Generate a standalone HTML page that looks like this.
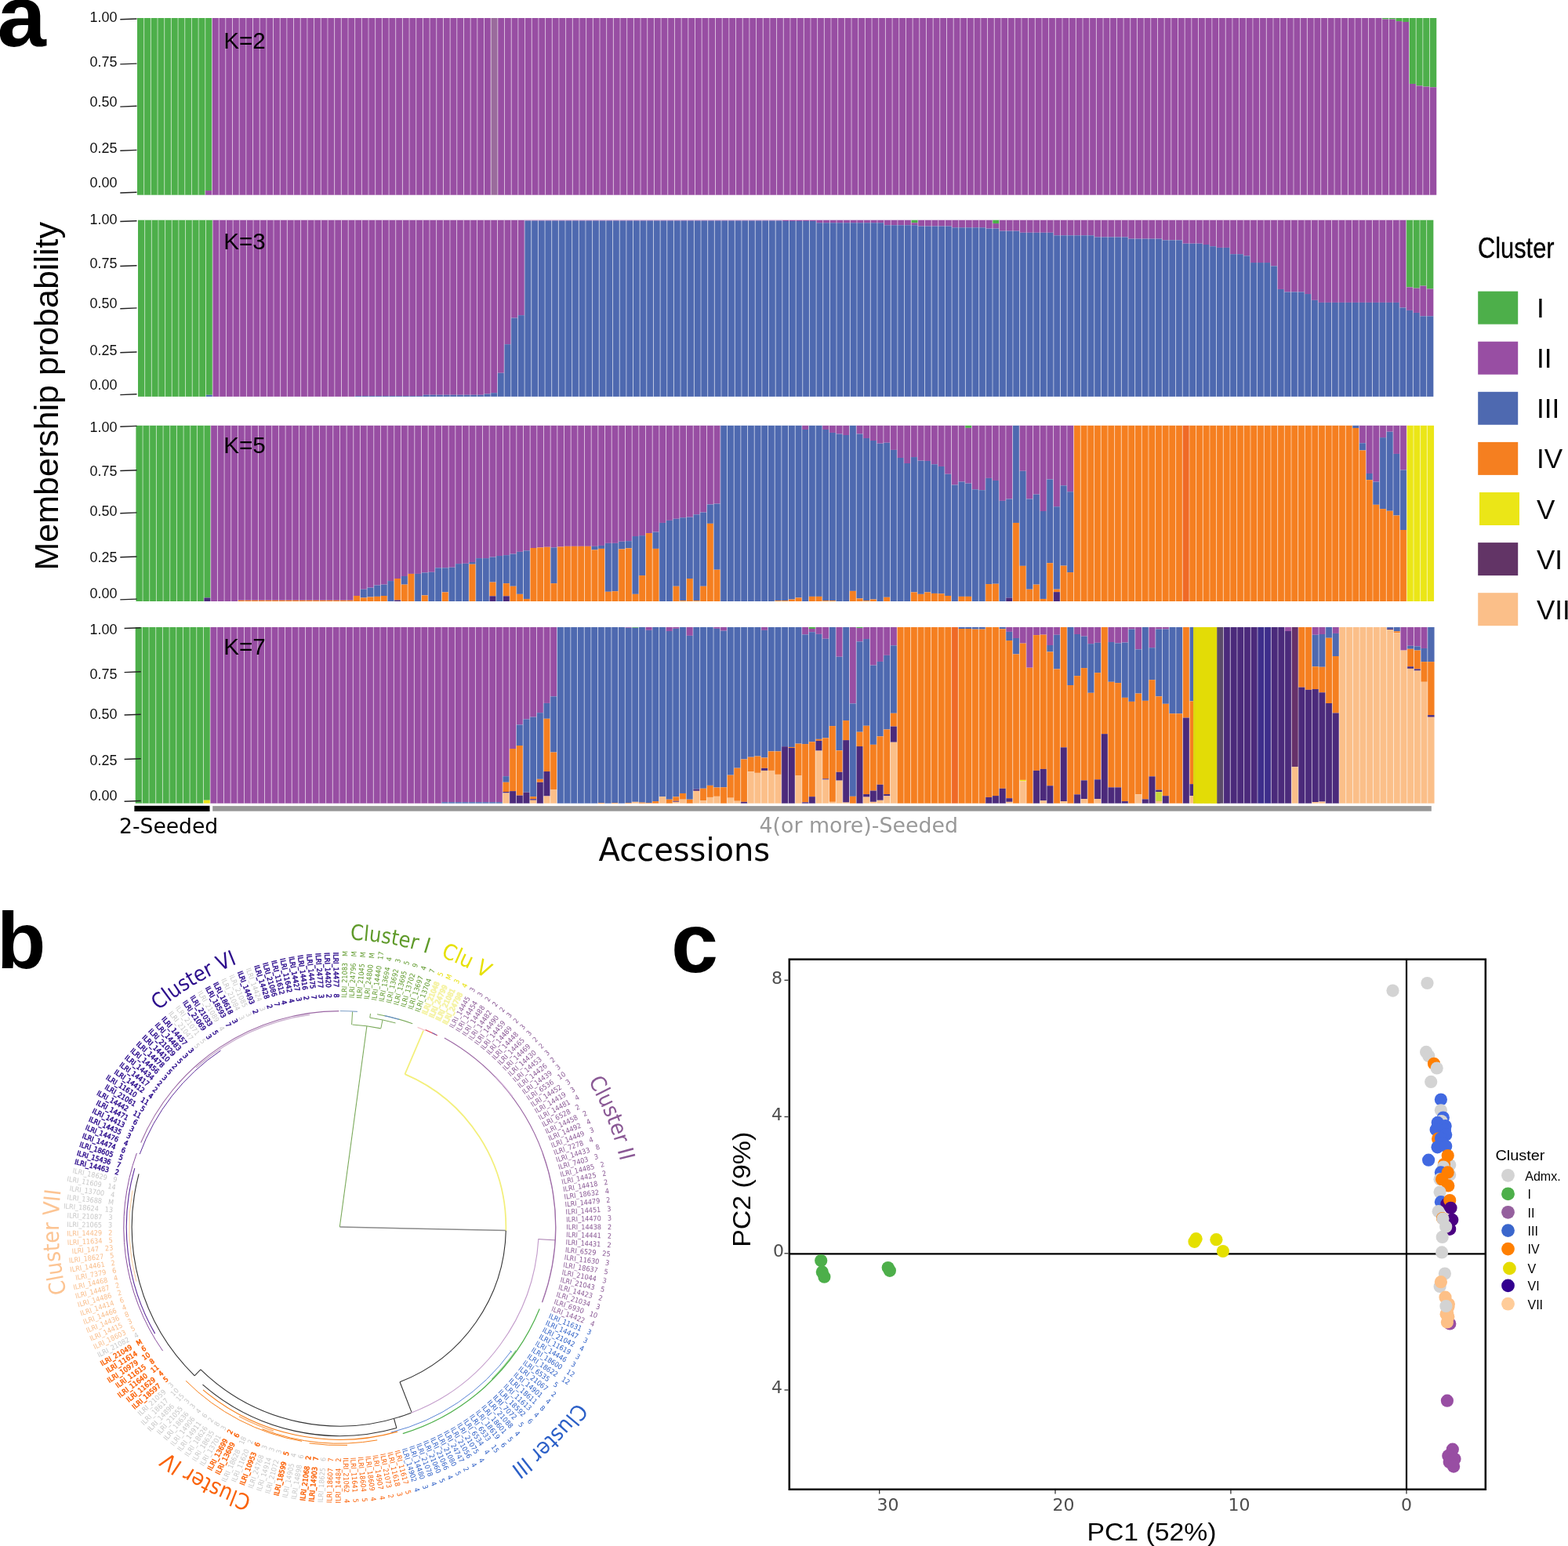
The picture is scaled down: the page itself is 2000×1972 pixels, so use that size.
<!DOCTYPE html>
<html><head><meta charset="utf-8"><title>Figure</title>
<style>html,body{margin:0;padding:0;background:#fff;}svg{display:block;}</style>
</head><body>
<svg xmlns="http://www.w3.org/2000/svg" width="2000" height="1972" viewBox="0 0 2000 1972">
<rect width="2000" height="1972" fill="#fff"/>
<rect x="175.00" y="23.00" width="8.73" height="225.70" fill="#4daf4a"/>
<rect x="183.68" y="23.00" width="8.73" height="225.70" fill="#4daf4a"/>
<rect x="192.35" y="23.00" width="8.73" height="225.70" fill="#4daf4a"/>
<rect x="201.03" y="23.00" width="8.73" height="225.70" fill="#4daf4a"/>
<rect x="209.71" y="23.00" width="8.73" height="225.70" fill="#4daf4a"/>
<rect x="218.38" y="23.00" width="8.73" height="225.70" fill="#4daf4a"/>
<rect x="227.06" y="23.00" width="8.73" height="225.70" fill="#4daf4a"/>
<rect x="235.74" y="23.00" width="8.73" height="225.70" fill="#4daf4a"/>
<rect x="244.41" y="23.00" width="8.73" height="225.70" fill="#4daf4a"/>
<rect x="253.09" y="23.00" width="8.73" height="225.70" fill="#4daf4a"/>
<rect x="261.76" y="23.00" width="8.73" height="220.06" fill="#4daf4a"/>
<rect x="261.76" y="243.06" width="8.73" height="5.64" fill="#984ea3"/>
<rect x="270.44" y="23.00" width="8.73" height="225.70" fill="#984ea3"/>
<rect x="279.12" y="23.00" width="8.73" height="225.70" fill="#984ea3"/>
<rect x="287.79" y="23.00" width="8.73" height="225.70" fill="#984ea3"/>
<rect x="296.47" y="23.00" width="8.73" height="225.70" fill="#984ea3"/>
<rect x="305.15" y="23.00" width="8.73" height="225.70" fill="#984ea3"/>
<rect x="313.82" y="23.00" width="8.73" height="225.70" fill="#984ea3"/>
<rect x="322.50" y="23.00" width="8.73" height="225.70" fill="#984ea3"/>
<rect x="331.18" y="23.00" width="8.73" height="225.70" fill="#984ea3"/>
<rect x="339.85" y="23.00" width="8.73" height="225.70" fill="#984ea3"/>
<rect x="348.53" y="23.00" width="8.73" height="225.70" fill="#984ea3"/>
<rect x="357.21" y="23.00" width="8.73" height="225.70" fill="#984ea3"/>
<rect x="365.88" y="23.00" width="8.73" height="225.70" fill="#984ea3"/>
<rect x="374.56" y="23.00" width="8.73" height="225.70" fill="#984ea3"/>
<rect x="383.23" y="23.00" width="8.73" height="225.70" fill="#984ea3"/>
<rect x="391.91" y="23.00" width="8.73" height="225.70" fill="#984ea3"/>
<rect x="400.59" y="23.00" width="8.73" height="225.70" fill="#984ea3"/>
<rect x="409.26" y="23.00" width="8.73" height="225.70" fill="#984ea3"/>
<rect x="417.94" y="23.00" width="8.73" height="225.70" fill="#984ea3"/>
<rect x="426.62" y="23.00" width="8.73" height="225.70" fill="#984ea3"/>
<rect x="435.29" y="23.00" width="8.73" height="225.70" fill="#984ea3"/>
<rect x="443.97" y="23.00" width="8.73" height="225.70" fill="#984ea3"/>
<rect x="452.65" y="23.00" width="8.73" height="225.70" fill="#984ea3"/>
<rect x="461.32" y="23.00" width="8.73" height="225.70" fill="#984ea3"/>
<rect x="470.00" y="23.00" width="8.73" height="225.70" fill="#984ea3"/>
<rect x="478.68" y="23.00" width="8.73" height="225.70" fill="#984ea3"/>
<rect x="487.35" y="23.00" width="8.73" height="225.70" fill="#984ea3"/>
<rect x="496.03" y="23.00" width="8.73" height="225.70" fill="#984ea3"/>
<rect x="504.70" y="23.00" width="8.73" height="225.70" fill="#984ea3"/>
<rect x="513.38" y="23.00" width="8.73" height="225.70" fill="#984ea3"/>
<rect x="522.06" y="23.00" width="8.73" height="225.70" fill="#984ea3"/>
<rect x="530.73" y="23.00" width="8.73" height="225.70" fill="#984ea3"/>
<rect x="539.41" y="23.00" width="8.73" height="225.70" fill="#984ea3"/>
<rect x="548.09" y="23.00" width="8.73" height="225.70" fill="#984ea3"/>
<rect x="556.76" y="23.00" width="8.73" height="225.70" fill="#984ea3"/>
<rect x="565.44" y="23.00" width="8.73" height="225.70" fill="#984ea3"/>
<rect x="574.12" y="23.00" width="8.73" height="225.70" fill="#984ea3"/>
<rect x="582.79" y="23.00" width="8.73" height="225.70" fill="#984ea3"/>
<rect x="591.47" y="23.00" width="8.73" height="225.70" fill="#984ea3"/>
<rect x="600.15" y="23.00" width="8.73" height="225.70" fill="#984ea3"/>
<rect x="608.82" y="23.00" width="8.73" height="225.70" fill="#984ea3"/>
<rect x="617.50" y="23.00" width="8.73" height="225.70" fill="#984ea3"/>
<rect x="626.17" y="23.00" width="8.73" height="225.70" fill="#9a6b9c"/>
<rect x="634.85" y="23.00" width="8.73" height="225.70" fill="#984ea3"/>
<rect x="643.53" y="23.00" width="8.73" height="225.70" fill="#984ea3"/>
<rect x="652.20" y="23.00" width="8.73" height="225.70" fill="#984ea3"/>
<rect x="660.88" y="23.00" width="8.73" height="225.70" fill="#984ea3"/>
<rect x="669.56" y="23.00" width="8.73" height="225.70" fill="#984ea3"/>
<rect x="678.23" y="23.00" width="8.73" height="225.70" fill="#984ea3"/>
<rect x="686.91" y="23.00" width="8.73" height="225.70" fill="#984ea3"/>
<rect x="695.59" y="23.00" width="8.73" height="225.70" fill="#984ea3"/>
<rect x="704.26" y="23.00" width="8.73" height="225.70" fill="#984ea3"/>
<rect x="712.94" y="23.00" width="8.73" height="225.70" fill="#984ea3"/>
<rect x="721.62" y="23.00" width="8.73" height="225.70" fill="#984ea3"/>
<rect x="730.29" y="23.00" width="8.73" height="225.70" fill="#984ea3"/>
<rect x="738.97" y="23.00" width="8.73" height="225.70" fill="#984ea3"/>
<rect x="747.65" y="23.00" width="8.73" height="225.70" fill="#984ea3"/>
<rect x="756.32" y="23.00" width="8.73" height="225.70" fill="#984ea3"/>
<rect x="765.00" y="23.00" width="8.73" height="225.70" fill="#984ea3"/>
<rect x="773.67" y="23.00" width="8.73" height="225.70" fill="#984ea3"/>
<rect x="782.35" y="23.00" width="8.73" height="225.70" fill="#984ea3"/>
<rect x="791.03" y="23.00" width="8.73" height="225.70" fill="#984ea3"/>
<rect x="799.70" y="23.00" width="8.73" height="225.70" fill="#984ea3"/>
<rect x="808.38" y="23.00" width="8.73" height="225.70" fill="#984ea3"/>
<rect x="817.06" y="23.00" width="8.73" height="225.70" fill="#984ea3"/>
<rect x="825.73" y="23.00" width="8.73" height="225.70" fill="#984ea3"/>
<rect x="834.41" y="23.00" width="8.73" height="225.70" fill="#984ea3"/>
<rect x="843.09" y="23.00" width="8.73" height="225.70" fill="#984ea3"/>
<rect x="851.76" y="23.00" width="8.73" height="225.70" fill="#984ea3"/>
<rect x="860.44" y="23.00" width="8.73" height="225.70" fill="#984ea3"/>
<rect x="869.12" y="23.00" width="8.73" height="225.70" fill="#984ea3"/>
<rect x="877.79" y="23.00" width="8.73" height="225.70" fill="#984ea3"/>
<rect x="886.47" y="23.00" width="8.73" height="225.70" fill="#984ea3"/>
<rect x="895.14" y="23.00" width="8.73" height="225.70" fill="#984ea3"/>
<rect x="903.82" y="23.00" width="8.73" height="225.70" fill="#984ea3"/>
<rect x="912.50" y="23.00" width="8.73" height="225.70" fill="#984ea3"/>
<rect x="921.17" y="23.00" width="8.73" height="225.70" fill="#984ea3"/>
<rect x="929.85" y="23.00" width="8.73" height="225.70" fill="#984ea3"/>
<rect x="938.53" y="23.00" width="8.73" height="225.70" fill="#984ea3"/>
<rect x="947.20" y="23.00" width="8.73" height="225.70" fill="#984ea3"/>
<rect x="955.88" y="23.00" width="8.73" height="225.70" fill="#984ea3"/>
<rect x="964.56" y="23.00" width="8.73" height="225.70" fill="#984ea3"/>
<rect x="973.23" y="23.00" width="8.73" height="225.70" fill="#984ea3"/>
<rect x="981.91" y="23.00" width="8.73" height="225.70" fill="#984ea3"/>
<rect x="990.59" y="23.00" width="8.73" height="225.70" fill="#984ea3"/>
<rect x="999.26" y="23.00" width="8.73" height="225.70" fill="#984ea3"/>
<rect x="1007.94" y="23.00" width="8.73" height="225.70" fill="#984ea3"/>
<rect x="1016.61" y="23.00" width="8.73" height="225.70" fill="#984ea3"/>
<rect x="1025.29" y="23.00" width="8.73" height="225.70" fill="#984ea3"/>
<rect x="1033.97" y="23.00" width="8.73" height="225.70" fill="#984ea3"/>
<rect x="1042.64" y="23.00" width="8.73" height="225.70" fill="#984ea3"/>
<rect x="1051.32" y="23.00" width="8.73" height="225.70" fill="#984ea3"/>
<rect x="1060.00" y="23.00" width="8.73" height="225.70" fill="#984ea3"/>
<rect x="1068.67" y="23.00" width="8.73" height="225.70" fill="#984ea3"/>
<rect x="1077.35" y="23.00" width="8.73" height="225.70" fill="#984ea3"/>
<rect x="1086.03" y="23.00" width="8.73" height="225.70" fill="#984ea3"/>
<rect x="1094.70" y="23.00" width="8.73" height="225.70" fill="#984ea3"/>
<rect x="1103.38" y="23.00" width="8.73" height="225.70" fill="#984ea3"/>
<rect x="1112.06" y="23.00" width="8.73" height="225.70" fill="#984ea3"/>
<rect x="1120.73" y="23.00" width="8.73" height="225.70" fill="#984ea3"/>
<rect x="1129.41" y="23.00" width="8.73" height="225.70" fill="#984ea3"/>
<rect x="1138.08" y="23.00" width="8.73" height="225.70" fill="#984ea3"/>
<rect x="1146.76" y="23.00" width="8.73" height="225.70" fill="#984ea3"/>
<rect x="1155.44" y="23.00" width="8.73" height="225.70" fill="#984ea3"/>
<rect x="1164.11" y="23.00" width="8.73" height="225.70" fill="#984ea3"/>
<rect x="1172.79" y="23.00" width="8.73" height="225.70" fill="#984ea3"/>
<rect x="1181.47" y="23.00" width="8.73" height="225.70" fill="#984ea3"/>
<rect x="1190.14" y="23.00" width="8.73" height="225.70" fill="#984ea3"/>
<rect x="1198.82" y="23.00" width="8.73" height="225.70" fill="#984ea3"/>
<rect x="1207.50" y="23.00" width="8.73" height="225.70" fill="#984ea3"/>
<rect x="1216.17" y="23.00" width="8.73" height="225.70" fill="#984ea3"/>
<rect x="1224.85" y="23.00" width="8.73" height="225.70" fill="#984ea3"/>
<rect x="1233.53" y="23.00" width="8.73" height="225.70" fill="#984ea3"/>
<rect x="1242.20" y="23.00" width="8.73" height="225.70" fill="#984ea3"/>
<rect x="1250.88" y="23.00" width="8.73" height="225.70" fill="#984ea3"/>
<rect x="1259.55" y="23.00" width="8.73" height="225.70" fill="#984ea3"/>
<rect x="1268.23" y="23.00" width="8.73" height="225.70" fill="#984ea3"/>
<rect x="1276.91" y="23.00" width="8.73" height="225.70" fill="#984ea3"/>
<rect x="1285.58" y="23.00" width="8.73" height="225.70" fill="#984ea3"/>
<rect x="1294.26" y="23.00" width="8.73" height="225.70" fill="#984ea3"/>
<rect x="1302.94" y="23.00" width="8.73" height="225.70" fill="#984ea3"/>
<rect x="1311.61" y="23.00" width="8.73" height="225.70" fill="#984ea3"/>
<rect x="1320.29" y="23.00" width="8.73" height="225.70" fill="#984ea3"/>
<rect x="1328.97" y="23.00" width="8.73" height="225.70" fill="#984ea3"/>
<rect x="1337.64" y="23.00" width="8.73" height="225.70" fill="#984ea3"/>
<rect x="1346.32" y="23.00" width="8.73" height="225.70" fill="#984ea3"/>
<rect x="1355.00" y="23.00" width="8.73" height="225.70" fill="#984ea3"/>
<rect x="1363.67" y="23.00" width="8.73" height="225.70" fill="#984ea3"/>
<rect x="1372.35" y="23.00" width="8.73" height="225.70" fill="#984ea3"/>
<rect x="1381.03" y="23.00" width="8.73" height="225.70" fill="#984ea3"/>
<rect x="1389.70" y="23.00" width="8.73" height="225.70" fill="#984ea3"/>
<rect x="1398.38" y="23.00" width="8.73" height="225.70" fill="#984ea3"/>
<rect x="1407.05" y="23.00" width="8.73" height="225.70" fill="#984ea3"/>
<rect x="1415.73" y="23.00" width="8.73" height="225.70" fill="#984ea3"/>
<rect x="1424.41" y="23.00" width="8.73" height="225.70" fill="#984ea3"/>
<rect x="1433.08" y="23.00" width="8.73" height="225.70" fill="#984ea3"/>
<rect x="1441.76" y="23.00" width="8.73" height="225.70" fill="#984ea3"/>
<rect x="1450.44" y="23.00" width="8.73" height="225.70" fill="#984ea3"/>
<rect x="1459.11" y="23.00" width="8.73" height="225.70" fill="#984ea3"/>
<rect x="1467.79" y="23.00" width="8.73" height="225.70" fill="#984ea3"/>
<rect x="1476.47" y="23.00" width="8.73" height="225.70" fill="#984ea3"/>
<rect x="1485.14" y="23.00" width="8.73" height="225.70" fill="#984ea3"/>
<rect x="1493.82" y="23.00" width="8.73" height="225.70" fill="#984ea3"/>
<rect x="1502.50" y="23.00" width="8.73" height="225.70" fill="#984ea3"/>
<rect x="1511.17" y="23.00" width="8.73" height="225.70" fill="#984ea3"/>
<rect x="1519.85" y="23.00" width="8.73" height="225.70" fill="#984ea3"/>
<rect x="1528.52" y="23.00" width="8.73" height="225.70" fill="#984ea3"/>
<rect x="1537.20" y="23.00" width="8.73" height="225.70" fill="#984ea3"/>
<rect x="1545.88" y="23.00" width="8.73" height="225.70" fill="#984ea3"/>
<rect x="1554.55" y="23.00" width="8.73" height="225.70" fill="#984ea3"/>
<rect x="1563.23" y="23.00" width="8.73" height="225.70" fill="#984ea3"/>
<rect x="1571.91" y="23.00" width="8.73" height="225.70" fill="#984ea3"/>
<rect x="1580.58" y="23.00" width="8.73" height="225.70" fill="#984ea3"/>
<rect x="1589.26" y="23.00" width="8.73" height="225.70" fill="#984ea3"/>
<rect x="1597.94" y="23.00" width="8.73" height="225.70" fill="#984ea3"/>
<rect x="1606.61" y="23.00" width="8.73" height="225.70" fill="#984ea3"/>
<rect x="1615.29" y="23.00" width="8.73" height="225.70" fill="#984ea3"/>
<rect x="1623.97" y="23.00" width="8.73" height="225.70" fill="#984ea3"/>
<rect x="1632.64" y="23.00" width="8.73" height="225.70" fill="#984ea3"/>
<rect x="1641.32" y="23.00" width="8.73" height="225.70" fill="#984ea3"/>
<rect x="1649.99" y="23.00" width="8.73" height="225.70" fill="#984ea3"/>
<rect x="1658.67" y="23.00" width="8.73" height="225.70" fill="#984ea3"/>
<rect x="1667.35" y="23.00" width="8.73" height="225.70" fill="#984ea3"/>
<rect x="1676.02" y="23.00" width="8.73" height="225.70" fill="#984ea3"/>
<rect x="1684.70" y="23.00" width="8.73" height="225.70" fill="#984ea3"/>
<rect x="1693.38" y="23.00" width="8.73" height="225.70" fill="#984ea3"/>
<rect x="1702.05" y="23.00" width="8.73" height="225.70" fill="#984ea3"/>
<rect x="1710.73" y="23.00" width="8.73" height="225.70" fill="#984ea3"/>
<rect x="1719.41" y="23.00" width="8.73" height="225.70" fill="#984ea3"/>
<rect x="1728.08" y="23.00" width="8.73" height="225.70" fill="#984ea3"/>
<rect x="1736.76" y="23.00" width="8.73" height="225.70" fill="#984ea3"/>
<rect x="1745.44" y="23.00" width="8.73" height="225.70" fill="#984ea3"/>
<rect x="1754.11" y="23.00" width="8.73" height="225.70" fill="#984ea3"/>
<rect x="1762.79" y="23.00" width="8.73" height="1.58" fill="#4daf4a"/>
<rect x="1762.79" y="24.58" width="8.73" height="224.12" fill="#984ea3"/>
<rect x="1771.46" y="23.00" width="8.73" height="1.58" fill="#4daf4a"/>
<rect x="1771.46" y="24.58" width="8.73" height="224.12" fill="#984ea3"/>
<rect x="1780.14" y="23.00" width="8.73" height="4.06" fill="#4daf4a"/>
<rect x="1780.14" y="27.06" width="8.73" height="221.64" fill="#984ea3"/>
<rect x="1788.82" y="23.00" width="8.73" height="4.97" fill="#4daf4a"/>
<rect x="1788.82" y="27.97" width="8.73" height="220.73" fill="#984ea3"/>
<rect x="1797.49" y="23.00" width="8.73" height="83.96" fill="#4daf4a"/>
<rect x="1797.49" y="106.96" width="8.73" height="141.74" fill="#984ea3"/>
<rect x="1806.17" y="23.00" width="8.73" height="86.44" fill="#4daf4a"/>
<rect x="1806.17" y="109.44" width="8.73" height="139.26" fill="#984ea3"/>
<rect x="1814.85" y="23.00" width="8.73" height="87.57" fill="#4daf4a"/>
<rect x="1814.85" y="110.57" width="8.73" height="138.13" fill="#984ea3"/>
<rect x="1823.52" y="23.00" width="8.73" height="88.25" fill="#4daf4a"/>
<rect x="1823.52" y="111.25" width="8.73" height="137.45" fill="#984ea3"/>
<path d="M183.68 23.0V248.7 M192.35 23.0V248.7 M201.03 23.0V248.7 M209.71 23.0V248.7 M218.38 23.0V248.7 M227.06 23.0V248.7 M235.74 23.0V248.7 M244.41 23.0V248.7 M253.09 23.0V248.7 M261.76 23.0V248.7 M270.44 23.0V248.7 M279.12 23.0V248.7 M287.79 23.0V248.7 M296.47 23.0V248.7 M305.15 23.0V248.7 M313.82 23.0V248.7 M322.50 23.0V248.7 M331.18 23.0V248.7 M339.85 23.0V248.7 M348.53 23.0V248.7 M357.21 23.0V248.7 M365.88 23.0V248.7 M374.56 23.0V248.7 M383.23 23.0V248.7 M391.91 23.0V248.7 M400.59 23.0V248.7 M409.26 23.0V248.7 M417.94 23.0V248.7 M426.62 23.0V248.7 M435.29 23.0V248.7 M443.97 23.0V248.7 M452.65 23.0V248.7 M461.32 23.0V248.7 M470.00 23.0V248.7 M478.68 23.0V248.7 M487.35 23.0V248.7 M496.03 23.0V248.7 M504.70 23.0V248.7 M513.38 23.0V248.7 M522.06 23.0V248.7 M530.73 23.0V248.7 M539.41 23.0V248.7 M548.09 23.0V248.7 M556.76 23.0V248.7 M565.44 23.0V248.7 M574.12 23.0V248.7 M582.79 23.0V248.7 M591.47 23.0V248.7 M600.15 23.0V248.7 M608.82 23.0V248.7 M617.50 23.0V248.7 M626.17 23.0V248.7 M634.85 23.0V248.7 M643.53 23.0V248.7 M652.20 23.0V248.7 M660.88 23.0V248.7 M669.56 23.0V248.7 M678.23 23.0V248.7 M686.91 23.0V248.7 M695.59 23.0V248.7 M704.26 23.0V248.7 M712.94 23.0V248.7 M721.62 23.0V248.7 M730.29 23.0V248.7 M738.97 23.0V248.7 M747.65 23.0V248.7 M756.32 23.0V248.7 M765.00 23.0V248.7 M773.67 23.0V248.7 M782.35 23.0V248.7 M791.03 23.0V248.7 M799.70 23.0V248.7 M808.38 23.0V248.7 M817.06 23.0V248.7 M825.73 23.0V248.7 M834.41 23.0V248.7 M843.09 23.0V248.7 M851.76 23.0V248.7 M860.44 23.0V248.7 M869.12 23.0V248.7 M877.79 23.0V248.7 M886.47 23.0V248.7 M895.14 23.0V248.7 M903.82 23.0V248.7 M912.50 23.0V248.7 M921.17 23.0V248.7 M929.85 23.0V248.7 M938.53 23.0V248.7 M947.20 23.0V248.7 M955.88 23.0V248.7 M964.56 23.0V248.7 M973.23 23.0V248.7 M981.91 23.0V248.7 M990.59 23.0V248.7 M999.26 23.0V248.7 M1007.94 23.0V248.7 M1016.61 23.0V248.7 M1025.29 23.0V248.7 M1033.97 23.0V248.7 M1042.64 23.0V248.7 M1051.32 23.0V248.7 M1060.00 23.0V248.7 M1068.67 23.0V248.7 M1077.35 23.0V248.7 M1086.03 23.0V248.7 M1094.70 23.0V248.7 M1103.38 23.0V248.7 M1112.06 23.0V248.7 M1120.73 23.0V248.7 M1129.41 23.0V248.7 M1138.08 23.0V248.7 M1146.76 23.0V248.7 M1155.44 23.0V248.7 M1164.11 23.0V248.7 M1172.79 23.0V248.7 M1181.47 23.0V248.7 M1190.14 23.0V248.7 M1198.82 23.0V248.7 M1207.50 23.0V248.7 M1216.17 23.0V248.7 M1224.85 23.0V248.7 M1233.53 23.0V248.7 M1242.20 23.0V248.7 M1250.88 23.0V248.7 M1259.55 23.0V248.7 M1268.23 23.0V248.7 M1276.91 23.0V248.7 M1285.58 23.0V248.7 M1294.26 23.0V248.7 M1302.94 23.0V248.7 M1311.61 23.0V248.7 M1320.29 23.0V248.7 M1328.97 23.0V248.7 M1337.64 23.0V248.7 M1346.32 23.0V248.7 M1355.00 23.0V248.7 M1363.67 23.0V248.7 M1372.35 23.0V248.7 M1381.03 23.0V248.7 M1389.70 23.0V248.7 M1398.38 23.0V248.7 M1407.05 23.0V248.7 M1415.73 23.0V248.7 M1424.41 23.0V248.7 M1433.08 23.0V248.7 M1441.76 23.0V248.7 M1450.44 23.0V248.7 M1459.11 23.0V248.7 M1467.79 23.0V248.7 M1476.47 23.0V248.7 M1485.14 23.0V248.7 M1493.82 23.0V248.7 M1502.50 23.0V248.7 M1511.17 23.0V248.7 M1519.85 23.0V248.7 M1528.52 23.0V248.7 M1537.20 23.0V248.7 M1545.88 23.0V248.7 M1554.55 23.0V248.7 M1563.23 23.0V248.7 M1571.91 23.0V248.7 M1580.58 23.0V248.7 M1589.26 23.0V248.7 M1597.94 23.0V248.7 M1606.61 23.0V248.7 M1615.29 23.0V248.7 M1623.97 23.0V248.7 M1632.64 23.0V248.7 M1641.32 23.0V248.7 M1649.99 23.0V248.7 M1658.67 23.0V248.7 M1667.35 23.0V248.7 M1676.02 23.0V248.7 M1684.70 23.0V248.7 M1693.38 23.0V248.7 M1702.05 23.0V248.7 M1710.73 23.0V248.7 M1719.41 23.0V248.7 M1728.08 23.0V248.7 M1736.76 23.0V248.7 M1745.44 23.0V248.7 M1754.11 23.0V248.7 M1762.79 23.0V248.7 M1771.46 23.0V248.7 M1780.14 23.0V248.7 M1788.82 23.0V248.7 M1797.49 23.0V248.7 M1806.17 23.0V248.7 M1814.85 23.0V248.7 M1823.52 23.0V248.7" stroke="#fff" stroke-width="0.9" stroke-opacity="0.6" fill="none"/>
<rect x="176.00" y="280.70" width="8.70" height="225.20" fill="#4daf4a"/>
<rect x="184.65" y="280.70" width="8.70" height="225.20" fill="#4daf4a"/>
<rect x="193.30" y="280.70" width="8.70" height="225.20" fill="#4daf4a"/>
<rect x="201.95" y="280.70" width="8.70" height="225.20" fill="#4daf4a"/>
<rect x="210.60" y="280.70" width="8.70" height="225.20" fill="#4daf4a"/>
<rect x="219.25" y="280.70" width="8.70" height="225.20" fill="#4daf4a"/>
<rect x="227.90" y="280.70" width="8.70" height="225.20" fill="#4daf4a"/>
<rect x="236.56" y="280.70" width="8.70" height="225.20" fill="#4daf4a"/>
<rect x="245.21" y="280.70" width="8.70" height="225.20" fill="#4daf4a"/>
<rect x="253.86" y="280.70" width="8.70" height="225.20" fill="#4daf4a"/>
<rect x="262.51" y="280.70" width="8.70" height="223.05" fill="#4daf4a"/>
<rect x="262.51" y="503.75" width="8.70" height="2.15" fill="#4e69b0"/>
<rect x="271.16" y="280.70" width="8.70" height="225.20" fill="#984ea3"/>
<rect x="279.81" y="280.70" width="8.70" height="225.20" fill="#984ea3"/>
<rect x="288.46" y="280.70" width="8.70" height="225.20" fill="#984ea3"/>
<rect x="297.11" y="280.70" width="8.70" height="225.20" fill="#984ea3"/>
<rect x="305.76" y="280.70" width="8.70" height="225.20" fill="#984ea3"/>
<rect x="314.41" y="280.70" width="8.70" height="225.20" fill="#984ea3"/>
<rect x="323.06" y="280.70" width="8.70" height="225.20" fill="#984ea3"/>
<rect x="331.71" y="280.70" width="8.70" height="225.20" fill="#984ea3"/>
<rect x="340.36" y="280.70" width="8.70" height="225.20" fill="#984ea3"/>
<rect x="349.02" y="280.70" width="8.70" height="225.20" fill="#984ea3"/>
<rect x="357.67" y="280.70" width="8.70" height="225.20" fill="#984ea3"/>
<rect x="366.32" y="280.70" width="8.70" height="225.20" fill="#984ea3"/>
<rect x="374.97" y="280.70" width="8.70" height="225.20" fill="#984ea3"/>
<rect x="383.62" y="280.70" width="8.70" height="225.20" fill="#984ea3"/>
<rect x="392.27" y="280.70" width="8.70" height="225.20" fill="#984ea3"/>
<rect x="400.92" y="280.70" width="8.70" height="225.20" fill="#984ea3"/>
<rect x="409.57" y="280.70" width="8.70" height="225.20" fill="#984ea3"/>
<rect x="418.22" y="280.70" width="8.70" height="225.20" fill="#984ea3"/>
<rect x="426.87" y="280.70" width="8.70" height="225.20" fill="#984ea3"/>
<rect x="435.52" y="280.70" width="8.70" height="225.20" fill="#984ea3"/>
<rect x="444.17" y="280.70" width="8.70" height="225.20" fill="#984ea3"/>
<rect x="452.83" y="280.70" width="8.70" height="224.34" fill="#984ea3"/>
<rect x="452.83" y="505.04" width="8.70" height="0.86" fill="#4e69b0"/>
<rect x="461.48" y="280.70" width="8.70" height="224.34" fill="#984ea3"/>
<rect x="461.48" y="505.04" width="8.70" height="0.86" fill="#4e69b0"/>
<rect x="470.13" y="280.70" width="8.70" height="224.34" fill="#984ea3"/>
<rect x="470.13" y="505.04" width="8.70" height="0.86" fill="#4e69b0"/>
<rect x="478.78" y="280.70" width="8.70" height="224.34" fill="#984ea3"/>
<rect x="478.78" y="505.04" width="8.70" height="0.86" fill="#4e69b0"/>
<rect x="487.43" y="280.70" width="8.70" height="224.34" fill="#984ea3"/>
<rect x="487.43" y="505.04" width="8.70" height="0.86" fill="#4e69b0"/>
<rect x="496.08" y="280.70" width="8.70" height="224.34" fill="#984ea3"/>
<rect x="496.08" y="505.04" width="8.70" height="0.86" fill="#4e69b0"/>
<rect x="504.73" y="280.70" width="8.70" height="224.34" fill="#984ea3"/>
<rect x="504.73" y="505.04" width="8.70" height="0.86" fill="#4e69b0"/>
<rect x="513.38" y="280.70" width="8.70" height="224.34" fill="#984ea3"/>
<rect x="513.38" y="505.04" width="8.70" height="0.86" fill="#4e69b0"/>
<rect x="522.03" y="280.70" width="8.70" height="224.34" fill="#984ea3"/>
<rect x="522.03" y="505.04" width="8.70" height="0.86" fill="#4e69b0"/>
<rect x="530.68" y="280.70" width="8.70" height="224.34" fill="#984ea3"/>
<rect x="530.68" y="505.04" width="8.70" height="0.86" fill="#4e69b0"/>
<rect x="539.33" y="280.70" width="8.70" height="223.05" fill="#984ea3"/>
<rect x="539.33" y="503.75" width="8.70" height="2.15" fill="#4e69b0"/>
<rect x="547.98" y="280.70" width="8.70" height="223.05" fill="#984ea3"/>
<rect x="547.98" y="503.75" width="8.70" height="2.15" fill="#4e69b0"/>
<rect x="556.63" y="280.70" width="8.70" height="223.05" fill="#984ea3"/>
<rect x="556.63" y="503.75" width="8.70" height="2.15" fill="#4e69b0"/>
<rect x="565.29" y="280.70" width="8.70" height="223.05" fill="#984ea3"/>
<rect x="565.29" y="503.75" width="8.70" height="2.15" fill="#4e69b0"/>
<rect x="573.94" y="280.70" width="8.70" height="223.05" fill="#984ea3"/>
<rect x="573.94" y="503.75" width="8.70" height="2.15" fill="#4e69b0"/>
<rect x="582.59" y="280.70" width="8.70" height="223.05" fill="#984ea3"/>
<rect x="582.59" y="503.75" width="8.70" height="2.15" fill="#4e69b0"/>
<rect x="591.24" y="280.70" width="8.70" height="223.05" fill="#984ea3"/>
<rect x="591.24" y="503.75" width="8.70" height="2.15" fill="#4e69b0"/>
<rect x="599.89" y="280.70" width="8.70" height="223.05" fill="#984ea3"/>
<rect x="599.89" y="503.75" width="8.70" height="2.15" fill="#4e69b0"/>
<rect x="608.54" y="280.70" width="8.70" height="223.05" fill="#984ea3"/>
<rect x="608.54" y="503.75" width="8.70" height="2.15" fill="#4e69b0"/>
<rect x="617.19" y="280.70" width="8.70" height="221.76" fill="#984ea3"/>
<rect x="617.19" y="502.46" width="8.70" height="3.44" fill="#4e69b0"/>
<rect x="625.84" y="280.70" width="8.70" height="220.46" fill="#984ea3"/>
<rect x="625.84" y="501.16" width="8.70" height="4.74" fill="#4e69b0"/>
<rect x="634.49" y="280.70" width="8.70" height="195.06" fill="#984ea3"/>
<rect x="634.49" y="475.76" width="8.70" height="30.14" fill="#4e69b0"/>
<rect x="643.14" y="280.70" width="8.70" height="158.46" fill="#984ea3"/>
<rect x="643.14" y="439.16" width="8.70" height="66.74" fill="#4e69b0"/>
<rect x="651.79" y="280.70" width="8.70" height="124.87" fill="#984ea3"/>
<rect x="651.79" y="405.57" width="8.70" height="100.33" fill="#4e69b0"/>
<rect x="660.44" y="280.70" width="8.70" height="121.43" fill="#984ea3"/>
<rect x="660.44" y="402.13" width="8.70" height="103.77" fill="#4e69b0"/>
<rect x="669.09" y="280.70" width="8.70" height="0.86" fill="#984ea3"/>
<rect x="669.09" y="281.56" width="8.70" height="224.34" fill="#4e69b0"/>
<rect x="677.75" y="280.70" width="8.70" height="0.86" fill="#984ea3"/>
<rect x="677.75" y="281.56" width="8.70" height="224.34" fill="#4e69b0"/>
<rect x="686.40" y="280.70" width="8.70" height="0.86" fill="#984ea3"/>
<rect x="686.40" y="281.56" width="8.70" height="224.34" fill="#4e69b0"/>
<rect x="695.05" y="280.70" width="8.70" height="0.86" fill="#984ea3"/>
<rect x="695.05" y="281.56" width="8.70" height="224.34" fill="#4e69b0"/>
<rect x="703.70" y="280.70" width="8.70" height="0.86" fill="#984ea3"/>
<rect x="703.70" y="281.56" width="8.70" height="224.34" fill="#4e69b0"/>
<rect x="712.35" y="280.70" width="8.70" height="0.86" fill="#984ea3"/>
<rect x="712.35" y="281.56" width="8.70" height="224.34" fill="#4e69b0"/>
<rect x="721.00" y="280.70" width="8.70" height="0.86" fill="#984ea3"/>
<rect x="721.00" y="281.56" width="8.70" height="224.34" fill="#4e69b0"/>
<rect x="729.65" y="280.70" width="8.70" height="0.86" fill="#984ea3"/>
<rect x="729.65" y="281.56" width="8.70" height="224.34" fill="#4e69b0"/>
<rect x="738.30" y="280.70" width="8.70" height="0.86" fill="#984ea3"/>
<rect x="738.30" y="281.56" width="8.70" height="224.34" fill="#4e69b0"/>
<rect x="746.95" y="280.70" width="8.70" height="0.86" fill="#984ea3"/>
<rect x="746.95" y="281.56" width="8.70" height="224.34" fill="#4e69b0"/>
<rect x="755.60" y="280.70" width="8.70" height="0.86" fill="#984ea3"/>
<rect x="755.60" y="281.56" width="8.70" height="224.34" fill="#4e69b0"/>
<rect x="764.25" y="280.70" width="8.70" height="0.86" fill="#984ea3"/>
<rect x="764.25" y="281.56" width="8.70" height="224.34" fill="#4e69b0"/>
<rect x="772.90" y="280.70" width="8.70" height="0.86" fill="#984ea3"/>
<rect x="772.90" y="281.56" width="8.70" height="224.34" fill="#4e69b0"/>
<rect x="781.55" y="280.70" width="8.70" height="0.86" fill="#984ea3"/>
<rect x="781.55" y="281.56" width="8.70" height="224.34" fill="#4e69b0"/>
<rect x="790.21" y="280.70" width="8.70" height="0.86" fill="#984ea3"/>
<rect x="790.21" y="281.56" width="8.70" height="224.34" fill="#4e69b0"/>
<rect x="798.86" y="280.70" width="8.70" height="0.86" fill="#984ea3"/>
<rect x="798.86" y="281.56" width="8.70" height="224.34" fill="#4e69b0"/>
<rect x="807.51" y="280.70" width="8.70" height="0.86" fill="#984ea3"/>
<rect x="807.51" y="281.56" width="8.70" height="224.34" fill="#4e69b0"/>
<rect x="816.16" y="280.70" width="8.70" height="0.86" fill="#984ea3"/>
<rect x="816.16" y="281.56" width="8.70" height="224.34" fill="#4e69b0"/>
<rect x="824.81" y="280.70" width="8.70" height="0.86" fill="#984ea3"/>
<rect x="824.81" y="281.56" width="8.70" height="224.34" fill="#4e69b0"/>
<rect x="833.46" y="280.70" width="8.70" height="0.86" fill="#984ea3"/>
<rect x="833.46" y="281.56" width="8.70" height="224.34" fill="#4e69b0"/>
<rect x="842.11" y="280.70" width="8.70" height="0.86" fill="#984ea3"/>
<rect x="842.11" y="281.56" width="8.70" height="224.34" fill="#4e69b0"/>
<rect x="850.76" y="280.70" width="8.70" height="0.86" fill="#984ea3"/>
<rect x="850.76" y="281.56" width="8.70" height="224.34" fill="#4e69b0"/>
<rect x="859.41" y="280.70" width="8.70" height="0.86" fill="#984ea3"/>
<rect x="859.41" y="281.56" width="8.70" height="224.34" fill="#4e69b0"/>
<rect x="868.06" y="280.70" width="8.70" height="0.86" fill="#984ea3"/>
<rect x="868.06" y="281.56" width="8.70" height="224.34" fill="#4e69b0"/>
<rect x="876.71" y="280.70" width="8.70" height="0.86" fill="#984ea3"/>
<rect x="876.71" y="281.56" width="8.70" height="224.34" fill="#4e69b0"/>
<rect x="885.36" y="280.70" width="8.70" height="0.86" fill="#984ea3"/>
<rect x="885.36" y="281.56" width="8.70" height="224.34" fill="#4e69b0"/>
<rect x="894.02" y="280.70" width="8.70" height="0.86" fill="#984ea3"/>
<rect x="894.02" y="281.56" width="8.70" height="224.34" fill="#4e69b0"/>
<rect x="902.67" y="280.70" width="8.70" height="0.86" fill="#984ea3"/>
<rect x="902.67" y="281.56" width="8.70" height="224.34" fill="#4e69b0"/>
<rect x="911.32" y="280.70" width="8.70" height="0.86" fill="#984ea3"/>
<rect x="911.32" y="281.56" width="8.70" height="224.34" fill="#4e69b0"/>
<rect x="919.97" y="280.70" width="8.70" height="0.86" fill="#984ea3"/>
<rect x="919.97" y="281.56" width="8.70" height="224.34" fill="#4e69b0"/>
<rect x="928.62" y="280.70" width="8.70" height="0.86" fill="#984ea3"/>
<rect x="928.62" y="281.56" width="8.70" height="224.34" fill="#4e69b0"/>
<rect x="937.27" y="280.70" width="8.70" height="0.86" fill="#984ea3"/>
<rect x="937.27" y="281.56" width="8.70" height="224.34" fill="#4e69b0"/>
<rect x="945.92" y="280.70" width="8.70" height="0.86" fill="#984ea3"/>
<rect x="945.92" y="281.56" width="8.70" height="224.34" fill="#4e69b0"/>
<rect x="954.57" y="280.70" width="8.70" height="0.86" fill="#984ea3"/>
<rect x="954.57" y="281.56" width="8.70" height="224.34" fill="#4e69b0"/>
<rect x="963.22" y="280.70" width="8.70" height="0.86" fill="#984ea3"/>
<rect x="963.22" y="281.56" width="8.70" height="224.34" fill="#4e69b0"/>
<rect x="971.87" y="280.70" width="8.70" height="0.86" fill="#984ea3"/>
<rect x="971.87" y="281.56" width="8.70" height="224.34" fill="#4e69b0"/>
<rect x="980.52" y="280.70" width="8.70" height="0.86" fill="#984ea3"/>
<rect x="980.52" y="281.56" width="8.70" height="224.34" fill="#4e69b0"/>
<rect x="989.17" y="280.70" width="8.70" height="0.86" fill="#984ea3"/>
<rect x="989.17" y="281.56" width="8.70" height="224.34" fill="#4e69b0"/>
<rect x="997.82" y="280.70" width="8.70" height="1.30" fill="#984ea3"/>
<rect x="997.82" y="282.00" width="8.70" height="223.90" fill="#4e69b0"/>
<rect x="1006.48" y="280.70" width="8.70" height="1.30" fill="#984ea3"/>
<rect x="1006.48" y="282.00" width="8.70" height="223.90" fill="#4e69b0"/>
<rect x="1015.13" y="280.70" width="8.70" height="1.30" fill="#984ea3"/>
<rect x="1015.13" y="282.00" width="8.70" height="223.90" fill="#4e69b0"/>
<rect x="1023.78" y="280.70" width="8.70" height="1.30" fill="#984ea3"/>
<rect x="1023.78" y="282.00" width="8.70" height="223.90" fill="#4e69b0"/>
<rect x="1032.43" y="280.70" width="8.70" height="1.30" fill="#984ea3"/>
<rect x="1032.43" y="282.00" width="8.70" height="223.90" fill="#4e69b0"/>
<rect x="1041.08" y="280.70" width="8.70" height="3.48" fill="#984ea3"/>
<rect x="1041.08" y="284.18" width="8.70" height="221.72" fill="#4e69b0"/>
<rect x="1049.73" y="280.70" width="8.70" height="3.48" fill="#984ea3"/>
<rect x="1049.73" y="284.18" width="8.70" height="221.72" fill="#4e69b0"/>
<rect x="1058.38" y="280.70" width="8.70" height="3.48" fill="#984ea3"/>
<rect x="1058.38" y="284.18" width="8.70" height="221.72" fill="#4e69b0"/>
<rect x="1067.03" y="280.70" width="8.70" height="3.48" fill="#984ea3"/>
<rect x="1067.03" y="284.18" width="8.70" height="221.72" fill="#4e69b0"/>
<rect x="1075.68" y="280.70" width="8.70" height="3.48" fill="#984ea3"/>
<rect x="1075.68" y="284.18" width="8.70" height="221.72" fill="#4e69b0"/>
<rect x="1084.33" y="280.70" width="8.70" height="3.48" fill="#984ea3"/>
<rect x="1084.33" y="284.18" width="8.70" height="221.72" fill="#4e69b0"/>
<rect x="1092.98" y="280.70" width="8.70" height="3.48" fill="#984ea3"/>
<rect x="1092.98" y="284.18" width="8.70" height="221.72" fill="#4e69b0"/>
<rect x="1101.63" y="280.70" width="8.70" height="3.48" fill="#984ea3"/>
<rect x="1101.63" y="284.18" width="8.70" height="221.72" fill="#4e69b0"/>
<rect x="1110.28" y="280.70" width="8.70" height="3.48" fill="#984ea3"/>
<rect x="1110.28" y="284.18" width="8.70" height="221.72" fill="#4e69b0"/>
<rect x="1118.94" y="280.70" width="8.70" height="3.48" fill="#984ea3"/>
<rect x="1118.94" y="284.18" width="8.70" height="221.72" fill="#4e69b0"/>
<rect x="1127.59" y="280.70" width="8.70" height="6.52" fill="#984ea3"/>
<rect x="1127.59" y="287.22" width="8.70" height="218.68" fill="#4e69b0"/>
<rect x="1136.24" y="280.70" width="8.70" height="6.52" fill="#984ea3"/>
<rect x="1136.24" y="287.22" width="8.70" height="218.68" fill="#4e69b0"/>
<rect x="1144.89" y="280.70" width="8.70" height="6.52" fill="#984ea3"/>
<rect x="1144.89" y="287.22" width="8.70" height="218.68" fill="#4e69b0"/>
<rect x="1153.54" y="280.70" width="8.70" height="6.52" fill="#984ea3"/>
<rect x="1153.54" y="287.22" width="8.70" height="218.68" fill="#4e69b0"/>
<rect x="1162.19" y="280.70" width="8.70" height="3.48" fill="#4daf4a"/>
<rect x="1162.19" y="284.18" width="8.70" height="3.04" fill="#984ea3"/>
<rect x="1162.19" y="287.22" width="8.70" height="218.68" fill="#4e69b0"/>
<rect x="1170.84" y="280.70" width="8.70" height="7.83" fill="#984ea3"/>
<rect x="1170.84" y="288.53" width="8.70" height="217.37" fill="#4e69b0"/>
<rect x="1179.49" y="280.70" width="8.70" height="7.83" fill="#984ea3"/>
<rect x="1179.49" y="288.53" width="8.70" height="217.37" fill="#4e69b0"/>
<rect x="1188.14" y="280.70" width="8.70" height="7.83" fill="#984ea3"/>
<rect x="1188.14" y="288.53" width="8.70" height="217.37" fill="#4e69b0"/>
<rect x="1196.79" y="280.70" width="8.70" height="7.83" fill="#984ea3"/>
<rect x="1196.79" y="288.53" width="8.70" height="217.37" fill="#4e69b0"/>
<rect x="1205.44" y="280.70" width="8.70" height="7.83" fill="#984ea3"/>
<rect x="1205.44" y="288.53" width="8.70" height="217.37" fill="#4e69b0"/>
<rect x="1214.09" y="280.70" width="8.70" height="9.56" fill="#984ea3"/>
<rect x="1214.09" y="290.26" width="8.70" height="215.64" fill="#4e69b0"/>
<rect x="1222.75" y="280.70" width="8.70" height="9.56" fill="#984ea3"/>
<rect x="1222.75" y="290.26" width="8.70" height="215.64" fill="#4e69b0"/>
<rect x="1231.40" y="280.70" width="8.70" height="9.56" fill="#984ea3"/>
<rect x="1231.40" y="290.26" width="8.70" height="215.64" fill="#4e69b0"/>
<rect x="1240.05" y="280.70" width="8.70" height="9.56" fill="#984ea3"/>
<rect x="1240.05" y="290.26" width="8.70" height="215.64" fill="#4e69b0"/>
<rect x="1248.70" y="280.70" width="8.70" height="9.56" fill="#984ea3"/>
<rect x="1248.70" y="290.26" width="8.70" height="215.64" fill="#4e69b0"/>
<rect x="1257.35" y="280.70" width="8.70" height="10.87" fill="#984ea3"/>
<rect x="1257.35" y="291.57" width="8.70" height="214.33" fill="#4e69b0"/>
<rect x="1266.00" y="280.70" width="8.70" height="4.35" fill="#4daf4a"/>
<rect x="1266.00" y="285.05" width="8.70" height="6.52" fill="#984ea3"/>
<rect x="1266.00" y="291.57" width="8.70" height="214.33" fill="#4e69b0"/>
<rect x="1274.65" y="280.70" width="8.70" height="13.91" fill="#984ea3"/>
<rect x="1274.65" y="294.61" width="8.70" height="211.29" fill="#4e69b0"/>
<rect x="1283.30" y="280.70" width="8.70" height="13.91" fill="#984ea3"/>
<rect x="1283.30" y="294.61" width="8.70" height="211.29" fill="#4e69b0"/>
<rect x="1291.95" y="280.70" width="8.70" height="13.91" fill="#984ea3"/>
<rect x="1291.95" y="294.61" width="8.70" height="211.29" fill="#4e69b0"/>
<rect x="1300.60" y="280.70" width="8.70" height="16.09" fill="#984ea3"/>
<rect x="1300.60" y="296.79" width="8.70" height="209.11" fill="#4e69b0"/>
<rect x="1309.25" y="280.70" width="8.70" height="16.09" fill="#984ea3"/>
<rect x="1309.25" y="296.79" width="8.70" height="209.11" fill="#4e69b0"/>
<rect x="1317.90" y="280.70" width="8.70" height="16.09" fill="#984ea3"/>
<rect x="1317.90" y="296.79" width="8.70" height="209.11" fill="#4e69b0"/>
<rect x="1326.55" y="280.70" width="8.70" height="16.09" fill="#984ea3"/>
<rect x="1326.55" y="296.79" width="8.70" height="209.11" fill="#4e69b0"/>
<rect x="1335.21" y="280.70" width="8.70" height="16.09" fill="#984ea3"/>
<rect x="1335.21" y="296.79" width="8.70" height="209.11" fill="#4e69b0"/>
<rect x="1343.86" y="280.70" width="8.70" height="19.56" fill="#984ea3"/>
<rect x="1343.86" y="300.26" width="8.70" height="205.64" fill="#4e69b0"/>
<rect x="1352.51" y="280.70" width="8.70" height="19.56" fill="#984ea3"/>
<rect x="1352.51" y="300.26" width="8.70" height="205.64" fill="#4e69b0"/>
<rect x="1361.16" y="280.70" width="8.70" height="19.56" fill="#984ea3"/>
<rect x="1361.16" y="300.26" width="8.70" height="205.64" fill="#4e69b0"/>
<rect x="1369.81" y="280.70" width="8.70" height="19.56" fill="#984ea3"/>
<rect x="1369.81" y="300.26" width="8.70" height="205.64" fill="#4e69b0"/>
<rect x="1378.46" y="280.70" width="8.70" height="19.56" fill="#984ea3"/>
<rect x="1378.46" y="300.26" width="8.70" height="205.64" fill="#4e69b0"/>
<rect x="1387.11" y="280.70" width="8.70" height="19.56" fill="#984ea3"/>
<rect x="1387.11" y="300.26" width="8.70" height="205.64" fill="#4e69b0"/>
<rect x="1395.76" y="280.70" width="8.70" height="21.74" fill="#984ea3"/>
<rect x="1395.76" y="302.44" width="8.70" height="203.46" fill="#4e69b0"/>
<rect x="1404.41" y="280.70" width="8.70" height="21.74" fill="#984ea3"/>
<rect x="1404.41" y="302.44" width="8.70" height="203.46" fill="#4e69b0"/>
<rect x="1413.06" y="280.70" width="8.70" height="21.74" fill="#984ea3"/>
<rect x="1413.06" y="302.44" width="8.70" height="203.46" fill="#4e69b0"/>
<rect x="1421.71" y="280.70" width="8.70" height="21.74" fill="#984ea3"/>
<rect x="1421.71" y="302.44" width="8.70" height="203.46" fill="#4e69b0"/>
<rect x="1430.36" y="280.70" width="8.70" height="21.74" fill="#984ea3"/>
<rect x="1430.36" y="302.44" width="8.70" height="203.46" fill="#4e69b0"/>
<rect x="1439.01" y="280.70" width="8.70" height="23.91" fill="#984ea3"/>
<rect x="1439.01" y="304.61" width="8.70" height="201.29" fill="#4e69b0"/>
<rect x="1447.67" y="280.70" width="8.70" height="23.91" fill="#984ea3"/>
<rect x="1447.67" y="304.61" width="8.70" height="201.29" fill="#4e69b0"/>
<rect x="1456.32" y="280.70" width="8.70" height="23.91" fill="#984ea3"/>
<rect x="1456.32" y="304.61" width="8.70" height="201.29" fill="#4e69b0"/>
<rect x="1464.97" y="280.70" width="8.70" height="23.91" fill="#984ea3"/>
<rect x="1464.97" y="304.61" width="8.70" height="201.29" fill="#4e69b0"/>
<rect x="1473.62" y="280.70" width="8.70" height="23.91" fill="#984ea3"/>
<rect x="1473.62" y="304.61" width="8.70" height="201.29" fill="#4e69b0"/>
<rect x="1482.27" y="280.70" width="8.70" height="25.65" fill="#984ea3"/>
<rect x="1482.27" y="306.35" width="8.70" height="199.55" fill="#4e69b0"/>
<rect x="1490.92" y="280.70" width="8.70" height="25.65" fill="#984ea3"/>
<rect x="1490.92" y="306.35" width="8.70" height="199.55" fill="#4e69b0"/>
<rect x="1499.57" y="280.70" width="8.70" height="25.65" fill="#984ea3"/>
<rect x="1499.57" y="306.35" width="8.70" height="199.55" fill="#4e69b0"/>
<rect x="1508.22" y="280.70" width="8.70" height="30.00" fill="#984ea3"/>
<rect x="1508.22" y="310.70" width="8.70" height="195.20" fill="#4e69b0"/>
<rect x="1516.87" y="280.70" width="8.70" height="30.00" fill="#984ea3"/>
<rect x="1516.87" y="310.70" width="8.70" height="195.20" fill="#4e69b0"/>
<rect x="1525.52" y="280.70" width="8.70" height="30.00" fill="#984ea3"/>
<rect x="1525.52" y="310.70" width="8.70" height="195.20" fill="#4e69b0"/>
<rect x="1534.17" y="280.70" width="8.70" height="31.30" fill="#984ea3"/>
<rect x="1534.17" y="312.00" width="8.70" height="193.90" fill="#4e69b0"/>
<rect x="1542.82" y="280.70" width="8.70" height="33.48" fill="#984ea3"/>
<rect x="1542.82" y="314.18" width="8.70" height="191.72" fill="#4e69b0"/>
<rect x="1551.47" y="280.70" width="8.70" height="35.21" fill="#984ea3"/>
<rect x="1551.47" y="315.91" width="8.70" height="189.99" fill="#4e69b0"/>
<rect x="1560.13" y="280.70" width="8.70" height="35.21" fill="#984ea3"/>
<rect x="1560.13" y="315.91" width="8.70" height="189.99" fill="#4e69b0"/>
<rect x="1568.78" y="280.70" width="8.70" height="43.47" fill="#984ea3"/>
<rect x="1568.78" y="324.17" width="8.70" height="181.73" fill="#4e69b0"/>
<rect x="1577.43" y="280.70" width="8.70" height="43.47" fill="#984ea3"/>
<rect x="1577.43" y="324.17" width="8.70" height="181.73" fill="#4e69b0"/>
<rect x="1586.08" y="280.70" width="8.70" height="45.65" fill="#984ea3"/>
<rect x="1586.08" y="326.35" width="8.70" height="179.55" fill="#4e69b0"/>
<rect x="1594.73" y="280.70" width="8.70" height="54.34" fill="#984ea3"/>
<rect x="1594.73" y="335.04" width="8.70" height="170.86" fill="#4e69b0"/>
<rect x="1603.38" y="280.70" width="8.70" height="54.34" fill="#984ea3"/>
<rect x="1603.38" y="335.04" width="8.70" height="170.86" fill="#4e69b0"/>
<rect x="1612.03" y="280.70" width="8.70" height="54.34" fill="#984ea3"/>
<rect x="1612.03" y="335.04" width="8.70" height="170.86" fill="#4e69b0"/>
<rect x="1620.68" y="280.70" width="8.70" height="58.69" fill="#984ea3"/>
<rect x="1620.68" y="339.39" width="8.70" height="166.51" fill="#4e69b0"/>
<rect x="1629.33" y="280.70" width="8.70" height="88.25" fill="#984ea3"/>
<rect x="1629.33" y="368.95" width="8.70" height="136.95" fill="#4e69b0"/>
<rect x="1637.98" y="280.70" width="8.70" height="91.73" fill="#984ea3"/>
<rect x="1637.98" y="372.43" width="8.70" height="133.47" fill="#4e69b0"/>
<rect x="1646.63" y="280.70" width="8.70" height="91.73" fill="#984ea3"/>
<rect x="1646.63" y="372.43" width="8.70" height="133.47" fill="#4e69b0"/>
<rect x="1655.28" y="280.70" width="8.70" height="91.73" fill="#984ea3"/>
<rect x="1655.28" y="372.43" width="8.70" height="133.47" fill="#4e69b0"/>
<rect x="1663.94" y="280.70" width="8.70" height="94.34" fill="#984ea3"/>
<rect x="1663.94" y="375.04" width="8.70" height="130.86" fill="#4e69b0"/>
<rect x="1672.59" y="280.70" width="8.70" height="102.17" fill="#984ea3"/>
<rect x="1672.59" y="382.87" width="8.70" height="123.03" fill="#4e69b0"/>
<rect x="1681.24" y="280.70" width="8.70" height="105.21" fill="#984ea3"/>
<rect x="1681.24" y="385.91" width="8.70" height="119.99" fill="#4e69b0"/>
<rect x="1689.89" y="280.70" width="8.70" height="105.21" fill="#984ea3"/>
<rect x="1689.89" y="385.91" width="8.70" height="119.99" fill="#4e69b0"/>
<rect x="1698.54" y="280.70" width="8.70" height="105.21" fill="#984ea3"/>
<rect x="1698.54" y="385.91" width="8.70" height="119.99" fill="#4e69b0"/>
<rect x="1707.19" y="280.70" width="8.70" height="105.21" fill="#984ea3"/>
<rect x="1707.19" y="385.91" width="8.70" height="119.99" fill="#4e69b0"/>
<rect x="1715.84" y="280.70" width="8.70" height="105.21" fill="#984ea3"/>
<rect x="1715.84" y="385.91" width="8.70" height="119.99" fill="#4e69b0"/>
<rect x="1724.49" y="280.70" width="8.70" height="105.21" fill="#984ea3"/>
<rect x="1724.49" y="385.91" width="8.70" height="119.99" fill="#4e69b0"/>
<rect x="1733.14" y="280.70" width="8.70" height="105.21" fill="#984ea3"/>
<rect x="1733.14" y="385.91" width="8.70" height="119.99" fill="#4e69b0"/>
<rect x="1741.79" y="280.70" width="8.70" height="105.21" fill="#984ea3"/>
<rect x="1741.79" y="385.91" width="8.70" height="119.99" fill="#4e69b0"/>
<rect x="1750.44" y="280.70" width="8.70" height="105.21" fill="#984ea3"/>
<rect x="1750.44" y="385.91" width="8.70" height="119.99" fill="#4e69b0"/>
<rect x="1759.09" y="280.70" width="8.70" height="105.21" fill="#984ea3"/>
<rect x="1759.09" y="385.91" width="8.70" height="119.99" fill="#4e69b0"/>
<rect x="1767.74" y="280.70" width="8.70" height="105.21" fill="#984ea3"/>
<rect x="1767.74" y="385.91" width="8.70" height="119.99" fill="#4e69b0"/>
<rect x="1776.40" y="280.70" width="8.70" height="105.21" fill="#984ea3"/>
<rect x="1776.40" y="385.91" width="8.70" height="119.99" fill="#4e69b0"/>
<rect x="1785.05" y="280.70" width="8.70" height="111.73" fill="#984ea3"/>
<rect x="1785.05" y="392.43" width="8.70" height="113.47" fill="#4e69b0"/>
<rect x="1793.70" y="280.70" width="8.70" height="85.65" fill="#4daf4a"/>
<rect x="1793.70" y="366.35" width="8.70" height="29.56" fill="#984ea3"/>
<rect x="1793.70" y="395.91" width="8.70" height="109.99" fill="#4e69b0"/>
<rect x="1802.35" y="280.70" width="8.70" height="86.95" fill="#4daf4a"/>
<rect x="1802.35" y="367.65" width="8.70" height="31.30" fill="#984ea3"/>
<rect x="1802.35" y="398.95" width="8.70" height="106.95" fill="#4e69b0"/>
<rect x="1811.00" y="280.70" width="8.70" height="83.91" fill="#4daf4a"/>
<rect x="1811.00" y="364.61" width="8.70" height="38.69" fill="#984ea3"/>
<rect x="1811.00" y="403.30" width="8.70" height="102.60" fill="#4e69b0"/>
<rect x="1819.65" y="280.70" width="8.70" height="87.82" fill="#4daf4a"/>
<rect x="1819.65" y="368.52" width="8.70" height="34.78" fill="#984ea3"/>
<rect x="1819.65" y="403.30" width="8.70" height="102.60" fill="#4e69b0"/>
<path d="M184.65 280.7V505.9 M193.30 280.7V505.9 M201.95 280.7V505.9 M210.60 280.7V505.9 M219.25 280.7V505.9 M227.90 280.7V505.9 M236.56 280.7V505.9 M245.21 280.7V505.9 M253.86 280.7V505.9 M262.51 280.7V505.9 M271.16 280.7V505.9 M279.81 280.7V505.9 M288.46 280.7V505.9 M297.11 280.7V505.9 M305.76 280.7V505.9 M314.41 280.7V505.9 M323.06 280.7V505.9 M331.71 280.7V505.9 M340.36 280.7V505.9 M349.02 280.7V505.9 M357.67 280.7V505.9 M366.32 280.7V505.9 M374.97 280.7V505.9 M383.62 280.7V505.9 M392.27 280.7V505.9 M400.92 280.7V505.9 M409.57 280.7V505.9 M418.22 280.7V505.9 M426.87 280.7V505.9 M435.52 280.7V505.9 M444.17 280.7V505.9 M452.83 280.7V505.9 M461.48 280.7V505.9 M470.13 280.7V505.9 M478.78 280.7V505.9 M487.43 280.7V505.9 M496.08 280.7V505.9 M504.73 280.7V505.9 M513.38 280.7V505.9 M522.03 280.7V505.9 M530.68 280.7V505.9 M539.33 280.7V505.9 M547.98 280.7V505.9 M556.63 280.7V505.9 M565.29 280.7V505.9 M573.94 280.7V505.9 M582.59 280.7V505.9 M591.24 280.7V505.9 M599.89 280.7V505.9 M608.54 280.7V505.9 M617.19 280.7V505.9 M625.84 280.7V505.9 M634.49 280.7V505.9 M643.14 280.7V505.9 M651.79 280.7V505.9 M660.44 280.7V505.9 M669.09 280.7V505.9 M677.75 280.7V505.9 M686.40 280.7V505.9 M695.05 280.7V505.9 M703.70 280.7V505.9 M712.35 280.7V505.9 M721.00 280.7V505.9 M729.65 280.7V505.9 M738.30 280.7V505.9 M746.95 280.7V505.9 M755.60 280.7V505.9 M764.25 280.7V505.9 M772.90 280.7V505.9 M781.55 280.7V505.9 M790.21 280.7V505.9 M798.86 280.7V505.9 M807.51 280.7V505.9 M816.16 280.7V505.9 M824.81 280.7V505.9 M833.46 280.7V505.9 M842.11 280.7V505.9 M850.76 280.7V505.9 M859.41 280.7V505.9 M868.06 280.7V505.9 M876.71 280.7V505.9 M885.36 280.7V505.9 M894.02 280.7V505.9 M902.67 280.7V505.9 M911.32 280.7V505.9 M919.97 280.7V505.9 M928.62 280.7V505.9 M937.27 280.7V505.9 M945.92 280.7V505.9 M954.57 280.7V505.9 M963.22 280.7V505.9 M971.87 280.7V505.9 M980.52 280.7V505.9 M989.17 280.7V505.9 M997.82 280.7V505.9 M1006.48 280.7V505.9 M1015.13 280.7V505.9 M1023.78 280.7V505.9 M1032.43 280.7V505.9 M1041.08 280.7V505.9 M1049.73 280.7V505.9 M1058.38 280.7V505.9 M1067.03 280.7V505.9 M1075.68 280.7V505.9 M1084.33 280.7V505.9 M1092.98 280.7V505.9 M1101.63 280.7V505.9 M1110.28 280.7V505.9 M1118.94 280.7V505.9 M1127.59 280.7V505.9 M1136.24 280.7V505.9 M1144.89 280.7V505.9 M1153.54 280.7V505.9 M1162.19 280.7V505.9 M1170.84 280.7V505.9 M1179.49 280.7V505.9 M1188.14 280.7V505.9 M1196.79 280.7V505.9 M1205.44 280.7V505.9 M1214.09 280.7V505.9 M1222.75 280.7V505.9 M1231.40 280.7V505.9 M1240.05 280.7V505.9 M1248.70 280.7V505.9 M1257.35 280.7V505.9 M1266.00 280.7V505.9 M1274.65 280.7V505.9 M1283.30 280.7V505.9 M1291.95 280.7V505.9 M1300.60 280.7V505.9 M1309.25 280.7V505.9 M1317.90 280.7V505.9 M1326.55 280.7V505.9 M1335.21 280.7V505.9 M1343.86 280.7V505.9 M1352.51 280.7V505.9 M1361.16 280.7V505.9 M1369.81 280.7V505.9 M1378.46 280.7V505.9 M1387.11 280.7V505.9 M1395.76 280.7V505.9 M1404.41 280.7V505.9 M1413.06 280.7V505.9 M1421.71 280.7V505.9 M1430.36 280.7V505.9 M1439.01 280.7V505.9 M1447.67 280.7V505.9 M1456.32 280.7V505.9 M1464.97 280.7V505.9 M1473.62 280.7V505.9 M1482.27 280.7V505.9 M1490.92 280.7V505.9 M1499.57 280.7V505.9 M1508.22 280.7V505.9 M1516.87 280.7V505.9 M1525.52 280.7V505.9 M1534.17 280.7V505.9 M1542.82 280.7V505.9 M1551.47 280.7V505.9 M1560.13 280.7V505.9 M1568.78 280.7V505.9 M1577.43 280.7V505.9 M1586.08 280.7V505.9 M1594.73 280.7V505.9 M1603.38 280.7V505.9 M1612.03 280.7V505.9 M1620.68 280.7V505.9 M1629.33 280.7V505.9 M1637.98 280.7V505.9 M1646.63 280.7V505.9 M1655.28 280.7V505.9 M1663.94 280.7V505.9 M1672.59 280.7V505.9 M1681.24 280.7V505.9 M1689.89 280.7V505.9 M1698.54 280.7V505.9 M1707.19 280.7V505.9 M1715.84 280.7V505.9 M1724.49 280.7V505.9 M1733.14 280.7V505.9 M1741.79 280.7V505.9 M1750.44 280.7V505.9 M1759.09 280.7V505.9 M1767.74 280.7V505.9 M1776.40 280.7V505.9 M1785.05 280.7V505.9 M1793.70 280.7V505.9 M1802.35 280.7V505.9 M1811.00 280.7V505.9 M1819.65 280.7V505.9" stroke="#fff" stroke-width="0.9" stroke-opacity="0.6" fill="none"/>
<rect x="173.40" y="542.80" width="8.72" height="224.20" fill="#4daf4a"/>
<rect x="182.07" y="542.80" width="8.72" height="224.20" fill="#4daf4a"/>
<rect x="190.74" y="542.80" width="8.72" height="224.20" fill="#4daf4a"/>
<rect x="199.40" y="542.80" width="8.72" height="224.20" fill="#4daf4a"/>
<rect x="208.07" y="542.80" width="8.72" height="224.20" fill="#4daf4a"/>
<rect x="216.74" y="542.80" width="8.72" height="224.20" fill="#4daf4a"/>
<rect x="225.41" y="542.80" width="8.72" height="224.20" fill="#4daf4a"/>
<rect x="234.08" y="542.80" width="8.72" height="224.20" fill="#4daf4a"/>
<rect x="242.74" y="542.80" width="8.72" height="224.20" fill="#4daf4a"/>
<rect x="251.41" y="542.80" width="8.72" height="224.20" fill="#4daf4a"/>
<rect x="260.08" y="542.80" width="8.72" height="219.62" fill="#4daf4a"/>
<rect x="260.08" y="762.42" width="8.72" height="4.58" fill="#4b2a7b"/>
<rect x="268.75" y="542.80" width="8.72" height="224.20" fill="#984ea3"/>
<rect x="277.42" y="542.80" width="8.72" height="224.20" fill="#984ea3"/>
<rect x="286.08" y="542.80" width="8.72" height="224.20" fill="#984ea3"/>
<rect x="294.75" y="542.80" width="8.72" height="224.20" fill="#984ea3"/>
<rect x="303.42" y="542.80" width="8.72" height="222.98" fill="#984ea3"/>
<rect x="303.42" y="765.78" width="8.72" height="1.22" fill="#f57f20"/>
<rect x="312.09" y="542.80" width="8.72" height="222.98" fill="#984ea3"/>
<rect x="312.09" y="765.78" width="8.72" height="1.22" fill="#f57f20"/>
<rect x="320.76" y="542.80" width="8.72" height="222.98" fill="#984ea3"/>
<rect x="320.76" y="765.78" width="8.72" height="1.22" fill="#f57f20"/>
<rect x="329.43" y="542.80" width="8.72" height="222.98" fill="#984ea3"/>
<rect x="329.43" y="765.78" width="8.72" height="1.22" fill="#f57f20"/>
<rect x="338.09" y="542.80" width="8.72" height="222.98" fill="#984ea3"/>
<rect x="338.09" y="765.78" width="8.72" height="1.22" fill="#f57f20"/>
<rect x="346.76" y="542.80" width="8.72" height="222.98" fill="#984ea3"/>
<rect x="346.76" y="765.78" width="8.72" height="1.22" fill="#f57f20"/>
<rect x="355.43" y="542.80" width="8.72" height="222.98" fill="#984ea3"/>
<rect x="355.43" y="765.78" width="8.72" height="1.22" fill="#f57f20"/>
<rect x="364.10" y="542.80" width="8.72" height="222.98" fill="#984ea3"/>
<rect x="364.10" y="765.78" width="8.72" height="1.22" fill="#f57f20"/>
<rect x="372.77" y="542.80" width="8.72" height="222.98" fill="#984ea3"/>
<rect x="372.77" y="765.78" width="8.72" height="1.22" fill="#f57f20"/>
<rect x="381.43" y="542.80" width="8.72" height="222.98" fill="#984ea3"/>
<rect x="381.43" y="765.78" width="8.72" height="1.22" fill="#f57f20"/>
<rect x="390.10" y="542.80" width="8.72" height="222.98" fill="#984ea3"/>
<rect x="390.10" y="765.78" width="8.72" height="1.22" fill="#f57f20"/>
<rect x="398.77" y="542.80" width="8.72" height="222.98" fill="#984ea3"/>
<rect x="398.77" y="765.78" width="8.72" height="1.22" fill="#f57f20"/>
<rect x="407.44" y="542.80" width="8.72" height="222.98" fill="#984ea3"/>
<rect x="407.44" y="765.78" width="8.72" height="1.22" fill="#f57f20"/>
<rect x="416.11" y="542.80" width="8.72" height="222.98" fill="#984ea3"/>
<rect x="416.11" y="765.78" width="8.72" height="1.22" fill="#f57f20"/>
<rect x="424.77" y="542.80" width="8.72" height="222.98" fill="#984ea3"/>
<rect x="424.77" y="765.78" width="8.72" height="1.22" fill="#f57f20"/>
<rect x="433.44" y="542.80" width="8.72" height="222.98" fill="#984ea3"/>
<rect x="433.44" y="765.78" width="8.72" height="1.22" fill="#f57f20"/>
<rect x="442.11" y="542.80" width="8.72" height="222.98" fill="#984ea3"/>
<rect x="442.11" y="765.78" width="8.72" height="1.22" fill="#f57f20"/>
<rect x="450.78" y="542.80" width="8.72" height="217.18" fill="#984ea3"/>
<rect x="450.78" y="759.98" width="8.72" height="7.02" fill="#f57f20"/>
<rect x="459.45" y="542.80" width="8.72" height="208.95" fill="#984ea3"/>
<rect x="459.45" y="751.75" width="8.72" height="10.68" fill="#4e69b0"/>
<rect x="459.45" y="762.42" width="8.72" height="4.58" fill="#f57f20"/>
<rect x="468.11" y="542.80" width="8.72" height="206.81" fill="#984ea3"/>
<rect x="468.11" y="749.61" width="8.72" height="11.90" fill="#4e69b0"/>
<rect x="468.11" y="761.51" width="8.72" height="5.49" fill="#f57f20"/>
<rect x="476.78" y="542.80" width="8.72" height="203.76" fill="#984ea3"/>
<rect x="476.78" y="746.56" width="8.72" height="14.34" fill="#4e69b0"/>
<rect x="476.78" y="760.90" width="8.72" height="6.10" fill="#f57f20"/>
<rect x="485.45" y="542.80" width="8.72" height="202.85" fill="#984ea3"/>
<rect x="485.45" y="745.65" width="8.72" height="14.34" fill="#4e69b0"/>
<rect x="485.45" y="759.98" width="8.72" height="7.02" fill="#f57f20"/>
<rect x="494.12" y="542.80" width="8.72" height="198.27" fill="#984ea3"/>
<rect x="494.12" y="741.07" width="8.72" height="25.93" fill="#4e69b0"/>
<rect x="502.79" y="542.80" width="8.72" height="195.22" fill="#984ea3"/>
<rect x="502.79" y="738.02" width="8.72" height="27.45" fill="#f57f20"/>
<rect x="502.79" y="765.47" width="8.72" height="1.53" fill="#4b2a7b"/>
<rect x="511.45" y="542.80" width="8.72" height="192.17" fill="#984ea3"/>
<rect x="511.45" y="734.97" width="8.72" height="10.68" fill="#4e69b0"/>
<rect x="511.45" y="745.65" width="8.72" height="21.35" fill="#f57f20"/>
<rect x="520.12" y="542.80" width="8.72" height="189.12" fill="#984ea3"/>
<rect x="520.12" y="731.92" width="8.72" height="35.08" fill="#f57f20"/>
<rect x="528.79" y="542.80" width="8.72" height="189.12" fill="#984ea3"/>
<rect x="528.79" y="731.92" width="8.72" height="35.08" fill="#4e69b0"/>
<rect x="537.46" y="542.80" width="8.72" height="187.60" fill="#984ea3"/>
<rect x="537.46" y="730.40" width="8.72" height="28.98" fill="#4e69b0"/>
<rect x="537.46" y="759.37" width="8.72" height="7.63" fill="#f57f20"/>
<rect x="546.13" y="542.80" width="8.72" height="186.99" fill="#984ea3"/>
<rect x="546.13" y="729.79" width="8.72" height="37.21" fill="#4e69b0"/>
<rect x="554.79" y="542.80" width="8.72" height="181.50" fill="#984ea3"/>
<rect x="554.79" y="724.30" width="8.72" height="42.70" fill="#4e69b0"/>
<rect x="563.46" y="542.80" width="8.72" height="181.50" fill="#984ea3"/>
<rect x="563.46" y="724.30" width="8.72" height="31.11" fill="#4e69b0"/>
<rect x="563.46" y="755.41" width="8.72" height="11.59" fill="#f57f20"/>
<rect x="572.13" y="542.80" width="8.72" height="180.89" fill="#984ea3"/>
<rect x="572.13" y="723.69" width="8.72" height="43.31" fill="#4e69b0"/>
<rect x="580.80" y="542.80" width="8.72" height="176.31" fill="#984ea3"/>
<rect x="580.80" y="719.11" width="8.72" height="47.89" fill="#4e69b0"/>
<rect x="589.47" y="542.80" width="8.72" height="176.00" fill="#984ea3"/>
<rect x="589.47" y="718.80" width="8.72" height="48.20" fill="#4e69b0"/>
<rect x="598.14" y="542.80" width="8.72" height="174.17" fill="#984ea3"/>
<rect x="598.14" y="716.97" width="8.72" height="2.75" fill="#4e69b0"/>
<rect x="598.14" y="719.72" width="8.72" height="47.28" fill="#f57f20"/>
<rect x="606.80" y="542.80" width="8.72" height="169.29" fill="#984ea3"/>
<rect x="606.80" y="712.09" width="8.72" height="54.91" fill="#4e69b0"/>
<rect x="615.47" y="542.80" width="8.72" height="169.29" fill="#984ea3"/>
<rect x="615.47" y="712.09" width="8.72" height="54.91" fill="#4e69b0"/>
<rect x="624.14" y="542.80" width="8.72" height="167.77" fill="#984ea3"/>
<rect x="624.14" y="710.57" width="8.72" height="32.03" fill="#4e69b0"/>
<rect x="624.14" y="742.60" width="8.72" height="17.69" fill="#f57f20"/>
<rect x="624.14" y="760.29" width="8.72" height="6.71" fill="#4b2a7b"/>
<rect x="632.81" y="542.80" width="8.72" height="166.24" fill="#984ea3"/>
<rect x="632.81" y="709.04" width="8.72" height="57.96" fill="#4e69b0"/>
<rect x="641.48" y="542.80" width="8.72" height="165.33" fill="#984ea3"/>
<rect x="641.48" y="708.13" width="8.72" height="35.99" fill="#4e69b0"/>
<rect x="641.48" y="744.12" width="8.72" height="16.17" fill="#f57f20"/>
<rect x="641.48" y="760.29" width="8.72" height="6.71" fill="#4b2a7b"/>
<rect x="650.14" y="542.80" width="8.72" height="163.80" fill="#984ea3"/>
<rect x="650.14" y="706.60" width="8.72" height="41.18" fill="#4e69b0"/>
<rect x="650.14" y="747.78" width="8.72" height="19.22" fill="#f57f20"/>
<rect x="658.81" y="542.80" width="8.72" height="161.06" fill="#984ea3"/>
<rect x="658.81" y="703.86" width="8.72" height="53.99" fill="#4e69b0"/>
<rect x="658.81" y="757.85" width="8.72" height="9.15" fill="#f57f20"/>
<rect x="667.48" y="542.80" width="8.72" height="159.53" fill="#984ea3"/>
<rect x="667.48" y="702.33" width="8.72" height="61.62" fill="#4e69b0"/>
<rect x="667.48" y="763.95" width="8.72" height="3.05" fill="#f57f20"/>
<rect x="676.15" y="542.80" width="8.72" height="156.18" fill="#984ea3"/>
<rect x="676.15" y="698.98" width="8.72" height="68.02" fill="#f57f20"/>
<rect x="684.82" y="542.80" width="8.72" height="155.57" fill="#984ea3"/>
<rect x="684.82" y="698.37" width="8.72" height="68.63" fill="#f57f20"/>
<rect x="693.48" y="542.80" width="8.72" height="154.96" fill="#984ea3"/>
<rect x="693.48" y="697.76" width="8.72" height="69.24" fill="#f57f20"/>
<rect x="702.15" y="542.80" width="8.72" height="155.57" fill="#984ea3"/>
<rect x="702.15" y="698.37" width="8.72" height="45.76" fill="#4e69b0"/>
<rect x="702.15" y="744.12" width="8.72" height="22.88" fill="#f57f20"/>
<rect x="710.82" y="542.80" width="8.72" height="154.65" fill="#984ea3"/>
<rect x="710.82" y="697.45" width="8.72" height="69.55" fill="#f57f20"/>
<rect x="719.49" y="542.80" width="8.72" height="154.04" fill="#984ea3"/>
<rect x="719.49" y="696.84" width="8.72" height="70.16" fill="#f57f20"/>
<rect x="728.16" y="542.80" width="8.72" height="154.04" fill="#984ea3"/>
<rect x="728.16" y="696.84" width="8.72" height="70.16" fill="#f57f20"/>
<rect x="736.82" y="542.80" width="8.72" height="154.04" fill="#984ea3"/>
<rect x="736.82" y="696.84" width="8.72" height="70.16" fill="#f57f20"/>
<rect x="745.49" y="542.80" width="8.72" height="154.04" fill="#984ea3"/>
<rect x="745.49" y="696.84" width="8.72" height="70.16" fill="#f57f20"/>
<rect x="754.16" y="542.80" width="8.72" height="154.04" fill="#984ea3"/>
<rect x="754.16" y="696.84" width="8.72" height="4.58" fill="#4e69b0"/>
<rect x="754.16" y="701.42" width="8.72" height="65.58" fill="#f57f20"/>
<rect x="762.83" y="542.80" width="8.72" height="153.13" fill="#984ea3"/>
<rect x="762.83" y="695.93" width="8.72" height="3.97" fill="#4e69b0"/>
<rect x="762.83" y="699.89" width="8.72" height="67.11" fill="#f57f20"/>
<rect x="771.50" y="542.80" width="8.72" height="150.08" fill="#984ea3"/>
<rect x="771.50" y="692.88" width="8.72" height="61.92" fill="#4e69b0"/>
<rect x="771.50" y="754.80" width="8.72" height="12.20" fill="#f57f20"/>
<rect x="780.16" y="542.80" width="8.72" height="150.08" fill="#984ea3"/>
<rect x="780.16" y="692.88" width="8.72" height="61.31" fill="#4e69b0"/>
<rect x="780.16" y="754.19" width="8.72" height="12.81" fill="#f57f20"/>
<rect x="788.83" y="542.80" width="8.72" height="147.94" fill="#984ea3"/>
<rect x="788.83" y="690.74" width="8.72" height="9.76" fill="#4e69b0"/>
<rect x="788.83" y="700.50" width="8.72" height="66.50" fill="#f57f20"/>
<rect x="797.50" y="542.80" width="8.72" height="147.33" fill="#984ea3"/>
<rect x="797.50" y="690.13" width="8.72" height="9.15" fill="#4e69b0"/>
<rect x="797.50" y="699.28" width="8.72" height="67.72" fill="#f57f20"/>
<rect x="806.17" y="542.80" width="8.72" height="141.23" fill="#984ea3"/>
<rect x="806.17" y="684.03" width="8.72" height="73.82" fill="#4e69b0"/>
<rect x="806.17" y="757.85" width="8.72" height="9.15" fill="#f57f20"/>
<rect x="814.84" y="542.80" width="8.72" height="140.32" fill="#984ea3"/>
<rect x="814.84" y="683.12" width="8.72" height="50.94" fill="#4e69b0"/>
<rect x="814.84" y="734.06" width="8.72" height="32.94" fill="#f57f20"/>
<rect x="823.50" y="542.80" width="8.72" height="137.27" fill="#984ea3"/>
<rect x="823.50" y="680.07" width="8.72" height="86.93" fill="#f57f20"/>
<rect x="832.17" y="542.80" width="8.72" height="135.74" fill="#984ea3"/>
<rect x="832.17" y="678.54" width="8.72" height="21.35" fill="#4e69b0"/>
<rect x="832.17" y="699.89" width="8.72" height="67.11" fill="#f57f20"/>
<rect x="840.84" y="542.80" width="8.72" height="124.15" fill="#984ea3"/>
<rect x="840.84" y="666.95" width="8.72" height="100.05" fill="#4e69b0"/>
<rect x="849.51" y="542.80" width="8.72" height="121.10" fill="#984ea3"/>
<rect x="849.51" y="663.90" width="8.72" height="103.10" fill="#4e69b0"/>
<rect x="858.18" y="542.80" width="8.72" height="118.96" fill="#984ea3"/>
<rect x="858.18" y="661.76" width="8.72" height="86.02" fill="#4e69b0"/>
<rect x="858.18" y="747.78" width="8.72" height="19.22" fill="#f57f20"/>
<rect x="866.85" y="542.80" width="8.72" height="117.44" fill="#984ea3"/>
<rect x="866.85" y="660.24" width="8.72" height="105.85" fill="#4e69b0"/>
<rect x="866.85" y="766.08" width="8.72" height="0.92" fill="#f57f20"/>
<rect x="875.51" y="542.80" width="8.72" height="116.83" fill="#984ea3"/>
<rect x="875.51" y="659.63" width="8.72" height="78.39" fill="#4e69b0"/>
<rect x="875.51" y="738.02" width="8.72" height="28.98" fill="#f57f20"/>
<rect x="884.18" y="542.80" width="8.72" height="113.47" fill="#984ea3"/>
<rect x="884.18" y="656.27" width="8.72" height="109.81" fill="#4e69b0"/>
<rect x="884.18" y="766.08" width="8.72" height="0.92" fill="#f57f20"/>
<rect x="892.85" y="542.80" width="8.72" height="110.73" fill="#984ea3"/>
<rect x="892.85" y="653.53" width="8.72" height="94.26" fill="#4e69b0"/>
<rect x="892.85" y="747.78" width="8.72" height="19.22" fill="#f57f20"/>
<rect x="901.52" y="542.80" width="8.72" height="100.66" fill="#984ea3"/>
<rect x="901.52" y="643.46" width="8.72" height="24.40" fill="#4e69b0"/>
<rect x="901.52" y="667.86" width="8.72" height="99.14" fill="#f57f20"/>
<rect x="910.19" y="542.80" width="8.72" height="99.75" fill="#984ea3"/>
<rect x="910.19" y="642.55" width="8.72" height="84.19" fill="#4e69b0"/>
<rect x="910.19" y="726.74" width="8.72" height="40.26" fill="#f57f20"/>
<rect x="918.85" y="542.80" width="8.72" height="224.20" fill="#4e69b0"/>
<rect x="927.52" y="542.80" width="8.72" height="224.20" fill="#4e69b0"/>
<rect x="936.19" y="542.80" width="8.72" height="224.20" fill="#4e69b0"/>
<rect x="944.86" y="542.80" width="8.72" height="224.20" fill="#4e69b0"/>
<rect x="953.53" y="542.80" width="8.72" height="224.20" fill="#4e69b0"/>
<rect x="962.19" y="542.80" width="8.72" height="224.20" fill="#4e69b0"/>
<rect x="970.86" y="542.80" width="8.72" height="224.20" fill="#4e69b0"/>
<rect x="979.53" y="542.80" width="8.72" height="224.20" fill="#4e69b0"/>
<rect x="988.20" y="542.80" width="8.72" height="223.28" fill="#4e69b0"/>
<rect x="988.20" y="766.08" width="8.72" height="0.92" fill="#f57f20"/>
<rect x="996.87" y="542.80" width="8.72" height="223.28" fill="#4e69b0"/>
<rect x="996.87" y="766.08" width="8.72" height="0.92" fill="#f57f20"/>
<rect x="1005.53" y="542.80" width="8.72" height="221.76" fill="#4e69b0"/>
<rect x="1005.53" y="764.56" width="8.72" height="2.44" fill="#f57f20"/>
<rect x="1014.20" y="542.80" width="8.72" height="219.62" fill="#4e69b0"/>
<rect x="1014.20" y="762.42" width="8.72" height="4.58" fill="#f57f20"/>
<rect x="1022.87" y="542.80" width="8.72" height="5.19" fill="#984ea3"/>
<rect x="1022.87" y="547.99" width="8.72" height="219.01" fill="#4e69b0"/>
<rect x="1031.54" y="542.80" width="8.72" height="218.10" fill="#4e69b0"/>
<rect x="1031.54" y="760.90" width="8.72" height="6.10" fill="#f57f20"/>
<rect x="1040.21" y="542.80" width="8.72" height="218.10" fill="#4e69b0"/>
<rect x="1040.21" y="760.90" width="8.72" height="6.10" fill="#f57f20"/>
<rect x="1048.87" y="542.80" width="8.72" height="5.19" fill="#984ea3"/>
<rect x="1048.87" y="547.99" width="8.72" height="218.10" fill="#4e69b0"/>
<rect x="1048.87" y="766.08" width="8.72" height="0.92" fill="#f57f20"/>
<rect x="1057.54" y="542.80" width="8.72" height="9.15" fill="#984ea3"/>
<rect x="1057.54" y="551.95" width="8.72" height="214.13" fill="#4e69b0"/>
<rect x="1057.54" y="766.08" width="8.72" height="0.92" fill="#f57f20"/>
<rect x="1066.21" y="542.80" width="8.72" height="10.68" fill="#984ea3"/>
<rect x="1066.21" y="553.48" width="8.72" height="213.52" fill="#4e69b0"/>
<rect x="1074.88" y="542.80" width="8.72" height="12.20" fill="#984ea3"/>
<rect x="1074.88" y="555.00" width="8.72" height="212.00" fill="#4e69b0"/>
<rect x="1083.55" y="542.80" width="8.72" height="211.08" fill="#4e69b0"/>
<rect x="1083.55" y="753.88" width="8.72" height="13.12" fill="#f57f20"/>
<rect x="1092.21" y="542.80" width="8.72" height="10.68" fill="#984ea3"/>
<rect x="1092.21" y="553.48" width="8.72" height="209.86" fill="#4e69b0"/>
<rect x="1092.21" y="763.34" width="8.72" height="3.66" fill="#f57f20"/>
<rect x="1100.88" y="542.80" width="8.72" height="16.17" fill="#984ea3"/>
<rect x="1100.88" y="558.97" width="8.72" height="207.12" fill="#4e69b0"/>
<rect x="1100.88" y="766.08" width="8.72" height="0.92" fill="#f57f20"/>
<rect x="1109.55" y="542.80" width="8.72" height="19.22" fill="#984ea3"/>
<rect x="1109.55" y="562.02" width="8.72" height="202.54" fill="#4e69b0"/>
<rect x="1109.55" y="764.56" width="8.72" height="2.44" fill="#f57f20"/>
<rect x="1118.22" y="542.80" width="8.72" height="22.88" fill="#984ea3"/>
<rect x="1118.22" y="565.68" width="8.72" height="201.32" fill="#4e69b0"/>
<rect x="1126.89" y="542.80" width="8.72" height="21.96" fill="#984ea3"/>
<rect x="1126.89" y="564.76" width="8.72" height="197.05" fill="#4e69b0"/>
<rect x="1126.89" y="761.81" width="8.72" height="5.19" fill="#f57f20"/>
<rect x="1135.55" y="542.80" width="8.72" height="31.11" fill="#984ea3"/>
<rect x="1135.55" y="573.91" width="8.72" height="193.09" fill="#4e69b0"/>
<rect x="1144.22" y="542.80" width="8.72" height="41.18" fill="#984ea3"/>
<rect x="1144.22" y="583.98" width="8.72" height="183.02" fill="#4e69b0"/>
<rect x="1152.89" y="542.80" width="8.72" height="48.20" fill="#984ea3"/>
<rect x="1152.89" y="591.00" width="8.72" height="176.00" fill="#4e69b0"/>
<rect x="1161.56" y="542.80" width="8.72" height="40.26" fill="#984ea3"/>
<rect x="1161.56" y="583.06" width="8.72" height="172.34" fill="#4e69b0"/>
<rect x="1161.56" y="755.41" width="8.72" height="11.59" fill="#f57f20"/>
<rect x="1170.23" y="542.80" width="8.72" height="44.84" fill="#984ea3"/>
<rect x="1170.23" y="587.64" width="8.72" height="170.21" fill="#4e69b0"/>
<rect x="1170.23" y="757.85" width="8.72" height="9.15" fill="#f57f20"/>
<rect x="1178.90" y="542.80" width="8.72" height="45.15" fill="#984ea3"/>
<rect x="1178.90" y="587.95" width="8.72" height="167.46" fill="#4e69b0"/>
<rect x="1178.90" y="755.41" width="8.72" height="11.59" fill="#f57f20"/>
<rect x="1187.56" y="542.80" width="8.72" height="49.42" fill="#984ea3"/>
<rect x="1187.56" y="592.22" width="8.72" height="164.72" fill="#4e69b0"/>
<rect x="1187.56" y="756.93" width="8.72" height="10.07" fill="#f57f20"/>
<rect x="1196.23" y="542.80" width="8.72" height="52.16" fill="#984ea3"/>
<rect x="1196.23" y="594.96" width="8.72" height="162.28" fill="#4e69b0"/>
<rect x="1196.23" y="757.24" width="8.72" height="9.76" fill="#f57f20"/>
<rect x="1204.90" y="542.80" width="8.72" height="61.92" fill="#984ea3"/>
<rect x="1204.90" y="604.72" width="8.72" height="155.26" fill="#4e69b0"/>
<rect x="1204.90" y="759.98" width="8.72" height="7.02" fill="#f57f20"/>
<rect x="1213.57" y="542.80" width="8.72" height="75.65" fill="#984ea3"/>
<rect x="1213.57" y="618.45" width="8.72" height="148.55" fill="#4e69b0"/>
<rect x="1222.24" y="542.80" width="8.72" height="71.68" fill="#984ea3"/>
<rect x="1222.24" y="614.48" width="8.72" height="146.42" fill="#4e69b0"/>
<rect x="1222.24" y="760.90" width="8.72" height="6.10" fill="#f57f20"/>
<rect x="1230.90" y="542.80" width="8.72" height="3.05" fill="#4daf4a"/>
<rect x="1230.90" y="545.85" width="8.72" height="70.77" fill="#984ea3"/>
<rect x="1230.90" y="616.62" width="8.72" height="144.28" fill="#4e69b0"/>
<rect x="1230.90" y="760.90" width="8.72" height="6.10" fill="#f57f20"/>
<rect x="1239.57" y="542.80" width="8.72" height="81.44" fill="#984ea3"/>
<rect x="1239.57" y="624.24" width="8.72" height="142.76" fill="#4e69b0"/>
<rect x="1248.24" y="542.80" width="8.72" height="82.36" fill="#984ea3"/>
<rect x="1248.24" y="625.16" width="8.72" height="141.84" fill="#4e69b0"/>
<rect x="1256.91" y="542.80" width="8.72" height="67.11" fill="#984ea3"/>
<rect x="1256.91" y="609.91" width="8.72" height="135.13" fill="#4e69b0"/>
<rect x="1256.91" y="745.04" width="8.72" height="21.96" fill="#f57f20"/>
<rect x="1265.58" y="542.80" width="8.72" height="70.16" fill="#984ea3"/>
<rect x="1265.58" y="612.96" width="8.72" height="131.77" fill="#4e69b0"/>
<rect x="1265.58" y="744.73" width="8.72" height="22.27" fill="#f57f20"/>
<rect x="1274.24" y="542.80" width="8.72" height="96.09" fill="#984ea3"/>
<rect x="1274.24" y="638.89" width="8.72" height="128.11" fill="#4e69b0"/>
<rect x="1282.91" y="542.80" width="8.72" height="93.65" fill="#984ea3"/>
<rect x="1282.91" y="636.45" width="8.72" height="125.98" fill="#4e69b0"/>
<rect x="1282.91" y="762.42" width="8.72" height="4.58" fill="#4b2a7b"/>
<rect x="1291.58" y="542.80" width="8.72" height="124.15" fill="#4e69b0"/>
<rect x="1291.58" y="666.95" width="8.72" height="100.05" fill="#f57f20"/>
<rect x="1300.25" y="542.80" width="8.72" height="57.96" fill="#984ea3"/>
<rect x="1300.25" y="600.76" width="8.72" height="121.10" fill="#4e69b0"/>
<rect x="1300.25" y="721.85" width="8.72" height="45.15" fill="#f57f20"/>
<rect x="1308.92" y="542.80" width="8.72" height="93.65" fill="#984ea3"/>
<rect x="1308.92" y="636.45" width="8.72" height="115.30" fill="#4e69b0"/>
<rect x="1308.92" y="751.75" width="8.72" height="15.25" fill="#f57f20"/>
<rect x="1317.58" y="542.80" width="8.72" height="87.85" fill="#984ea3"/>
<rect x="1317.58" y="630.65" width="8.72" height="115.00" fill="#4e69b0"/>
<rect x="1317.58" y="745.65" width="8.72" height="21.35" fill="#f57f20"/>
<rect x="1326.25" y="542.80" width="8.72" height="109.20" fill="#984ea3"/>
<rect x="1326.25" y="652.00" width="8.72" height="111.95" fill="#4e69b0"/>
<rect x="1326.25" y="763.95" width="8.72" height="3.05" fill="#f57f20"/>
<rect x="1334.92" y="542.80" width="8.72" height="68.58" fill="#984ea3"/>
<rect x="1334.92" y="611.38" width="8.72" height="106.82" fill="#4e69b0"/>
<rect x="1334.92" y="718.20" width="8.72" height="48.80" fill="#f57f20"/>
<rect x="1343.59" y="542.80" width="8.72" height="103.40" fill="#984ea3"/>
<rect x="1343.59" y="646.20" width="8.72" height="105.51" fill="#4e69b0"/>
<rect x="1343.59" y="751.70" width="8.72" height="3.43" fill="#f57f20"/>
<rect x="1343.59" y="755.13" width="8.72" height="11.87" fill="#4b2a7b"/>
<rect x="1352.26" y="542.80" width="8.72" height="76.49" fill="#984ea3"/>
<rect x="1352.26" y="619.29" width="8.72" height="102.34" fill="#4e69b0"/>
<rect x="1352.26" y="721.63" width="8.72" height="45.37" fill="#f57f20"/>
<rect x="1360.92" y="542.80" width="8.72" height="84.40" fill="#984ea3"/>
<rect x="1360.92" y="627.20" width="8.72" height="102.87" fill="#4e69b0"/>
<rect x="1360.92" y="730.07" width="8.72" height="36.93" fill="#f57f20"/>
<rect x="1369.59" y="542.80" width="8.72" height="224.20" fill="#f57f20"/>
<rect x="1378.26" y="542.80" width="8.72" height="224.20" fill="#f57f20"/>
<rect x="1386.93" y="542.80" width="8.72" height="224.20" fill="#f57f20"/>
<rect x="1395.60" y="542.80" width="8.72" height="224.20" fill="#f57f20"/>
<rect x="1404.26" y="542.80" width="8.72" height="224.20" fill="#f57f20"/>
<rect x="1412.93" y="542.80" width="8.72" height="224.20" fill="#f57f20"/>
<rect x="1421.60" y="542.80" width="8.72" height="224.20" fill="#f57f20"/>
<rect x="1430.27" y="542.80" width="8.72" height="224.20" fill="#f57f20"/>
<rect x="1438.94" y="542.80" width="8.72" height="224.20" fill="#f57f20"/>
<rect x="1447.61" y="542.80" width="8.72" height="224.20" fill="#f57f20"/>
<rect x="1456.27" y="542.80" width="8.72" height="224.20" fill="#f57f20"/>
<rect x="1464.94" y="542.80" width="8.72" height="224.20" fill="#f57f20"/>
<rect x="1473.61" y="542.80" width="8.72" height="224.20" fill="#f57f20"/>
<rect x="1482.28" y="542.80" width="8.72" height="224.20" fill="#f57f20"/>
<rect x="1490.95" y="542.80" width="8.72" height="224.20" fill="#f57f20"/>
<rect x="1499.61" y="542.80" width="8.72" height="224.20" fill="#f57f20"/>
<rect x="1508.28" y="542.80" width="8.72" height="224.20" fill="#ef6a27"/>
<rect x="1516.95" y="542.80" width="8.72" height="224.20" fill="#f57f20"/>
<rect x="1525.62" y="542.80" width="8.72" height="224.20" fill="#f57f20"/>
<rect x="1534.29" y="542.80" width="8.72" height="224.20" fill="#f57f20"/>
<rect x="1542.95" y="542.80" width="8.72" height="224.20" fill="#f57f20"/>
<rect x="1551.62" y="542.80" width="8.72" height="224.20" fill="#f57f20"/>
<rect x="1560.29" y="542.80" width="8.72" height="224.20" fill="#f57f20"/>
<rect x="1568.96" y="542.80" width="8.72" height="224.20" fill="#f57f20"/>
<rect x="1577.63" y="542.80" width="8.72" height="224.20" fill="#f57f20"/>
<rect x="1586.29" y="542.80" width="8.72" height="224.20" fill="#f57f20"/>
<rect x="1594.96" y="542.80" width="8.72" height="224.20" fill="#f57f20"/>
<rect x="1603.63" y="542.80" width="8.72" height="224.20" fill="#f57f20"/>
<rect x="1612.30" y="542.80" width="8.72" height="224.20" fill="#f57f20"/>
<rect x="1620.97" y="542.80" width="8.72" height="224.20" fill="#f57f20"/>
<rect x="1629.63" y="542.80" width="8.72" height="224.20" fill="#f57f20"/>
<rect x="1638.30" y="542.80" width="8.72" height="224.20" fill="#f57f20"/>
<rect x="1646.97" y="542.80" width="8.72" height="224.20" fill="#f57f20"/>
<rect x="1655.64" y="542.80" width="8.72" height="224.20" fill="#f57f20"/>
<rect x="1664.31" y="542.80" width="8.72" height="224.20" fill="#f57f20"/>
<rect x="1672.97" y="542.80" width="8.72" height="224.20" fill="#f57f20"/>
<rect x="1681.64" y="542.80" width="8.72" height="224.20" fill="#f57f20"/>
<rect x="1690.31" y="542.80" width="8.72" height="224.20" fill="#f57f20"/>
<rect x="1698.98" y="542.80" width="8.72" height="224.20" fill="#f57f20"/>
<rect x="1707.65" y="542.80" width="8.72" height="224.20" fill="#f57f20"/>
<rect x="1716.32" y="542.80" width="8.72" height="224.20" fill="#f57f20"/>
<rect x="1724.98" y="542.80" width="8.72" height="3.17" fill="#4e69b0"/>
<rect x="1724.98" y="545.97" width="8.72" height="221.03" fill="#f57f20"/>
<rect x="1733.65" y="542.80" width="8.72" height="22.42" fill="#984ea3"/>
<rect x="1733.65" y="565.22" width="8.72" height="9.23" fill="#4e69b0"/>
<rect x="1733.65" y="574.45" width="8.72" height="192.55" fill="#f57f20"/>
<rect x="1742.32" y="542.80" width="8.72" height="61.19" fill="#984ea3"/>
<rect x="1742.32" y="603.99" width="8.72" height="8.18" fill="#4e69b0"/>
<rect x="1742.32" y="612.17" width="8.72" height="154.83" fill="#f57f20"/>
<rect x="1750.99" y="542.80" width="8.72" height="71.74" fill="#984ea3"/>
<rect x="1750.99" y="614.54" width="8.72" height="29.28" fill="#4e69b0"/>
<rect x="1750.99" y="643.82" width="8.72" height="123.18" fill="#f57f20"/>
<rect x="1759.66" y="542.80" width="8.72" height="15.30" fill="#984ea3"/>
<rect x="1759.66" y="558.10" width="8.72" height="91.00" fill="#4e69b0"/>
<rect x="1759.66" y="649.10" width="8.72" height="117.90" fill="#f57f20"/>
<rect x="1768.32" y="542.80" width="8.72" height="7.91" fill="#984ea3"/>
<rect x="1768.32" y="550.71" width="8.72" height="101.02" fill="#4e69b0"/>
<rect x="1768.32" y="651.73" width="8.72" height="115.27" fill="#f57f20"/>
<rect x="1776.99" y="542.80" width="8.72" height="36.14" fill="#984ea3"/>
<rect x="1776.99" y="578.94" width="8.72" height="78.60" fill="#4e69b0"/>
<rect x="1776.99" y="657.54" width="8.72" height="109.46" fill="#f57f20"/>
<rect x="1785.66" y="542.80" width="8.72" height="56.71" fill="#984ea3"/>
<rect x="1785.66" y="599.51" width="8.72" height="76.49" fill="#4e69b0"/>
<rect x="1785.66" y="676.00" width="8.72" height="91.00" fill="#f57f20"/>
<rect x="1794.33" y="542.80" width="8.72" height="224.20" fill="#ebe617"/>
<rect x="1803.00" y="542.80" width="8.72" height="224.20" fill="#ebe617"/>
<rect x="1811.66" y="542.80" width="8.72" height="224.20" fill="#ebe617"/>
<rect x="1820.33" y="542.80" width="8.72" height="224.20" fill="#ebe617"/>
<path d="M182.07 542.8V767.0 M190.74 542.8V767.0 M199.40 542.8V767.0 M208.07 542.8V767.0 M216.74 542.8V767.0 M225.41 542.8V767.0 M234.08 542.8V767.0 M242.74 542.8V767.0 M251.41 542.8V767.0 M260.08 542.8V767.0 M268.75 542.8V767.0 M277.42 542.8V767.0 M286.08 542.8V767.0 M294.75 542.8V767.0 M303.42 542.8V767.0 M312.09 542.8V767.0 M320.76 542.8V767.0 M329.43 542.8V767.0 M338.09 542.8V767.0 M346.76 542.8V767.0 M355.43 542.8V767.0 M364.10 542.8V767.0 M372.77 542.8V767.0 M381.43 542.8V767.0 M390.10 542.8V767.0 M398.77 542.8V767.0 M407.44 542.8V767.0 M416.11 542.8V767.0 M424.77 542.8V767.0 M433.44 542.8V767.0 M442.11 542.8V767.0 M450.78 542.8V767.0 M459.45 542.8V767.0 M468.11 542.8V767.0 M476.78 542.8V767.0 M485.45 542.8V767.0 M494.12 542.8V767.0 M502.79 542.8V767.0 M511.45 542.8V767.0 M520.12 542.8V767.0 M528.79 542.8V767.0 M537.46 542.8V767.0 M546.13 542.8V767.0 M554.79 542.8V767.0 M563.46 542.8V767.0 M572.13 542.8V767.0 M580.80 542.8V767.0 M589.47 542.8V767.0 M598.14 542.8V767.0 M606.80 542.8V767.0 M615.47 542.8V767.0 M624.14 542.8V767.0 M632.81 542.8V767.0 M641.48 542.8V767.0 M650.14 542.8V767.0 M658.81 542.8V767.0 M667.48 542.8V767.0 M676.15 542.8V767.0 M684.82 542.8V767.0 M693.48 542.8V767.0 M702.15 542.8V767.0 M710.82 542.8V767.0 M719.49 542.8V767.0 M728.16 542.8V767.0 M736.82 542.8V767.0 M745.49 542.8V767.0 M754.16 542.8V767.0 M762.83 542.8V767.0 M771.50 542.8V767.0 M780.16 542.8V767.0 M788.83 542.8V767.0 M797.50 542.8V767.0 M806.17 542.8V767.0 M814.84 542.8V767.0 M823.50 542.8V767.0 M832.17 542.8V767.0 M840.84 542.8V767.0 M849.51 542.8V767.0 M858.18 542.8V767.0 M866.85 542.8V767.0 M875.51 542.8V767.0 M884.18 542.8V767.0 M892.85 542.8V767.0 M901.52 542.8V767.0 M910.19 542.8V767.0 M918.85 542.8V767.0 M927.52 542.8V767.0 M936.19 542.8V767.0 M944.86 542.8V767.0 M953.53 542.8V767.0 M962.19 542.8V767.0 M970.86 542.8V767.0 M979.53 542.8V767.0 M988.20 542.8V767.0 M996.87 542.8V767.0 M1005.53 542.8V767.0 M1014.20 542.8V767.0 M1022.87 542.8V767.0 M1031.54 542.8V767.0 M1040.21 542.8V767.0 M1048.87 542.8V767.0 M1057.54 542.8V767.0 M1066.21 542.8V767.0 M1074.88 542.8V767.0 M1083.55 542.8V767.0 M1092.21 542.8V767.0 M1100.88 542.8V767.0 M1109.55 542.8V767.0 M1118.22 542.8V767.0 M1126.89 542.8V767.0 M1135.55 542.8V767.0 M1144.22 542.8V767.0 M1152.89 542.8V767.0 M1161.56 542.8V767.0 M1170.23 542.8V767.0 M1178.90 542.8V767.0 M1187.56 542.8V767.0 M1196.23 542.8V767.0 M1204.90 542.8V767.0 M1213.57 542.8V767.0 M1222.24 542.8V767.0 M1230.90 542.8V767.0 M1239.57 542.8V767.0 M1248.24 542.8V767.0 M1256.91 542.8V767.0 M1265.58 542.8V767.0 M1274.24 542.8V767.0 M1282.91 542.8V767.0 M1291.58 542.8V767.0 M1300.25 542.8V767.0 M1308.92 542.8V767.0 M1317.58 542.8V767.0 M1326.25 542.8V767.0 M1334.92 542.8V767.0 M1343.59 542.8V767.0 M1352.26 542.8V767.0 M1360.92 542.8V767.0 M1369.59 542.8V767.0 M1378.26 542.8V767.0 M1386.93 542.8V767.0 M1395.60 542.8V767.0 M1404.26 542.8V767.0 M1412.93 542.8V767.0 M1421.60 542.8V767.0 M1430.27 542.8V767.0 M1438.94 542.8V767.0 M1447.61 542.8V767.0 M1456.27 542.8V767.0 M1464.94 542.8V767.0 M1473.61 542.8V767.0 M1482.28 542.8V767.0 M1490.95 542.8V767.0 M1499.61 542.8V767.0 M1508.28 542.8V767.0 M1516.95 542.8V767.0 M1525.62 542.8V767.0 M1534.29 542.8V767.0 M1542.95 542.8V767.0 M1551.62 542.8V767.0 M1560.29 542.8V767.0 M1568.96 542.8V767.0 M1577.63 542.8V767.0 M1586.29 542.8V767.0 M1594.96 542.8V767.0 M1603.63 542.8V767.0 M1612.30 542.8V767.0 M1620.97 542.8V767.0 M1629.63 542.8V767.0 M1638.30 542.8V767.0 M1646.97 542.8V767.0 M1655.64 542.8V767.0 M1664.31 542.8V767.0 M1672.97 542.8V767.0 M1681.64 542.8V767.0 M1690.31 542.8V767.0 M1698.98 542.8V767.0 M1707.65 542.8V767.0 M1716.32 542.8V767.0 M1724.98 542.8V767.0 M1733.65 542.8V767.0 M1742.32 542.8V767.0 M1750.99 542.8V767.0 M1759.66 542.8V767.0 M1768.32 542.8V767.0 M1776.99 542.8V767.0 M1785.66 542.8V767.0 M1794.33 542.8V767.0 M1803.00 542.8V767.0 M1811.66 542.8V767.0 M1820.33 542.8V767.0" stroke="#fff" stroke-width="0.9" stroke-opacity="0.6" fill="none"/>
<rect x="172.70" y="800.00" width="8.72" height="224.70" fill="#4daf4a"/>
<rect x="181.37" y="800.00" width="8.72" height="224.70" fill="#4daf4a"/>
<rect x="190.05" y="800.00" width="8.72" height="224.70" fill="#4daf4a"/>
<rect x="198.72" y="800.00" width="8.72" height="224.70" fill="#4daf4a"/>
<rect x="207.40" y="800.00" width="8.72" height="224.70" fill="#4daf4a"/>
<rect x="216.07" y="800.00" width="8.72" height="224.70" fill="#4daf4a"/>
<rect x="224.75" y="800.00" width="8.72" height="224.70" fill="#4daf4a"/>
<rect x="233.42" y="800.00" width="8.72" height="224.70" fill="#4daf4a"/>
<rect x="242.09" y="800.00" width="8.72" height="224.70" fill="#4daf4a"/>
<rect x="250.77" y="800.00" width="8.72" height="224.70" fill="#4daf4a"/>
<rect x="259.44" y="800.00" width="8.72" height="220.73" fill="#4daf4a"/>
<rect x="259.44" y="1020.73" width="8.72" height="3.97" fill="#ebe617"/>
<rect x="268.12" y="800.00" width="8.72" height="224.70" fill="#984ea3"/>
<rect x="276.79" y="800.00" width="8.72" height="224.70" fill="#984ea3"/>
<rect x="285.47" y="800.00" width="8.72" height="224.70" fill="#984ea3"/>
<rect x="294.14" y="800.00" width="8.72" height="224.70" fill="#984ea3"/>
<rect x="302.82" y="800.00" width="8.72" height="224.70" fill="#984ea3"/>
<rect x="311.49" y="800.00" width="8.72" height="224.70" fill="#984ea3"/>
<rect x="320.16" y="800.00" width="8.72" height="224.70" fill="#984ea3"/>
<rect x="328.84" y="800.00" width="8.72" height="224.70" fill="#984ea3"/>
<rect x="337.51" y="800.00" width="8.72" height="224.70" fill="#984ea3"/>
<rect x="346.19" y="800.00" width="8.72" height="224.70" fill="#984ea3"/>
<rect x="354.86" y="800.00" width="8.72" height="224.70" fill="#984ea3"/>
<rect x="363.54" y="800.00" width="8.72" height="224.70" fill="#984ea3"/>
<rect x="372.21" y="800.00" width="8.72" height="224.70" fill="#984ea3"/>
<rect x="380.88" y="800.00" width="8.72" height="224.70" fill="#984ea3"/>
<rect x="389.56" y="800.00" width="8.72" height="224.70" fill="#984ea3"/>
<rect x="398.23" y="800.00" width="8.72" height="224.70" fill="#984ea3"/>
<rect x="406.91" y="800.00" width="8.72" height="224.70" fill="#984ea3"/>
<rect x="415.58" y="800.00" width="8.72" height="224.70" fill="#984ea3"/>
<rect x="424.26" y="800.00" width="8.72" height="224.70" fill="#984ea3"/>
<rect x="432.93" y="800.00" width="8.72" height="224.70" fill="#984ea3"/>
<rect x="441.60" y="800.00" width="8.72" height="224.70" fill="#984ea3"/>
<rect x="450.28" y="800.00" width="8.72" height="224.70" fill="#984ea3"/>
<rect x="458.95" y="800.00" width="8.72" height="224.70" fill="#984ea3"/>
<rect x="467.63" y="800.00" width="8.72" height="224.70" fill="#984ea3"/>
<rect x="476.30" y="800.00" width="8.72" height="224.70" fill="#984ea3"/>
<rect x="484.98" y="800.00" width="8.72" height="224.70" fill="#984ea3"/>
<rect x="493.65" y="800.00" width="8.72" height="224.70" fill="#984ea3"/>
<rect x="502.33" y="800.00" width="8.72" height="224.70" fill="#984ea3"/>
<rect x="511.00" y="800.00" width="8.72" height="224.70" fill="#984ea3"/>
<rect x="519.67" y="800.00" width="8.72" height="224.70" fill="#984ea3"/>
<rect x="528.35" y="800.00" width="8.72" height="224.70" fill="#984ea3"/>
<rect x="537.02" y="800.00" width="8.72" height="224.70" fill="#984ea3"/>
<rect x="545.70" y="800.00" width="8.72" height="224.70" fill="#984ea3"/>
<rect x="554.37" y="800.00" width="8.72" height="224.70" fill="#984ea3"/>
<rect x="563.05" y="800.00" width="8.72" height="223.17" fill="#984ea3"/>
<rect x="563.05" y="1023.17" width="8.72" height="1.53" fill="#4e69b0"/>
<rect x="571.72" y="800.00" width="8.72" height="223.17" fill="#984ea3"/>
<rect x="571.72" y="1023.17" width="8.72" height="1.53" fill="#4e69b0"/>
<rect x="580.39" y="800.00" width="8.72" height="223.17" fill="#984ea3"/>
<rect x="580.39" y="1023.17" width="8.72" height="1.53" fill="#4e69b0"/>
<rect x="589.07" y="800.00" width="8.72" height="223.17" fill="#984ea3"/>
<rect x="589.07" y="1023.17" width="8.72" height="1.53" fill="#4e69b0"/>
<rect x="597.74" y="800.00" width="8.72" height="223.17" fill="#984ea3"/>
<rect x="597.74" y="1023.17" width="8.72" height="1.53" fill="#4e69b0"/>
<rect x="606.42" y="800.00" width="8.72" height="223.17" fill="#984ea3"/>
<rect x="606.42" y="1023.17" width="8.72" height="1.53" fill="#4e69b0"/>
<rect x="615.09" y="800.00" width="8.72" height="223.17" fill="#984ea3"/>
<rect x="615.09" y="1023.17" width="8.72" height="1.53" fill="#4e69b0"/>
<rect x="623.77" y="800.00" width="8.72" height="223.17" fill="#984ea3"/>
<rect x="623.77" y="1023.17" width="8.72" height="1.53" fill="#4e69b0"/>
<rect x="632.44" y="800.00" width="8.72" height="223.17" fill="#984ea3"/>
<rect x="632.44" y="1023.17" width="8.72" height="1.53" fill="#4e69b0"/>
<rect x="641.11" y="800.00" width="8.72" height="190.15" fill="#984ea3"/>
<rect x="641.11" y="990.15" width="8.72" height="7.64" fill="#4e69b0"/>
<rect x="641.11" y="997.80" width="8.72" height="12.23" fill="#f57f20"/>
<rect x="641.11" y="1010.03" width="8.72" height="1.53" fill="#4b2a7b"/>
<rect x="641.11" y="1011.55" width="8.72" height="13.15" fill="#fbbf89"/>
<rect x="649.79" y="800.00" width="8.72" height="155.00" fill="#984ea3"/>
<rect x="649.79" y="955.00" width="8.72" height="54.11" fill="#f57f20"/>
<rect x="649.79" y="1009.11" width="8.72" height="15.59" fill="#4b2a7b"/>
<rect x="658.46" y="800.00" width="8.72" height="124.43" fill="#984ea3"/>
<rect x="658.46" y="924.43" width="8.72" height="26.60" fill="#4e69b0"/>
<rect x="658.46" y="951.02" width="8.72" height="63.59" fill="#f57f20"/>
<rect x="658.46" y="1014.61" width="8.72" height="10.09" fill="#4b2a7b"/>
<rect x="667.14" y="800.00" width="8.72" height="117.39" fill="#984ea3"/>
<rect x="667.14" y="917.39" width="8.72" height="93.24" fill="#4e69b0"/>
<rect x="667.14" y="1010.64" width="8.72" height="14.06" fill="#4b2a7b"/>
<rect x="675.81" y="800.00" width="8.72" height="114.64" fill="#984ea3"/>
<rect x="675.81" y="914.64" width="8.72" height="101.50" fill="#4e69b0"/>
<rect x="675.81" y="1016.14" width="8.72" height="3.06" fill="#f57f20"/>
<rect x="675.81" y="1019.20" width="8.72" height="1.53" fill="#4b2a7b"/>
<rect x="675.81" y="1020.73" width="8.72" height="3.97" fill="#fbbf89"/>
<rect x="684.49" y="800.00" width="8.72" height="109.14" fill="#984ea3"/>
<rect x="684.49" y="909.14" width="8.72" height="84.68" fill="#4e69b0"/>
<rect x="684.49" y="993.82" width="8.72" height="3.97" fill="#f57f20"/>
<rect x="684.49" y="997.80" width="8.72" height="26.90" fill="#4b2a7b"/>
<rect x="693.16" y="800.00" width="8.72" height="96.91" fill="#984ea3"/>
<rect x="693.16" y="896.91" width="8.72" height="19.87" fill="#4e69b0"/>
<rect x="693.16" y="916.78" width="8.72" height="67.26" fill="#f57f20"/>
<rect x="693.16" y="984.04" width="8.72" height="31.49" fill="#4b2a7b"/>
<rect x="693.16" y="1015.53" width="8.72" height="9.17" fill="#fbbf89"/>
<rect x="701.84" y="800.00" width="8.72" height="88.35" fill="#984ea3"/>
<rect x="701.84" y="888.35" width="8.72" height="71.23" fill="#4e69b0"/>
<rect x="701.84" y="959.58" width="8.72" height="47.39" fill="#f57f20"/>
<rect x="701.84" y="1006.97" width="8.72" height="17.73" fill="#fbbf89"/>
<rect x="710.51" y="800.00" width="8.72" height="224.70" fill="#4e69b0"/>
<rect x="719.18" y="800.00" width="8.72" height="224.70" fill="#4e69b0"/>
<rect x="727.86" y="800.00" width="8.72" height="224.70" fill="#4e69b0"/>
<rect x="736.53" y="800.00" width="8.72" height="224.70" fill="#4e69b0"/>
<rect x="745.21" y="800.00" width="8.72" height="224.70" fill="#4e69b0"/>
<rect x="753.88" y="800.00" width="8.72" height="224.70" fill="#4e69b0"/>
<rect x="762.56" y="800.00" width="8.72" height="224.08" fill="#4e69b0"/>
<rect x="762.56" y="1024.08" width="8.72" height="0.62" fill="#f57f20"/>
<rect x="771.23" y="800.00" width="8.72" height="224.70" fill="#4e69b0"/>
<rect x="779.90" y="800.00" width="8.72" height="224.08" fill="#4e69b0"/>
<rect x="779.90" y="1024.08" width="8.72" height="0.62" fill="#f57f20"/>
<rect x="788.58" y="800.00" width="8.72" height="224.70" fill="#4e69b0"/>
<rect x="797.25" y="800.00" width="8.72" height="0.78" fill="#984ea3"/>
<rect x="797.25" y="800.78" width="8.72" height="223.30" fill="#4e69b0"/>
<rect x="797.25" y="1024.08" width="8.72" height="0.62" fill="#f57f20"/>
<rect x="805.93" y="800.00" width="8.72" height="0.78" fill="#4daf4a"/>
<rect x="805.93" y="800.78" width="8.72" height="222.06" fill="#4e69b0"/>
<rect x="805.93" y="1022.84" width="8.72" height="1.86" fill="#fbbf89"/>
<rect x="814.60" y="800.00" width="8.72" height="223.61" fill="#4e69b0"/>
<rect x="814.60" y="1023.61" width="8.72" height="1.09" fill="#f57f20"/>
<rect x="823.28" y="800.00" width="8.72" height="3.88" fill="#984ea3"/>
<rect x="823.28" y="803.88" width="8.72" height="220.20" fill="#4e69b0"/>
<rect x="823.28" y="1024.08" width="8.72" height="0.62" fill="#f57f20"/>
<rect x="831.95" y="800.00" width="8.72" height="222.06" fill="#4e69b0"/>
<rect x="831.95" y="1022.06" width="8.72" height="2.64" fill="#f57f20"/>
<rect x="840.62" y="800.00" width="8.72" height="216.16" fill="#4e69b0"/>
<rect x="840.62" y="1016.16" width="8.72" height="8.54" fill="#fbbf89"/>
<rect x="849.30" y="800.00" width="8.72" height="4.97" fill="#984ea3"/>
<rect x="849.30" y="804.97" width="8.72" height="214.76" fill="#4e69b0"/>
<rect x="849.30" y="1019.73" width="8.72" height="4.97" fill="#f57f20"/>
<rect x="857.97" y="800.00" width="8.72" height="1.86" fill="#984ea3"/>
<rect x="857.97" y="801.86" width="8.72" height="214.45" fill="#4e69b0"/>
<rect x="857.97" y="1016.31" width="8.72" height="5.44" fill="#f57f20"/>
<rect x="857.97" y="1021.75" width="8.72" height="1.09" fill="#4b2a7b"/>
<rect x="857.97" y="1022.84" width="8.72" height="1.86" fill="#fbbf89"/>
<rect x="866.65" y="800.00" width="8.72" height="211.97" fill="#4e69b0"/>
<rect x="866.65" y="1011.97" width="8.72" height="7.76" fill="#f57f20"/>
<rect x="866.65" y="1019.73" width="8.72" height="4.97" fill="#fbbf89"/>
<rect x="875.32" y="800.00" width="8.72" height="10.87" fill="#984ea3"/>
<rect x="875.32" y="810.87" width="8.72" height="208.86" fill="#4e69b0"/>
<rect x="875.32" y="1019.73" width="8.72" height="4.97" fill="#f57f20"/>
<rect x="884.00" y="800.00" width="8.72" height="206.53" fill="#4e69b0"/>
<rect x="884.00" y="1006.53" width="8.72" height="2.33" fill="#4b2a7b"/>
<rect x="884.00" y="1008.86" width="8.72" height="15.84" fill="#fbbf89"/>
<rect x="892.67" y="800.00" width="8.72" height="205.76" fill="#4e69b0"/>
<rect x="892.67" y="1005.76" width="8.72" height="15.53" fill="#f57f20"/>
<rect x="892.67" y="1021.28" width="8.72" height="3.42" fill="#fbbf89"/>
<rect x="901.35" y="800.00" width="8.72" height="201.87" fill="#4e69b0"/>
<rect x="901.35" y="1001.87" width="8.72" height="15.06" fill="#f57f20"/>
<rect x="901.35" y="1016.94" width="8.72" height="7.76" fill="#fbbf89"/>
<rect x="910.02" y="800.00" width="8.72" height="1.86" fill="#984ea3"/>
<rect x="910.02" y="801.86" width="8.72" height="202.65" fill="#4e69b0"/>
<rect x="910.02" y="1004.51" width="8.72" height="11.34" fill="#f57f20"/>
<rect x="910.02" y="1015.85" width="8.72" height="8.85" fill="#fbbf89"/>
<rect x="918.69" y="800.00" width="8.72" height="4.66" fill="#984ea3"/>
<rect x="918.69" y="804.66" width="8.72" height="199.54" fill="#4e69b0"/>
<rect x="918.69" y="1004.20" width="8.72" height="20.50" fill="#f57f20"/>
<rect x="927.37" y="800.00" width="8.72" height="188.67" fill="#4e69b0"/>
<rect x="927.37" y="988.67" width="8.72" height="29.04" fill="#f57f20"/>
<rect x="927.37" y="1017.71" width="8.72" height="6.99" fill="#fbbf89"/>
<rect x="936.04" y="800.00" width="8.72" height="179.67" fill="#4e69b0"/>
<rect x="936.04" y="979.67" width="8.72" height="42.08" fill="#f57f20"/>
<rect x="936.04" y="1021.75" width="8.72" height="2.95" fill="#fbbf89"/>
<rect x="944.72" y="800.00" width="8.72" height="168.49" fill="#4e69b0"/>
<rect x="944.72" y="968.49" width="8.72" height="54.35" fill="#f57f20"/>
<rect x="944.72" y="1022.84" width="8.72" height="1.86" fill="#4b2a7b"/>
<rect x="953.39" y="800.00" width="8.72" height="165.69" fill="#4e69b0"/>
<rect x="953.39" y="965.69" width="8.72" height="18.63" fill="#f57f20"/>
<rect x="953.39" y="984.33" width="8.72" height="40.37" fill="#fbbf89"/>
<rect x="962.07" y="800.00" width="8.72" height="164.60" fill="#4e69b0"/>
<rect x="962.07" y="964.60" width="8.72" height="21.27" fill="#f57f20"/>
<rect x="962.07" y="985.88" width="8.72" height="38.82" fill="#fbbf89"/>
<rect x="970.74" y="800.00" width="8.72" height="3.88" fill="#984ea3"/>
<rect x="970.74" y="803.88" width="8.72" height="162.59" fill="#4e69b0"/>
<rect x="970.74" y="966.47" width="8.72" height="13.35" fill="#f57f20"/>
<rect x="970.74" y="979.82" width="8.72" height="3.11" fill="#4b2a7b"/>
<rect x="970.74" y="982.93" width="8.72" height="41.77" fill="#fbbf89"/>
<rect x="979.41" y="800.00" width="8.72" height="158.39" fill="#4e69b0"/>
<rect x="979.41" y="958.39" width="8.72" height="24.54" fill="#f57f20"/>
<rect x="979.41" y="982.93" width="8.72" height="41.77" fill="#fbbf89"/>
<rect x="988.09" y="800.00" width="8.72" height="158.39" fill="#4e69b0"/>
<rect x="988.09" y="958.39" width="8.72" height="29.50" fill="#f57f20"/>
<rect x="988.09" y="987.90" width="8.72" height="36.80" fill="#fbbf89"/>
<rect x="996.76" y="800.00" width="8.72" height="152.18" fill="#4e69b0"/>
<rect x="996.76" y="952.18" width="8.72" height="72.52" fill="#4b2a7b"/>
<rect x="1005.44" y="800.00" width="8.72" height="152.96" fill="#4e69b0"/>
<rect x="1005.44" y="952.96" width="8.72" height="1.09" fill="#f57f20"/>
<rect x="1005.44" y="954.04" width="8.72" height="70.66" fill="#4b2a7b"/>
<rect x="1014.11" y="800.00" width="8.72" height="148.61" fill="#4e69b0"/>
<rect x="1014.11" y="948.61" width="8.72" height="40.84" fill="#f57f20"/>
<rect x="1014.11" y="989.45" width="8.72" height="35.25" fill="#fbbf89"/>
<rect x="1022.79" y="800.00" width="8.72" height="9.32" fill="#984ea3"/>
<rect x="1022.79" y="809.32" width="8.72" height="139.76" fill="#4e69b0"/>
<rect x="1022.79" y="949.08" width="8.72" height="74.23" fill="#f57f20"/>
<rect x="1022.79" y="1023.30" width="8.72" height="1.40" fill="#4b2a7b"/>
<rect x="1031.46" y="800.00" width="8.72" height="2.02" fill="#4daf4a"/>
<rect x="1031.46" y="802.02" width="8.72" height="4.19" fill="#984ea3"/>
<rect x="1031.46" y="806.21" width="8.72" height="140.07" fill="#4e69b0"/>
<rect x="1031.46" y="946.28" width="8.72" height="69.88" fill="#f57f20"/>
<rect x="1031.46" y="1016.16" width="8.72" height="8.54" fill="#4b2a7b"/>
<rect x="1040.13" y="800.00" width="8.72" height="8.85" fill="#984ea3"/>
<rect x="1040.13" y="808.85" width="8.72" height="134.01" fill="#4e69b0"/>
<rect x="1040.13" y="942.86" width="8.72" height="2.02" fill="#f57f20"/>
<rect x="1040.13" y="944.88" width="8.72" height="12.73" fill="#4b2a7b"/>
<rect x="1040.13" y="957.62" width="8.72" height="67.08" fill="#fbbf89"/>
<rect x="1048.81" y="800.00" width="8.72" height="14.75" fill="#984ea3"/>
<rect x="1048.81" y="814.75" width="8.72" height="126.56" fill="#4e69b0"/>
<rect x="1048.81" y="941.31" width="8.72" height="52.02" fill="#f57f20"/>
<rect x="1048.81" y="993.33" width="8.72" height="1.24" fill="#4b2a7b"/>
<rect x="1048.81" y="994.57" width="8.72" height="30.13" fill="#fbbf89"/>
<rect x="1057.48" y="800.00" width="8.72" height="126.09" fill="#4e69b0"/>
<rect x="1057.48" y="926.09" width="8.72" height="96.74" fill="#f57f20"/>
<rect x="1057.48" y="1022.84" width="8.72" height="1.86" fill="#fbbf89"/>
<rect x="1066.16" y="800.00" width="8.72" height="37.73" fill="#984ea3"/>
<rect x="1066.16" y="837.73" width="8.72" height="119.57" fill="#4e69b0"/>
<rect x="1066.16" y="957.31" width="8.72" height="27.49" fill="#f57f20"/>
<rect x="1066.16" y="984.79" width="8.72" height="10.87" fill="#4b2a7b"/>
<rect x="1066.16" y="995.66" width="8.72" height="29.04" fill="#fbbf89"/>
<rect x="1074.83" y="800.00" width="8.72" height="119.10" fill="#4e69b0"/>
<rect x="1074.83" y="919.10" width="8.72" height="25.00" fill="#f57f20"/>
<rect x="1074.83" y="944.11" width="8.72" height="79.51" fill="#4b2a7b"/>
<rect x="1074.83" y="1023.61" width="8.72" height="1.09" fill="#fbbf89"/>
<rect x="1083.51" y="800.00" width="8.72" height="97.36" fill="#984ea3"/>
<rect x="1083.51" y="897.36" width="8.72" height="118.48" fill="#4e69b0"/>
<rect x="1083.51" y="1015.85" width="8.72" height="8.85" fill="#f57f20"/>
<rect x="1092.18" y="800.00" width="8.72" height="1.09" fill="#4daf4a"/>
<rect x="1092.18" y="801.09" width="8.72" height="17.24" fill="#984ea3"/>
<rect x="1092.18" y="818.32" width="8.72" height="115.38" fill="#4e69b0"/>
<rect x="1092.18" y="933.70" width="8.72" height="18.32" fill="#f57f20"/>
<rect x="1092.18" y="952.03" width="8.72" height="72.67" fill="#4b2a7b"/>
<rect x="1100.85" y="800.00" width="8.72" height="15.06" fill="#984ea3"/>
<rect x="1100.85" y="815.06" width="8.72" height="110.72" fill="#4e69b0"/>
<rect x="1100.85" y="925.78" width="8.72" height="87.27" fill="#f57f20"/>
<rect x="1100.85" y="1013.05" width="8.72" height="3.57" fill="#4b2a7b"/>
<rect x="1100.85" y="1016.63" width="8.72" height="8.07" fill="#fbbf89"/>
<rect x="1109.53" y="800.00" width="8.72" height="48.60" fill="#984ea3"/>
<rect x="1109.53" y="848.60" width="8.72" height="101.25" fill="#4e69b0"/>
<rect x="1109.53" y="949.85" width="8.72" height="58.70" fill="#f57f20"/>
<rect x="1109.53" y="1008.55" width="8.72" height="14.29" fill="#4b2a7b"/>
<rect x="1109.53" y="1022.84" width="8.72" height="1.86" fill="#fbbf89"/>
<rect x="1118.20" y="800.00" width="8.72" height="43.95" fill="#984ea3"/>
<rect x="1118.20" y="843.95" width="8.72" height="95.35" fill="#4e69b0"/>
<rect x="1118.20" y="939.29" width="8.72" height="61.49" fill="#f57f20"/>
<rect x="1118.20" y="1000.79" width="8.72" height="20.03" fill="#4b2a7b"/>
<rect x="1118.20" y="1020.82" width="8.72" height="3.88" fill="#fbbf89"/>
<rect x="1126.88" y="800.00" width="8.72" height="35.87" fill="#984ea3"/>
<rect x="1126.88" y="835.87" width="8.72" height="94.57" fill="#4e69b0"/>
<rect x="1126.88" y="930.44" width="8.72" height="82.61" fill="#f57f20"/>
<rect x="1126.88" y="1013.05" width="8.72" height="2.33" fill="#4b2a7b"/>
<rect x="1126.88" y="1015.38" width="8.72" height="9.32" fill="#fbbf89"/>
<rect x="1135.55" y="800.00" width="8.72" height="23.29" fill="#984ea3"/>
<rect x="1135.55" y="823.29" width="8.72" height="86.49" fill="#4e69b0"/>
<rect x="1135.55" y="909.79" width="8.72" height="16.77" fill="#f57f20"/>
<rect x="1135.55" y="926.56" width="8.72" height="20.19" fill="#4b2a7b"/>
<rect x="1135.55" y="946.75" width="8.72" height="77.95" fill="#fbbf89"/>
<rect x="1144.23" y="800.00" width="8.72" height="224.70" fill="#f57f20"/>
<rect x="1152.90" y="800.00" width="8.72" height="224.70" fill="#f57f20"/>
<rect x="1161.58" y="800.00" width="8.72" height="224.70" fill="#f57f20"/>
<rect x="1170.25" y="800.00" width="8.72" height="224.70" fill="#f57f20"/>
<rect x="1178.92" y="800.00" width="8.72" height="224.70" fill="#f57f20"/>
<rect x="1187.60" y="800.00" width="8.72" height="224.70" fill="#f57f20"/>
<rect x="1196.27" y="800.00" width="8.72" height="224.70" fill="#f57f20"/>
<rect x="1204.95" y="800.00" width="8.72" height="224.70" fill="#f57f20"/>
<rect x="1213.62" y="800.00" width="8.72" height="224.70" fill="#ef6a27"/>
<rect x="1222.30" y="800.00" width="8.72" height="2.02" fill="#4e69b0"/>
<rect x="1222.30" y="802.02" width="8.72" height="222.68" fill="#f57f20"/>
<rect x="1230.97" y="800.00" width="8.72" height="2.02" fill="#4e69b0"/>
<rect x="1230.97" y="802.02" width="8.72" height="222.68" fill="#f57f20"/>
<rect x="1239.64" y="800.00" width="8.72" height="2.64" fill="#4e69b0"/>
<rect x="1239.64" y="802.64" width="8.72" height="222.06" fill="#f57f20"/>
<rect x="1248.32" y="800.00" width="8.72" height="2.64" fill="#4e69b0"/>
<rect x="1248.32" y="802.64" width="8.72" height="222.06" fill="#f57f20"/>
<rect x="1256.99" y="800.00" width="8.72" height="216.94" fill="#f57f20"/>
<rect x="1256.99" y="1016.94" width="8.72" height="7.76" fill="#4b2a7b"/>
<rect x="1265.67" y="800.00" width="8.72" height="215.07" fill="#f57f20"/>
<rect x="1265.67" y="1015.07" width="8.72" height="9.63" fill="#4b2a7b"/>
<rect x="1274.34" y="800.00" width="8.72" height="2.33" fill="#4e69b0"/>
<rect x="1274.34" y="802.33" width="8.72" height="203.43" fill="#f57f20"/>
<rect x="1274.34" y="1005.76" width="8.72" height="18.94" fill="#4b2a7b"/>
<rect x="1283.02" y="800.00" width="8.72" height="5.90" fill="#984ea3"/>
<rect x="1283.02" y="805.90" width="8.72" height="11.18" fill="#4e69b0"/>
<rect x="1283.02" y="817.08" width="8.72" height="201.10" fill="#f57f20"/>
<rect x="1283.02" y="1018.18" width="8.72" height="4.66" fill="#4b2a7b"/>
<rect x="1283.02" y="1022.84" width="8.72" height="1.86" fill="#fbbf89"/>
<rect x="1291.69" y="800.00" width="8.72" height="13.98" fill="#984ea3"/>
<rect x="1291.69" y="813.98" width="8.72" height="20.50" fill="#4e69b0"/>
<rect x="1291.69" y="834.47" width="8.72" height="190.23" fill="#f57f20"/>
<rect x="1300.36" y="800.00" width="8.72" height="20.65" fill="#984ea3"/>
<rect x="1300.36" y="820.65" width="8.72" height="174.23" fill="#f57f20"/>
<rect x="1300.36" y="994.88" width="8.72" height="1.55" fill="#ebe617"/>
<rect x="1300.36" y="996.44" width="8.72" height="28.26" fill="#fbbf89"/>
<rect x="1309.04" y="800.00" width="8.72" height="51.71" fill="#984ea3"/>
<rect x="1309.04" y="851.71" width="8.72" height="172.99" fill="#f57f20"/>
<rect x="1317.71" y="800.00" width="8.72" height="10.09" fill="#984ea3"/>
<rect x="1317.71" y="810.09" width="8.72" height="172.83" fill="#f57f20"/>
<rect x="1317.71" y="982.93" width="8.72" height="41.77" fill="#4b2a7b"/>
<rect x="1326.39" y="800.00" width="8.72" height="9.63" fill="#984ea3"/>
<rect x="1326.39" y="809.63" width="8.72" height="171.28" fill="#f57f20"/>
<rect x="1326.39" y="980.91" width="8.72" height="40.37" fill="#4b2a7b"/>
<rect x="1326.39" y="1021.28" width="8.72" height="3.42" fill="#fbbf89"/>
<rect x="1335.06" y="800.00" width="8.72" height="23.00" fill="#984ea3"/>
<rect x="1335.06" y="823.00" width="8.72" height="8.46" fill="#4e69b0"/>
<rect x="1335.06" y="831.46" width="8.72" height="170.77" fill="#f57f20"/>
<rect x="1335.06" y="1002.23" width="8.72" height="22.47" fill="#4b2a7b"/>
<rect x="1343.74" y="800.00" width="8.72" height="9.78" fill="#984ea3"/>
<rect x="1343.74" y="809.78" width="8.72" height="43.62" fill="#4e69b0"/>
<rect x="1343.74" y="853.40" width="8.72" height="171.30" fill="#f57f20"/>
<rect x="1352.41" y="800.00" width="8.72" height="153.32" fill="#f57f20"/>
<rect x="1352.41" y="953.32" width="8.72" height="68.73" fill="#4b2a7b"/>
<rect x="1352.41" y="1022.06" width="8.72" height="2.64" fill="#fbbf89"/>
<rect x="1361.09" y="800.00" width="8.72" height="74.02" fill="#4e69b0"/>
<rect x="1361.09" y="874.02" width="8.72" height="150.68" fill="#f57f20"/>
<rect x="1369.76" y="800.00" width="8.72" height="8.99" fill="#984ea3"/>
<rect x="1369.76" y="808.99" width="8.72" height="53.13" fill="#4e69b0"/>
<rect x="1369.76" y="862.12" width="8.72" height="151.21" fill="#f57f20"/>
<rect x="1369.76" y="1013.33" width="8.72" height="11.37" fill="#4b2a7b"/>
<rect x="1378.43" y="800.00" width="8.72" height="11.63" fill="#984ea3"/>
<rect x="1378.43" y="811.63" width="8.72" height="40.45" fill="#4e69b0"/>
<rect x="1378.43" y="852.08" width="8.72" height="143.28" fill="#f57f20"/>
<rect x="1378.43" y="995.36" width="8.72" height="23.79" fill="#4b2a7b"/>
<rect x="1378.43" y="1019.15" width="8.72" height="5.55" fill="#fbbf89"/>
<rect x="1387.11" y="800.00" width="8.72" height="21.15" fill="#984ea3"/>
<rect x="1387.11" y="821.15" width="8.72" height="62.65" fill="#4e69b0"/>
<rect x="1387.11" y="883.80" width="8.72" height="140.90" fill="#f57f20"/>
<rect x="1395.78" y="800.00" width="8.72" height="19.83" fill="#984ea3"/>
<rect x="1395.78" y="819.83" width="8.72" height="38.33" fill="#4e69b0"/>
<rect x="1395.78" y="858.16" width="8.72" height="136.14" fill="#f57f20"/>
<rect x="1395.78" y="994.30" width="8.72" height="24.85" fill="#4b2a7b"/>
<rect x="1395.78" y="1019.15" width="8.72" height="5.55" fill="#fbbf89"/>
<rect x="1404.46" y="800.00" width="8.72" height="136.14" fill="#f57f20"/>
<rect x="1404.46" y="936.14" width="8.72" height="88.56" fill="#4b2a7b"/>
<rect x="1413.13" y="800.00" width="8.72" height="19.03" fill="#984ea3"/>
<rect x="1413.13" y="819.03" width="8.72" height="50.76" fill="#4e69b0"/>
<rect x="1413.13" y="869.79" width="8.72" height="134.56" fill="#f57f20"/>
<rect x="1413.13" y="1004.34" width="8.72" height="20.36" fill="#4b2a7b"/>
<rect x="1421.81" y="800.00" width="8.72" height="20.36" fill="#984ea3"/>
<rect x="1421.81" y="820.36" width="8.72" height="50.76" fill="#4e69b0"/>
<rect x="1421.81" y="871.11" width="8.72" height="133.23" fill="#f57f20"/>
<rect x="1421.81" y="1004.34" width="8.72" height="20.36" fill="#4b2a7b"/>
<rect x="1430.48" y="800.00" width="8.72" height="19.56" fill="#984ea3"/>
<rect x="1430.48" y="819.56" width="8.72" height="70.32" fill="#4e69b0"/>
<rect x="1430.48" y="889.88" width="8.72" height="132.18" fill="#f57f20"/>
<rect x="1430.48" y="1022.06" width="8.72" height="2.64" fill="#4b2a7b"/>
<rect x="1439.15" y="800.00" width="8.72" height="2.64" fill="#984ea3"/>
<rect x="1439.15" y="802.64" width="8.72" height="92.26" fill="#4e69b0"/>
<rect x="1439.15" y="894.90" width="8.72" height="129.80" fill="#f57f20"/>
<rect x="1447.83" y="800.00" width="8.72" height="28.29" fill="#984ea3"/>
<rect x="1447.83" y="828.29" width="8.72" height="56.31" fill="#4e69b0"/>
<rect x="1447.83" y="884.59" width="8.72" height="128.74" fill="#f57f20"/>
<rect x="1447.83" y="1013.33" width="8.72" height="11.37" fill="#fbbf89"/>
<rect x="1456.50" y="800.00" width="8.72" height="93.85" fill="#4e69b0"/>
<rect x="1456.50" y="893.85" width="8.72" height="125.57" fill="#f57f20"/>
<rect x="1456.50" y="1019.41" width="8.72" height="5.29" fill="#4b2a7b"/>
<rect x="1465.18" y="800.00" width="8.72" height="26.17" fill="#984ea3"/>
<rect x="1465.18" y="826.17" width="8.72" height="40.97" fill="#4e69b0"/>
<rect x="1465.18" y="867.15" width="8.72" height="123.19" fill="#f57f20"/>
<rect x="1465.18" y="990.33" width="8.72" height="34.37" fill="#4b2a7b"/>
<rect x="1473.85" y="800.00" width="8.72" height="2.64" fill="#984ea3"/>
<rect x="1473.85" y="802.64" width="8.72" height="85.65" fill="#4e69b0"/>
<rect x="1473.85" y="888.29" width="8.72" height="119.22" fill="#f57f20"/>
<rect x="1473.85" y="1007.52" width="8.72" height="2.64" fill="#4b2a7b"/>
<rect x="1473.85" y="1010.16" width="8.72" height="11.90" fill="#c8d43a"/>
<rect x="1473.85" y="1022.06" width="8.72" height="2.64" fill="#fbbf89"/>
<rect x="1482.53" y="800.00" width="8.72" height="2.64" fill="#984ea3"/>
<rect x="1482.53" y="802.64" width="8.72" height="95.17" fill="#4e69b0"/>
<rect x="1482.53" y="897.81" width="8.72" height="117.37" fill="#f57f20"/>
<rect x="1482.53" y="1015.18" width="8.72" height="9.52" fill="#4b2a7b"/>
<rect x="1491.20" y="800.00" width="8.72" height="110.24" fill="#4e69b0"/>
<rect x="1491.20" y="910.24" width="8.72" height="114.46" fill="#f57f20"/>
<rect x="1499.87" y="800.00" width="8.72" height="110.24" fill="#4e69b0"/>
<rect x="1499.87" y="910.24" width="8.72" height="114.46" fill="#f57f20"/>
<rect x="1508.55" y="800.00" width="8.72" height="115.52" fill="#f57f20"/>
<rect x="1508.55" y="915.52" width="8.72" height="109.18" fill="#4b2a7b"/>
<rect x="1517.22" y="800.00" width="8.72" height="94.37" fill="#4e69b0"/>
<rect x="1517.22" y="894.37" width="8.72" height="105.74" fill="#f57f20"/>
<rect x="1517.22" y="1000.12" width="8.72" height="15.07" fill="#4b2a7b"/>
<rect x="1517.22" y="1015.18" width="8.72" height="9.52" fill="#fbbf89"/>
<rect x="1525.90" y="800.00" width="8.72" height="224.70" fill="#e3dc06"/>
<rect x="1534.57" y="800.00" width="8.72" height="224.70" fill="#e3dc06"/>
<rect x="1543.25" y="800.00" width="8.72" height="224.70" fill="#e3dc06"/>
<rect x="1551.92" y="800.00" width="8.72" height="224.70" fill="#5b4a6b"/>
<rect x="1560.60" y="800.00" width="8.72" height="224.70" fill="#4b2a7b"/>
<rect x="1569.27" y="800.00" width="8.72" height="224.70" fill="#4b2a7b"/>
<rect x="1577.94" y="800.00" width="8.72" height="224.70" fill="#4b2a7b"/>
<rect x="1586.62" y="800.00" width="8.72" height="224.70" fill="#4b2a7b"/>
<rect x="1595.29" y="800.00" width="8.72" height="224.70" fill="#4b2a7b"/>
<rect x="1603.97" y="800.00" width="8.72" height="224.70" fill="#3d2e8b"/>
<rect x="1612.64" y="800.00" width="8.72" height="224.70" fill="#3d2e8b"/>
<rect x="1621.32" y="800.00" width="8.72" height="224.70" fill="#4b2a7b"/>
<rect x="1629.99" y="800.00" width="8.72" height="224.70" fill="#4b2a7b"/>
<rect x="1638.66" y="800.00" width="8.72" height="5.02" fill="#984ea3"/>
<rect x="1638.66" y="805.02" width="8.72" height="219.68" fill="#4b2a7b"/>
<rect x="1647.34" y="800.00" width="8.72" height="178.17" fill="#66316a"/>
<rect x="1647.34" y="978.17" width="8.72" height="46.53" fill="#fbbf89"/>
<rect x="1656.01" y="800.00" width="8.72" height="76.66" fill="#f57f20"/>
<rect x="1656.01" y="876.66" width="8.72" height="148.04" fill="#4b2a7b"/>
<rect x="1664.69" y="800.00" width="8.72" height="79.83" fill="#f57f20"/>
<rect x="1664.69" y="879.83" width="8.72" height="144.87" fill="#4b2a7b"/>
<rect x="1673.36" y="800.00" width="8.72" height="9.78" fill="#984ea3"/>
<rect x="1673.36" y="809.78" width="8.72" height="40.45" fill="#4e69b0"/>
<rect x="1673.36" y="850.23" width="8.72" height="28.81" fill="#f57f20"/>
<rect x="1673.36" y="879.04" width="8.72" height="144.07" fill="#4b2a7b"/>
<rect x="1673.36" y="1023.11" width="8.72" height="1.59" fill="#fbbf89"/>
<rect x="1682.04" y="800.00" width="8.72" height="8.99" fill="#984ea3"/>
<rect x="1682.04" y="808.99" width="8.72" height="41.77" fill="#4e69b0"/>
<rect x="1682.04" y="850.76" width="8.72" height="32.52" fill="#f57f20"/>
<rect x="1682.04" y="883.27" width="8.72" height="139.31" fill="#4b2a7b"/>
<rect x="1682.04" y="1022.59" width="8.72" height="2.11" fill="#fbbf89"/>
<rect x="1690.71" y="800.00" width="8.72" height="13.75" fill="#4e69b0"/>
<rect x="1690.71" y="813.75" width="8.72" height="83.27" fill="#f57f20"/>
<rect x="1690.71" y="897.02" width="8.72" height="127.68" fill="#4b2a7b"/>
<rect x="1699.38" y="800.00" width="8.72" height="7.93" fill="#984ea3"/>
<rect x="1699.38" y="807.93" width="8.72" height="29.08" fill="#4e69b0"/>
<rect x="1699.38" y="837.01" width="8.72" height="72.43" fill="#f57f20"/>
<rect x="1699.38" y="909.44" width="8.72" height="115.26" fill="#4b2a7b"/>
<rect x="1708.06" y="800.00" width="8.72" height="224.70" fill="#fbbf89"/>
<rect x="1716.73" y="800.00" width="8.72" height="224.70" fill="#fbbf89"/>
<rect x="1725.41" y="800.00" width="8.72" height="224.70" fill="#fbbf89"/>
<rect x="1734.08" y="800.00" width="8.72" height="224.70" fill="#fbbf89"/>
<rect x="1742.76" y="800.00" width="8.72" height="224.70" fill="#fbbf89"/>
<rect x="1751.43" y="800.00" width="8.72" height="224.70" fill="#fbbf89"/>
<rect x="1760.11" y="800.00" width="8.72" height="224.70" fill="#fbbf89"/>
<rect x="1768.78" y="800.00" width="8.72" height="1.85" fill="#4e69b0"/>
<rect x="1768.78" y="801.85" width="8.72" height="1.32" fill="#4b2a7b"/>
<rect x="1768.78" y="803.17" width="8.72" height="221.53" fill="#fbbf89"/>
<rect x="1777.45" y="800.00" width="8.72" height="5.29" fill="#4e69b0"/>
<rect x="1777.45" y="805.29" width="8.72" height="1.85" fill="#f57f20"/>
<rect x="1777.45" y="807.14" width="8.72" height="217.56" fill="#fbbf89"/>
<rect x="1786.13" y="800.00" width="8.72" height="29.61" fill="#984ea3"/>
<rect x="1786.13" y="829.61" width="8.72" height="195.09" fill="#fbbf89"/>
<rect x="1794.80" y="800.00" width="8.72" height="23.79" fill="#984ea3"/>
<rect x="1794.80" y="823.79" width="8.72" height="3.97" fill="#4e69b0"/>
<rect x="1794.80" y="827.76" width="8.72" height="22.47" fill="#f57f20"/>
<rect x="1794.80" y="850.23" width="8.72" height="2.64" fill="#4b2a7b"/>
<rect x="1794.80" y="852.87" width="8.72" height="171.83" fill="#fbbf89"/>
<rect x="1803.48" y="800.00" width="8.72" height="24.32" fill="#984ea3"/>
<rect x="1803.48" y="824.32" width="8.72" height="5.29" fill="#4e69b0"/>
<rect x="1803.48" y="829.61" width="8.72" height="23.79" fill="#f57f20"/>
<rect x="1803.48" y="853.40" width="8.72" height="2.11" fill="#4b2a7b"/>
<rect x="1803.48" y="855.51" width="8.72" height="169.19" fill="#fbbf89"/>
<rect x="1812.15" y="800.00" width="8.72" height="26.96" fill="#984ea3"/>
<rect x="1812.15" y="826.96" width="8.72" height="17.18" fill="#4e69b0"/>
<rect x="1812.15" y="844.15" width="8.72" height="25.64" fill="#f57f20"/>
<rect x="1812.15" y="869.79" width="8.72" height="154.91" fill="#fbbf89"/>
<rect x="1820.83" y="800.00" width="8.72" height="44.15" fill="#4e69b0"/>
<rect x="1820.83" y="844.15" width="8.72" height="67.94" fill="#f57f20"/>
<rect x="1820.83" y="912.09" width="8.72" height="2.64" fill="#4b2a7b"/>
<rect x="1820.83" y="914.73" width="8.72" height="109.97" fill="#fbbf89"/>
<path d="M181.37 800.0V1024.7 M190.05 800.0V1024.7 M198.72 800.0V1024.7 M207.40 800.0V1024.7 M216.07 800.0V1024.7 M224.75 800.0V1024.7 M233.42 800.0V1024.7 M242.09 800.0V1024.7 M250.77 800.0V1024.7 M259.44 800.0V1024.7 M268.12 800.0V1024.7 M276.79 800.0V1024.7 M285.47 800.0V1024.7 M294.14 800.0V1024.7 M302.82 800.0V1024.7 M311.49 800.0V1024.7 M320.16 800.0V1024.7 M328.84 800.0V1024.7 M337.51 800.0V1024.7 M346.19 800.0V1024.7 M354.86 800.0V1024.7 M363.54 800.0V1024.7 M372.21 800.0V1024.7 M380.88 800.0V1024.7 M389.56 800.0V1024.7 M398.23 800.0V1024.7 M406.91 800.0V1024.7 M415.58 800.0V1024.7 M424.26 800.0V1024.7 M432.93 800.0V1024.7 M441.60 800.0V1024.7 M450.28 800.0V1024.7 M458.95 800.0V1024.7 M467.63 800.0V1024.7 M476.30 800.0V1024.7 M484.98 800.0V1024.7 M493.65 800.0V1024.7 M502.33 800.0V1024.7 M511.00 800.0V1024.7 M519.67 800.0V1024.7 M528.35 800.0V1024.7 M537.02 800.0V1024.7 M545.70 800.0V1024.7 M554.37 800.0V1024.7 M563.05 800.0V1024.7 M571.72 800.0V1024.7 M580.39 800.0V1024.7 M589.07 800.0V1024.7 M597.74 800.0V1024.7 M606.42 800.0V1024.7 M615.09 800.0V1024.7 M623.77 800.0V1024.7 M632.44 800.0V1024.7 M641.11 800.0V1024.7 M649.79 800.0V1024.7 M658.46 800.0V1024.7 M667.14 800.0V1024.7 M675.81 800.0V1024.7 M684.49 800.0V1024.7 M693.16 800.0V1024.7 M701.84 800.0V1024.7 M710.51 800.0V1024.7 M719.18 800.0V1024.7 M727.86 800.0V1024.7 M736.53 800.0V1024.7 M745.21 800.0V1024.7 M753.88 800.0V1024.7 M762.56 800.0V1024.7 M771.23 800.0V1024.7 M779.90 800.0V1024.7 M788.58 800.0V1024.7 M797.25 800.0V1024.7 M805.93 800.0V1024.7 M814.60 800.0V1024.7 M823.28 800.0V1024.7 M831.95 800.0V1024.7 M840.62 800.0V1024.7 M849.30 800.0V1024.7 M857.97 800.0V1024.7 M866.65 800.0V1024.7 M875.32 800.0V1024.7 M884.00 800.0V1024.7 M892.67 800.0V1024.7 M901.35 800.0V1024.7 M910.02 800.0V1024.7 M918.69 800.0V1024.7 M927.37 800.0V1024.7 M936.04 800.0V1024.7 M944.72 800.0V1024.7 M953.39 800.0V1024.7 M962.07 800.0V1024.7 M970.74 800.0V1024.7 M979.41 800.0V1024.7 M988.09 800.0V1024.7 M996.76 800.0V1024.7 M1005.44 800.0V1024.7 M1014.11 800.0V1024.7 M1022.79 800.0V1024.7 M1031.46 800.0V1024.7 M1040.13 800.0V1024.7 M1048.81 800.0V1024.7 M1057.48 800.0V1024.7 M1066.16 800.0V1024.7 M1074.83 800.0V1024.7 M1083.51 800.0V1024.7 M1092.18 800.0V1024.7 M1100.85 800.0V1024.7 M1109.53 800.0V1024.7 M1118.20 800.0V1024.7 M1126.88 800.0V1024.7 M1135.55 800.0V1024.7 M1144.23 800.0V1024.7 M1152.90 800.0V1024.7 M1161.58 800.0V1024.7 M1170.25 800.0V1024.7 M1178.92 800.0V1024.7 M1187.60 800.0V1024.7 M1196.27 800.0V1024.7 M1204.95 800.0V1024.7 M1213.62 800.0V1024.7 M1222.30 800.0V1024.7 M1230.97 800.0V1024.7 M1239.64 800.0V1024.7 M1248.32 800.0V1024.7 M1256.99 800.0V1024.7 M1265.67 800.0V1024.7 M1274.34 800.0V1024.7 M1283.02 800.0V1024.7 M1291.69 800.0V1024.7 M1300.36 800.0V1024.7 M1309.04 800.0V1024.7 M1317.71 800.0V1024.7 M1326.39 800.0V1024.7 M1335.06 800.0V1024.7 M1343.74 800.0V1024.7 M1352.41 800.0V1024.7 M1361.09 800.0V1024.7 M1369.76 800.0V1024.7 M1378.43 800.0V1024.7 M1387.11 800.0V1024.7 M1395.78 800.0V1024.7 M1404.46 800.0V1024.7 M1413.13 800.0V1024.7 M1421.81 800.0V1024.7 M1430.48 800.0V1024.7 M1439.15 800.0V1024.7 M1447.83 800.0V1024.7 M1456.50 800.0V1024.7 M1465.18 800.0V1024.7 M1473.85 800.0V1024.7 M1482.53 800.0V1024.7 M1491.20 800.0V1024.7 M1499.87 800.0V1024.7 M1508.55 800.0V1024.7 M1517.22 800.0V1024.7 M1525.90 800.0V1024.7 M1534.57 800.0V1024.7 M1543.25 800.0V1024.7 M1551.92 800.0V1024.7 M1560.60 800.0V1024.7 M1569.27 800.0V1024.7 M1577.94 800.0V1024.7 M1586.62 800.0V1024.7 M1595.29 800.0V1024.7 M1603.97 800.0V1024.7 M1612.64 800.0V1024.7 M1621.32 800.0V1024.7 M1629.99 800.0V1024.7 M1638.66 800.0V1024.7 M1647.34 800.0V1024.7 M1656.01 800.0V1024.7 M1664.69 800.0V1024.7 M1673.36 800.0V1024.7 M1682.04 800.0V1024.7 M1690.71 800.0V1024.7 M1699.38 800.0V1024.7 M1708.06 800.0V1024.7 M1716.73 800.0V1024.7 M1725.41 800.0V1024.7 M1734.08 800.0V1024.7 M1742.76 800.0V1024.7 M1751.43 800.0V1024.7 M1760.11 800.0V1024.7 M1768.78 800.0V1024.7 M1777.45 800.0V1024.7 M1786.13 800.0V1024.7 M1794.80 800.0V1024.7 M1803.48 800.0V1024.7 M1812.15 800.0V1024.7 M1820.83 800.0V1024.7" stroke="#fff" stroke-width="0.9" stroke-opacity="0.6" fill="none"/>
<rect x="1522.0" y="800.0" width="30.3" height="224.70" fill="#e3dc06"/>
<rect x="1522.0" y="800.0" width="2.5" height="224.70" fill="#d6d21a" fill-opacity="0.6"/>
<rect x="1552.6" y="800.0" width="3.8" height="224.70" fill="#5b4a6b"/>
<line x1="153.3" y1="24.8" x2="174.5" y2="24.0" stroke="#222" stroke-width="1.4"/>
<text x="149.6" y="28.4" text-anchor="end" font-family="Liberation Sans, Arial, sans-serif" font-size="18" fill="#111">1.00</text>
<line x1="153.3" y1="81.9" x2="174.5" y2="81.1" stroke="#222" stroke-width="1.4"/>
<text x="149.6" y="84.5" text-anchor="end" font-family="Liberation Sans, Arial, sans-serif" font-size="18" fill="#111">0.75</text>
<line x1="153.3" y1="136.1" x2="174.5" y2="135.3" stroke="#222" stroke-width="1.4"/>
<text x="149.6" y="136.0" text-anchor="end" font-family="Liberation Sans, Arial, sans-serif" font-size="18" fill="#111">0.50</text>
<line x1="153.3" y1="192.2" x2="174.5" y2="191.4" stroke="#222" stroke-width="1.4"/>
<text x="149.6" y="195.0" text-anchor="end" font-family="Liberation Sans, Arial, sans-serif" font-size="18" fill="#111">0.25</text>
<line x1="153.3" y1="246.0" x2="174.5" y2="245.2" stroke="#222" stroke-width="1.4"/>
<text x="149.6" y="239.0" text-anchor="end" font-family="Liberation Sans, Arial, sans-serif" font-size="18" fill="#111">0.00</text>
<line x1="153.3" y1="282.5" x2="174.5" y2="281.7" stroke="#222" stroke-width="1.4"/>
<text x="149.6" y="286.0" text-anchor="end" font-family="Liberation Sans, Arial, sans-serif" font-size="18" fill="#111">1.00</text>
<line x1="153.3" y1="339.5" x2="174.5" y2="338.7" stroke="#222" stroke-width="1.4"/>
<text x="149.6" y="342.2" text-anchor="end" font-family="Liberation Sans, Arial, sans-serif" font-size="18" fill="#111">0.75</text>
<line x1="153.3" y1="393.7" x2="174.5" y2="392.9" stroke="#222" stroke-width="1.4"/>
<text x="149.6" y="393.3" text-anchor="end" font-family="Liberation Sans, Arial, sans-serif" font-size="18" fill="#111">0.50</text>
<line x1="153.3" y1="449.8" x2="174.5" y2="449.0" stroke="#222" stroke-width="1.4"/>
<text x="149.6" y="452.7" text-anchor="end" font-family="Liberation Sans, Arial, sans-serif" font-size="18" fill="#111">0.25</text>
<line x1="153.3" y1="503.6" x2="174.5" y2="502.8" stroke="#222" stroke-width="1.4"/>
<text x="149.6" y="497.3" text-anchor="end" font-family="Liberation Sans, Arial, sans-serif" font-size="18" fill="#111">0.00</text>
<line x1="153.3" y1="544.2" x2="174.5" y2="543.4" stroke="#222" stroke-width="1.4"/>
<text x="149.6" y="550.6" text-anchor="end" font-family="Liberation Sans, Arial, sans-serif" font-size="18" fill="#111">1.00</text>
<line x1="153.3" y1="600.5" x2="174.5" y2="599.7" stroke="#222" stroke-width="1.4"/>
<text x="149.6" y="607.0" text-anchor="end" font-family="Liberation Sans, Arial, sans-serif" font-size="18" fill="#111">0.75</text>
<line x1="153.3" y1="654.7" x2="174.5" y2="653.9" stroke="#222" stroke-width="1.4"/>
<text x="149.6" y="658.2" text-anchor="end" font-family="Liberation Sans, Arial, sans-serif" font-size="18" fill="#111">0.50</text>
<line x1="153.3" y1="710.8" x2="174.5" y2="710.0" stroke="#222" stroke-width="1.4"/>
<text x="149.6" y="717.3" text-anchor="end" font-family="Liberation Sans, Arial, sans-serif" font-size="18" fill="#111">0.25</text>
<line x1="153.3" y1="764.9" x2="174.5" y2="764.1" stroke="#222" stroke-width="1.4"/>
<text x="149.6" y="762.5" text-anchor="end" font-family="Liberation Sans, Arial, sans-serif" font-size="18" fill="#111">0.00</text>
<line x1="158.6" y1="801.5" x2="179.6" y2="800.7" stroke="#222" stroke-width="1.4"/>
<text x="149.6" y="809.3" text-anchor="end" font-family="Liberation Sans, Arial, sans-serif" font-size="18" fill="#111">1.00</text>
<line x1="158.6" y1="857.6" x2="179.6" y2="856.8" stroke="#222" stroke-width="1.4"/>
<text x="149.6" y="865.7" text-anchor="end" font-family="Liberation Sans, Arial, sans-serif" font-size="18" fill="#111">0.75</text>
<line x1="158.6" y1="912.0" x2="179.6" y2="911.2" stroke="#222" stroke-width="1.4"/>
<text x="149.6" y="916.9" text-anchor="end" font-family="Liberation Sans, Arial, sans-serif" font-size="18" fill="#111">0.50</text>
<line x1="158.6" y1="968.5" x2="179.6" y2="967.7" stroke="#222" stroke-width="1.4"/>
<text x="149.6" y="976.3" text-anchor="end" font-family="Liberation Sans, Arial, sans-serif" font-size="18" fill="#111">0.25</text>
<line x1="158.6" y1="1022.3" x2="179.6" y2="1021.5" stroke="#222" stroke-width="1.4"/>
<text x="149.6" y="1021.2" text-anchor="end" font-family="Liberation Sans, Arial, sans-serif" font-size="18" fill="#111">0.00</text>
<text x="285.3" y="62.3" font-family="Liberation Sans, Arial, sans-serif" font-size="29.6" fill="#000">K=2</text>
<text x="285.3" y="317.8" font-family="Liberation Sans, Arial, sans-serif" font-size="29.6" fill="#000">K=3</text>
<text x="285.3" y="578.4" font-family="Liberation Sans, Arial, sans-serif" font-size="29.6" fill="#000">K=5</text>
<text x="285.3" y="835.0" font-family="Liberation Sans, Arial, sans-serif" font-size="29.6" fill="#000">K=7</text>
<text transform="translate(73.9 505.3) rotate(-90)" text-anchor="middle" font-family="Liberation Sans, Arial, sans-serif" font-size="43" fill="#000">Membership probability</text>
<rect x="171.4" y="1027.8" width="96.1" height="7.2" fill="#000"/>
<rect x="271.2" y="1028.1" width="1554.6" height="6.6" fill="#979797"/>
<text x="152" y="1063" font-family="DejaVu Sans, sans-serif" font-size="26.6" fill="#000">2-Seeded</text>
<text x="968.5" y="1062" font-family="DejaVu Sans, sans-serif" font-size="26.8" fill="#999">4(or more)-Seeded</text>
<text x="763.5" y="1098.3" font-family="DejaVu Sans, sans-serif" font-size="40" fill="#000">Accessions</text>
<text x="1885" y="329" font-family="Liberation Sans, Arial, sans-serif" font-size="37" textLength="97.5" lengthAdjust="spacingAndGlyphs" stroke="#000" stroke-width="0.35" fill="#000">Cluster</text>
<rect x="1885.2" y="371.6" width="51" height="42" fill="#4daf4a"/>
<text x="1960" y="405.1" font-family="Liberation Sans, Arial, sans-serif" font-size="35" fill="#000">I</text>
<rect x="1885.2" y="435.7" width="51" height="42" fill="#984ea3"/>
<text x="1960" y="469.2" font-family="Liberation Sans, Arial, sans-serif" font-size="35" fill="#000">II</text>
<rect x="1885.2" y="499.8" width="51" height="42" fill="#4e69b0"/>
<text x="1960" y="533.3" font-family="Liberation Sans, Arial, sans-serif" font-size="35" fill="#000">III</text>
<rect x="1885.2" y="563.9" width="51" height="42" fill="#f57f20"/>
<text x="1960" y="597.4" font-family="Liberation Sans, Arial, sans-serif" font-size="35" fill="#000">IV</text>
<rect x="1887" y="628.0" width="51" height="42" fill="#ebe617"/>
<text x="1960" y="661.5" font-family="Liberation Sans, Arial, sans-serif" font-size="35" fill="#000">V</text>
<rect x="1885.2" y="692.1" width="51" height="42" fill="#623466"/>
<text x="1960" y="725.6" font-family="Liberation Sans, Arial, sans-serif" font-size="35" fill="#000">VI</text>
<rect x="1885.2" y="756.2" width="51" height="42" fill="#fbbf89"/>
<text x="1960" y="789.7" font-family="Liberation Sans, Arial, sans-serif" font-size="35" fill="#000">VII</text>
<text x="-3.5" y="59.3" font-family="Liberation Sans, Arial, sans-serif" font-weight="bold" font-size="112" fill="#000">a</text>
<path d="M433.4 1565.1L645.3 1569.5" stroke="#8a8a8a" stroke-width="1.5" fill="none" stroke-opacity="1.0"/>
<path d="M645.3 1569.5A212.0 212.0 0 0 1 510.0 1762.8" stroke="#333" stroke-width="1.1" fill="none" stroke-opacity="1.0"/>
<path d="M516.5 1370.1A212.0 212.0 0 0 1 645.3 1569.5" stroke="#f3ef7a" stroke-width="1.7" fill="none" stroke-opacity="1.0"/>
<path d="M516.4 1370.3L540.1 1314.6" stroke="#f3ef7a" stroke-width="1.7" fill="none" stroke-opacity="1.0"/>
<path d="M510.0 1762.8L525.2 1801.9" stroke="#333" stroke-width="1.1" fill="none" stroke-opacity="1.0"/>
<path d="M686.8 1580.6A254.0 254.0 0 0 1 524.3 1802.2" stroke="#c39ccb" stroke-width="1.1" fill="none" stroke-opacity="1.0"/>
<path d="M686.5 1580.6L708.3 1581.9" stroke="#a77aae" stroke-width="1.0" fill="none" stroke-opacity="1.0"/>
<path d="M524.3 1802.2A254.0 254.0 0 0 1 255.9 1746.9" stroke="#333" stroke-width="1.1" fill="none" stroke-opacity="1.0"/>
<path d="M255.9 1746.9L248.2 1754.8" stroke="#333" stroke-width="1.1" fill="none" stroke-opacity="1.0"/>
<path d="M248.2 1754.8A265.0 265.0 0 0 1 177.1 1497.4" stroke="#333" stroke-width="1.1" fill="none" stroke-opacity="1.0"/>
<path d="M502.5 1809.5L505.9 1821.7" stroke="#333" stroke-width="1.1" fill="none" stroke-opacity="1.0"/>
<path d="M505.9 1821.5A266.5 266.5 0 0 1 258.5 1766.2" stroke="#333" stroke-width="1.1" fill="none" stroke-opacity="1.0"/>
<path d="M433.3 1565.0L467.9 1309.0" stroke="#7aa95a" stroke-width="1.1" fill="none" stroke-opacity="1.0"/>
<path d="M449.5 1307.0A258.6 258.6 0 0 1 485.7 1311.9" stroke="#7aa95a" stroke-width="1.1" fill="none" stroke-opacity="1.0"/>
<path d="M448.6 1307.0L449.6 1290.3" stroke="#7aa95a" stroke-width="1.0" fill="none" stroke-opacity="1.0"/>
<path d="M485.8 1311.8L488.0 1300.9" stroke="#7aa95a" stroke-width="1.0" fill="none" stroke-opacity="1.0"/>
<path d="M471.8 1298.1A269.8 269.8 0 0 1 504.5 1304.9" stroke="#7aa95a" stroke-width="1.0" fill="none" stroke-opacity="1.0"/>
<path d="M471.8 1298.1L472.5 1292.9" stroke="#7aa95a" stroke-width="1.0" fill="none" stroke-opacity="1.0"/>
<path d="M433.8 1289.5A275.6 275.6 0 0 1 455.9 1290.4" stroke="#7fa0c8" stroke-width="1.2" fill="none" stroke-opacity="1.0"/>
<path d="M481.1 1293.8A275.5 275.5 0 0 1 526.2 1305.7" stroke="#7aa95a" stroke-width="1.1" fill="none" stroke-opacity="1.0"/>
<path d="M490.6 1295.6A275.5 275.5 0 0 1 509.2 1300.3" stroke="#5b86d6" stroke-width="1.2" fill="none" stroke-opacity="0.8"/>
<path d="M532.6 1310.3A273.5 273.5 0 0 1 542.4 1314.3" stroke="#f2b8c0" stroke-width="1.4" fill="none" stroke-opacity="0.8"/>
<path d="M542.6 1313.6A274.2 274.2 0 0 1 557.8 1320.8" stroke="#e04050" stroke-width="1.2" fill="none" stroke-opacity="0.9"/>
<path d="M551.4 1317.4A274.4 274.4 0 0 1 556.6 1320.0" stroke="#4060d0" stroke-width="1.0" fill="none" stroke-opacity="0.8"/>
<path d="M566.9 1324.1A275.6 275.6 0 0 1 691.6 1661.2" stroke="#9b67a4" stroke-width="1.1" fill="none" stroke-opacity="1.0"/>
<path d="M692.0 1470.9A275.3 275.3 0 0 1 691.3 1661.1" stroke="#9b67a4" stroke-width="0.6" fill="none" stroke-opacity="1.0"/>
<path d="M632.1 1373.2A276.3 276.3 0 0 1 654.0 1398.8" stroke="#d8b8dd" stroke-width="1.6" fill="none" stroke-opacity="0.7"/>
<path d="M688.2 1669.6A275.5 275.5 0 0 1 513.8 1828.6" stroke="#4daf4a" stroke-width="1.2" fill="none" stroke-opacity="1.0"/>
<path d="M658.2 1722.5A274.5 274.5 0 0 1 627.4 1759.2" stroke="#4daf4a" stroke-width="1.4" fill="none" stroke-opacity="0.6"/>
<path d="M651.7 1723.8A270.0 270.0 0 0 1 498.6 1827.1" stroke="#5b86d6" stroke-width="1.0" fill="none" stroke-opacity="1.0"/>
<path d="M650.5 1722.9L652.9 1724.7" stroke="#5b86d6" stroke-width="1.0" fill="none" stroke-opacity="1.0"/>
<path d="M507.1 1826.1A271.2 271.2 0 0 1 259.0 1772.9" stroke="#f77f1a" stroke-width="1.1" fill="none" stroke-opacity="1.0"/>
<path d="M481.2 1836.9A276.0 276.0 0 0 1 334.4 1822.8" stroke="#f77f1a" stroke-width="1.0" fill="none" stroke-opacity="1.0"/>
<path d="M385.1 1838.4A277.5 277.5 0 0 1 237.1 1761.3" stroke="#f77f1a" stroke-width="1.0" fill="none" stroke-opacity="1.0"/>
<path d="M348.8 1825.2A273.5 273.5 0 0 1 304.9 1806.6" stroke="#f77f1a" stroke-width="1.6" fill="none" stroke-opacity="0.6"/>
<path d="M443.0 1843.4A278.5 278.5 0 0 1 394.5 1840.9" stroke="#f77f1a" stroke-width="1.0" fill="none" stroke-opacity="1.0"/>
<path d="M207.6 1723.1A275.5 275.5 0 0 1 174.4 1470.9" stroke="#8a4f9e" stroke-width="1.0" fill="none" stroke-opacity="1.0"/>
<path d="M197.7 1701.1A272.0 272.0 0 0 1 171.8 1490.1" stroke="#5b2a9a" stroke-width="1.1" fill="none" stroke-opacity="1.0"/>
<path d="M173.9 1634.6A268.5 268.5 0 0 1 168.9 1518.5" stroke="#f9c99a" stroke-width="1.0" fill="none" stroke-opacity="1.0"/>
<path d="M178.2 1472.2A271.5 271.5 0 0 1 281.5 1340.0" stroke="#5b2a9a" stroke-width="1.0" fill="none" stroke-opacity="1.0"/>
<path d="M179.7 1457.5A275.5 275.5 0 0 1 432.3 1289.6" stroke="#9b67a4" stroke-width="1.1" fill="none" stroke-opacity="1.0"/>
<path d="M250.3 1361.8A273.5 273.5 0 0 1 395.2 1294.3" stroke="#9b67a4" stroke-width="1.4" fill="none" stroke-opacity="0.5"/>
<g font-family="DejaVu Sans Condensed, DejaVu Sans, sans-serif" font-size="9">
<text transform="translate(438.81 1272.66) rotate(-88.800)" y="3.3" fill="#5f9a2c"><tspan fill="#5f9a2c">ILRI_21083</tspan><tspan dx="8">M</tspan></text>
<text transform="translate(448.33 1273.03) rotate(-86.915)" y="3.3" fill="#5f9a2c"><tspan fill="#5f9a2c">ILRI_24796</tspan><tspan dx="8">M</tspan></text>
<text transform="translate(457.83 1273.70) rotate(-85.030)" y="3.3" fill="#5f9a2c"><tspan fill="#5f9a2c">ILRI_21045</tspan><tspan dx="8">M</tspan></text>
<text transform="translate(467.31 1274.70) rotate(-83.146)" y="3.3" fill="#5f9a2c"><tspan fill="#5f9a2c">ILRI_24800</tspan><tspan dx="8">M</tspan></text>
<text transform="translate(476.74 1276.01) rotate(-81.261)" y="3.3" fill="#5f9a2c"><tspan fill="#5f9a2c">ILRI_14440</tspan><tspan dx="8">17</tspan></text>
<text transform="translate(486.13 1277.63) rotate(-79.376)" y="3.3" fill="#5f9a2c"><tspan fill="#5f9a2c">ILRI_13694</tspan><tspan dx="8">4</tspan></text>
<text transform="translate(495.46 1279.57) rotate(-77.491)" y="3.3" fill="#5f9a2c"><tspan fill="#5f9a2c">ILRI_13692</tspan><tspan dx="8">3</tspan></text>
<text transform="translate(504.73 1281.81) rotate(-75.606)" y="3.3" fill="#5f9a2c"><tspan fill="#5f9a2c">ILRI_13695</tspan><tspan dx="8">5</tspan></text>
<text transform="translate(513.91 1284.37) rotate(-73.721)" y="3.3" fill="#5f9a2c"><tspan fill="#5f9a2c">ILRI_13702</tspan><tspan dx="8">9</tspan></text>
<text transform="translate(523.01 1287.22) rotate(-71.837)" y="3.3" fill="#5f9a2c"><tspan fill="#5f9a2c">ILRI_13697</tspan><tspan dx="8">4</tspan></text>
<text transform="translate(532.01 1290.38) rotate(-69.952)" y="3.3" fill="#5f9a2c"><tspan fill="#5f9a2c">ILRI_13704</tspan><tspan dx="8">7</tspan></text>
<text transform="translate(540.90 1293.84) rotate(-68.067)" y="3.3" fill="#e6df00"><tspan fill="#f2ef90" stroke="#f5f3a8" stroke-width="1.1">ILRI_21048</tspan><tspan dx="8">5</tspan></text>
<text transform="translate(549.68 1297.60) rotate(-66.182)" y="3.3" fill="#e6df00"><tspan fill="#f2ef90" stroke="#f5f3a8" stroke-width="1.1">ILRI_24799</tspan><tspan dx="8">M</tspan></text>
<text transform="translate(558.33 1301.64) rotate(-64.297)" y="3.3" fill="#e6df00"><tspan fill="#f2ef90" stroke="#f5f3a8" stroke-width="1.1">ILRI_21081</tspan><tspan dx="8">3</tspan></text>
<text transform="translate(566.84 1305.97) rotate(-62.413)" y="3.3" fill="#e6df00"><tspan fill="#f2ef90" stroke="#f5f3a8" stroke-width="1.1">ILRI_24798</tspan><tspan dx="8">4</tspan></text>
<text transform="translate(575.21 1310.58) rotate(-60.528)" y="3.3" fill="#8a5995"><tspan fill="#8a5995">ILRI_14445</tspan><tspan dx="8">3</tspan></text>
<text transform="translate(583.42 1315.47) rotate(-58.643)" y="3.3" fill="#8a5995"><tspan fill="#8a5995">ILRI_14454</tspan><tspan dx="8">3</tspan></text>
<text transform="translate(591.47 1320.63) rotate(-56.758)" y="3.3" fill="#8a5995"><tspan fill="#8a5995">ILRI_14488</tspan><tspan dx="8">2</tspan></text>
<text transform="translate(599.35 1326.05) rotate(-54.873)" y="3.3" fill="#8a5995"><tspan fill="#8a5995">ILRI_14482</tspan><tspan dx="8">2</tspan></text>
<text transform="translate(607.05 1331.74) rotate(-52.988)" y="3.3" fill="#8a5995"><tspan fill="#8a5995">ILRI_14490</tspan><tspan dx="8">2</tspan></text>
<text transform="translate(614.56 1337.67) rotate(-51.104)" y="3.3" fill="#8a5995"><tspan fill="#8a5995">ILRI_14459</tspan><tspan dx="8">3</tspan></text>
<text transform="translate(621.88 1343.86) rotate(-49.219)" y="3.3" fill="#8a5995"><tspan fill="#8a5995">ILRI_14489</tspan><tspan dx="8">2</tspan></text>
<text transform="translate(628.98 1350.28) rotate(-47.334)" y="3.3" fill="#8a5995"><tspan fill="#8a5995">ILRI_14448</tspan><tspan dx="8">3</tspan></text>
<text transform="translate(635.88 1356.94) rotate(-45.449)" y="3.3" fill="#8a5995"><tspan fill="#8a5995">ILRI_14465</tspan><tspan dx="8">3</tspan></text>
<text transform="translate(642.56 1363.83) rotate(-43.564)" y="3.3" fill="#8a5995"><tspan fill="#8a5995">ILRI_14469</tspan><tspan dx="8">2</tspan></text>
<text transform="translate(649.01 1370.93) rotate(-41.680)" y="3.3" fill="#8a5995"><tspan fill="#8a5995">ILRI_14430</tspan><tspan dx="8">2</tspan></text>
<text transform="translate(655.22 1378.25) rotate(-39.795)" y="3.3" fill="#8a5995"><tspan fill="#8a5995">ILRI_14453</tspan><tspan dx="8">3</tspan></text>
<text transform="translate(661.20 1385.77) rotate(-37.910)" y="3.3" fill="#8a5995"><tspan fill="#8a5995">ILRI_14426</tspan><tspan dx="8">2</tspan></text>
<text transform="translate(666.93 1393.48) rotate(-36.025)" y="3.3" fill="#8a5995"><tspan fill="#8a5995">ILRI_14439</tspan><tspan dx="8">3</tspan></text>
<text transform="translate(672.40 1401.38) rotate(-34.140)" y="3.3" fill="#8a5995"><tspan fill="#8a5995">ILRI_6536</tspan><tspan dx="8">10</tspan></text>
<text transform="translate(677.62 1409.46) rotate(-32.255)" y="3.3" fill="#8a5995"><tspan fill="#8a5995">ILRI_14452</tspan><tspan dx="8">3</tspan></text>
<text transform="translate(682.57 1417.71) rotate(-30.371)" y="3.3" fill="#8a5995"><tspan fill="#8a5995">ILRI_14419</tspan><tspan dx="8">3</tspan></text>
<text transform="translate(687.25 1426.12) rotate(-28.486)" y="3.3" fill="#8a5995"><tspan fill="#8a5995">ILRI_14481</tspan><tspan dx="8">4</tspan></text>
<text transform="translate(691.65 1434.68) rotate(-26.601)" y="3.3" fill="#8a5995"><tspan fill="#8a5995">ILRI_6528</tspan><tspan dx="8">2</tspan></text>
<text transform="translate(695.77 1443.38) rotate(-24.716)" y="3.3" fill="#8a5995"><tspan fill="#8a5995">ILRI_14458</tspan><tspan dx="8">2</tspan></text>
<text transform="translate(699.61 1452.22) rotate(-22.831)" y="3.3" fill="#8a5995"><tspan fill="#8a5995">ILRI_14492</tspan><tspan dx="8">4</tspan></text>
<text transform="translate(703.16 1461.17) rotate(-20.947)" y="3.3" fill="#8a5995"><tspan fill="#8a5995">ILRI_14449</tspan><tspan dx="8">3</tspan></text>
<text transform="translate(706.42 1470.25) rotate(-19.062)" y="3.3" fill="#8a5995"><tspan fill="#8a5995">ILRI_7278</tspan><tspan dx="8">4</tspan></text>
<text transform="translate(709.39 1479.42) rotate(-17.177)" y="3.3" fill="#8a5995"><tspan fill="#8a5995">ILRI_14433</tspan><tspan dx="8">8</tspan></text>
<text transform="translate(712.05 1488.69) rotate(-15.292)" y="3.3" fill="#8a5995"><tspan fill="#8a5995">ILRI_7403</tspan><tspan dx="8">3</tspan></text>
<text transform="translate(714.41 1498.05) rotate(-13.407)" y="3.3" fill="#8a5995"><tspan fill="#8a5995">ILRI_14485</tspan><tspan dx="8">2</tspan></text>
<text transform="translate(716.46 1507.47) rotate(-11.523)" y="3.3" fill="#8a5995"><tspan fill="#8a5995">ILRI_14425</tspan><tspan dx="8">2</tspan></text>
<text transform="translate(718.21 1516.96) rotate(-9.638)" y="3.3" fill="#8a5995"><tspan fill="#8a5995">ILRI_14418</tspan><tspan dx="8">2</tspan></text>
<text transform="translate(719.65 1526.51) rotate(-7.753)" y="3.3" fill="#8a5995"><tspan fill="#8a5995">ILRI_18632</tspan><tspan dx="8">4</tspan></text>
<text transform="translate(720.78 1536.09) rotate(-5.868)" y="3.3" fill="#8a5995"><tspan fill="#8a5995">ILRI_14479</tspan><tspan dx="8">2</tspan></text>
<text transform="translate(721.60 1545.71) rotate(-3.983)" y="3.3" fill="#8a5995"><tspan fill="#8a5995">ILRI_14451</tspan><tspan dx="8">3</tspan></text>
<text transform="translate(722.11 1555.35) rotate(-2.098)" y="3.3" fill="#8a5995"><tspan fill="#8a5995">ILRI_14470</tspan><tspan dx="8">3</tspan></text>
<text transform="translate(722.30 1565.01) rotate(-0.214)" y="3.3" fill="#8a5995"><tspan fill="#8a5995">ILRI_14438</tspan><tspan dx="8">2</tspan></text>
<text transform="translate(722.18 1574.66) rotate(1.671)" y="3.3" fill="#8a5995"><tspan fill="#8a5995">ILRI_14441</tspan><tspan dx="8">2</tspan></text>
<text transform="translate(721.74 1584.30) rotate(3.556)" y="3.3" fill="#8a5995"><tspan fill="#8a5995">ILRI_14431</tspan><tspan dx="8">2</tspan></text>
<text transform="translate(721.00 1593.93) rotate(5.441)" y="3.3" fill="#8a5995"><tspan fill="#8a5995">ILRI_6529</tspan><tspan dx="8">25</tspan></text>
<text transform="translate(719.94 1603.52) rotate(7.326)" y="3.3" fill="#8a5995"><tspan fill="#8a5995">ILRI_11630</tspan><tspan dx="8">3</tspan></text>
<text transform="translate(718.57 1613.08) rotate(9.210)" y="3.3" fill="#8a5995"><tspan fill="#8a5995">ILRI_18637</tspan><tspan dx="8">5</tspan></text>
<text transform="translate(716.89 1622.58) rotate(11.095)" y="3.3" fill="#8a5995"><tspan fill="#8a5995">ILRI_21044</tspan><tspan dx="8">3</tspan></text>
<text transform="translate(714.90 1632.02) rotate(12.980)" y="3.3" fill="#8a5995"><tspan fill="#8a5995">ILRI_21043</tspan><tspan dx="8">5</tspan></text>
<text transform="translate(712.61 1641.39) rotate(14.865)" y="3.3" fill="#8a5995"><tspan fill="#8a5995">ILRI_14423</tspan><tspan dx="8">2</tspan></text>
<text transform="translate(710.02 1650.68) rotate(16.750)" y="3.3" fill="#8a5995"><tspan fill="#8a5995">ILRI_21034</tspan><tspan dx="8">3</tspan></text>
<text transform="translate(707.12 1659.88) rotate(18.635)" y="3.3" fill="#8a5995"><tspan fill="#8a5995">ILRI_6930</tspan><tspan dx="8">10</tspan></text>
<text transform="translate(703.93 1668.98) rotate(20.519)" y="3.3" fill="#8a5995"><tspan fill="#8a5995">ILRI_14422</tspan><tspan dx="8">4</tspan></text>
<text transform="translate(700.44 1677.96) rotate(22.404)" y="3.3" fill="#2f60c6"><tspan fill="#2f60c6">ILRI_11631</tspan><tspan dx="8">3</tspan></text>
<text transform="translate(696.67 1686.83) rotate(24.289)" y="3.3" fill="#2f60c6"><tspan fill="#2f60c6">ILRI_14447</tspan><tspan dx="8">3</tspan></text>
<text transform="translate(692.61 1695.56) rotate(26.174)" y="3.3" fill="#2f60c6"><tspan fill="#2f60c6">ILRI_21042</tspan><tspan dx="8">4</tspan></text>
<text transform="translate(688.27 1704.16) rotate(28.059)" y="3.3" fill="#2f60c6"><tspan fill="#2f60c6">ILRI_11619</tspan><tspan dx="8">3</tspan></text>
<text transform="translate(683.65 1712.60) rotate(29.943)" y="3.3" fill="#2f60c6"><tspan fill="#2f60c6">ILRI_14446</tspan><tspan dx="8">3</tspan></text>
<text transform="translate(678.76 1720.88) rotate(31.828)" y="3.3" fill="#2f60c6"><tspan fill="#2f60c6">ILRI_18600</tspan><tspan dx="8">12</tspan></text>
<text transform="translate(673.61 1729.00) rotate(33.713)" y="3.3" fill="#2f60c6"><tspan fill="#2f60c6">ILRI_18622</tspan><tspan dx="8">12</tspan></text>
<text transform="translate(668.19 1736.94) rotate(35.598)" y="3.3" fill="#2f60c6"><tspan fill="#2f60c6">ILRI_6535</tspan><tspan dx="8">5</tspan></text>
<text transform="translate(662.52 1744.70) rotate(37.483)" y="3.3" fill="#2f60c6"><tspan fill="#2f60c6">ILRI_21067</tspan><tspan dx="8">2</tspan></text>
<text transform="translate(656.60 1752.26) rotate(39.368)" y="3.3" fill="#2f60c6"><tspan fill="#2f60c6">ILRI_14901</tspan><tspan dx="8">4</tspan></text>
<text transform="translate(650.44 1759.63) rotate(41.252)" y="3.3" fill="#2f60c6"><tspan fill="#2f60c6">ILRI_18611</tspan><tspan dx="8">8</tspan></text>
<text transform="translate(644.04 1766.78) rotate(43.137)" y="3.3" fill="#2f60c6"><tspan fill="#2f60c6">ILRI_11613</tspan><tspan dx="8">4</tspan></text>
<text transform="translate(637.41 1773.72) rotate(45.022)" y="3.3" fill="#2f60c6"><tspan fill="#2f60c6">ILRI_18592</tspan><tspan dx="8">6</tspan></text>
<text transform="translate(630.57 1780.43) rotate(46.907)" y="3.3" fill="#2f60c6"><tspan fill="#2f60c6">ILRI_7072</tspan><tspan dx="8">5</tspan></text>
<text transform="translate(623.51 1786.91) rotate(48.792)" y="3.3" fill="#2f60c6"><tspan fill="#2f60c6">ILRI_21088</tspan><tspan dx="8">4</tspan></text>
<text transform="translate(616.24 1793.15) rotate(50.676)" y="3.3" fill="#2f60c6"><tspan fill="#2f60c6">ILRI_18601</tspan><tspan dx="8">5</tspan></text>
<text transform="translate(608.77 1799.14) rotate(52.561)" y="3.3" fill="#2f60c6"><tspan fill="#2f60c6">ILRI_18619</tspan><tspan dx="8">6</tspan></text>
<text transform="translate(601.11 1804.88) rotate(54.446)" y="3.3" fill="#2f60c6"><tspan fill="#2f60c6">ILRI_6533</tspan><tspan dx="8">15</tspan></text>
<text transform="translate(593.28 1810.37) rotate(56.331)" y="3.3" fill="#2f60c6"><tspan fill="#2f60c6">ILRI_6534</tspan><tspan dx="8">4</tspan></text>
<text transform="translate(585.26 1815.59) rotate(58.216)" y="3.3" fill="#2f60c6"><tspan fill="#2f60c6">ILRI_21075</tspan><tspan dx="8">4</tspan></text>
<text transform="translate(577.08 1820.54) rotate(60.101)" y="3.3" fill="#2f60c6"><tspan fill="#2f60c6">ILRI_21056</tspan><tspan dx="8">4</tspan></text>
<text transform="translate(568.75 1825.21) rotate(61.985)" y="3.3" fill="#2f60c6"><tspan fill="#2f60c6">ILRI_24747</tspan><tspan dx="8">2</tspan></text>
<text transform="translate(560.27 1829.60) rotate(63.870)" y="3.3" fill="#2f60c6"><tspan fill="#2f60c6">ILRI_21080</tspan><tspan dx="8">5</tspan></text>
<text transform="translate(551.65 1833.71) rotate(65.755)" y="3.3" fill="#2f60c6"><tspan fill="#2f60c6">ILRI_21066</tspan><tspan dx="8">4</tspan></text>
<text transform="translate(542.90 1837.53) rotate(67.640)" y="3.3" fill="#2f60c6"><tspan fill="#2f60c6">ILRI_21060</tspan><tspan dx="8">5</tspan></text>
<text transform="translate(534.04 1841.06) rotate(69.525)" y="3.3" fill="#2f60c6"><tspan fill="#2f60c6">ILRI_21078</tspan><tspan dx="8">4</tspan></text>
<text transform="translate(525.06 1844.29) rotate(71.409)" y="3.3" fill="#2f60c6"><tspan fill="#2f60c6">ILRI_14480</tspan><tspan dx="8">3</tspan></text>
<text transform="translate(515.98 1847.21) rotate(73.294)" y="3.3" fill="#2f60c6"><tspan fill="#2f60c6">ILRI_14902</tspan><tspan dx="8">4</tspan></text>
<text transform="translate(506.82 1849.84) rotate(75.179)" y="3.3" fill="#fa6208"><tspan fill="#fa6208">ILRI_11617</tspan><tspan dx="8">5</tspan></text>
<text transform="translate(497.57 1852.15) rotate(77.064)" y="3.3" fill="#fa6208"><tspan fill="#fa6208">ILRI_11618</tspan><tspan dx="8">3</tspan></text>
<text transform="translate(488.25 1854.16) rotate(78.949)" y="3.3" fill="#fa6208"><tspan fill="#fa6208">ILRI_21073</tspan><tspan dx="8">2</tspan></text>
<text transform="translate(478.88 1855.85) rotate(80.834)" y="3.3" fill="#fa6208"><tspan fill="#fa6208">ILRI_14907</tspan><tspan dx="8">4</tspan></text>
<text transform="translate(469.45 1857.23) rotate(82.718)" y="3.3" fill="#fa6208"><tspan fill="#fa6208">ILRI_18609</tspan><tspan dx="8">4</tspan></text>
<text transform="translate(459.98 1858.30) rotate(84.603)" y="3.3" fill="#fa6208"><tspan fill="#fa6208">ILRI_18604</tspan><tspan dx="8">5</tspan></text>
<text transform="translate(450.49 1859.05) rotate(86.488)" y="3.3" fill="#fa6208"><tspan fill="#fa6208">ILRI_11641</tspan><tspan dx="8">5</tspan></text>
<text transform="translate(440.97 1859.48) rotate(88.373)" y="3.3" fill="#fa6208"><tspan fill="#fa6208">ILRI_21062</tspan><tspan dx="8">4</tspan></text>
<text transform="translate(431.45 1859.60) rotate(270.258)" y="3.3" text-anchor="end" fill="#fa6208"><tspan fill="#fa6208">ILRI_14484</tspan><tspan dx="8">2</tspan></text>
<text transform="translate(421.93 1859.39) rotate(272.142)" y="3.3" text-anchor="end" fill="#fa6208"><tspan fill="#fa6208">ILRI_18607</tspan><tspan dx="8">7</tspan></text>
<text transform="translate(412.41 1858.88) rotate(274.027)" y="3.3" text-anchor="end" fill="#c8c8c8"><tspan fill="#c8c8c8">ILRI_18625</tspan><tspan dx="8">6</tspan></text>
<text transform="translate(402.93 1858.04) rotate(275.912)" y="3.3" text-anchor="end" fill="#fa6208" stroke="#fa6208" stroke-width="0.45"><tspan fill="#fa6208">ILRI_14903</tspan><tspan dx="8">7</tspan></text>
<text transform="translate(393.47 1856.89) rotate(277.797)" y="3.3" text-anchor="end" fill="#fa6208" stroke="#fa6208" stroke-width="0.45"><tspan fill="#fa6208">ILRI_21068</tspan><tspan dx="8">2</tspan></text>
<text transform="translate(384.06 1855.42) rotate(279.682)" y="3.3" text-anchor="end" fill="#c8c8c8"><tspan fill="#c8c8c8">ILRI_14898</tspan><tspan dx="8">6</tspan></text>
<text transform="translate(374.69 1853.64) rotate(281.566)" y="3.3" text-anchor="end" fill="#c8c8c8"><tspan fill="#c8c8c8">ILRI_14905</tspan><tspan dx="8">4</tspan></text>
<text transform="translate(365.40 1851.55) rotate(283.451)" y="3.3" text-anchor="end" fill="#fa6208" stroke="#fa6208" stroke-width="0.45"><tspan fill="#fa6208">ILRI_18599</tspan><tspan dx="8">5</tspan></text>
<text transform="translate(356.17 1849.15) rotate(285.336)" y="3.3" text-anchor="end" fill="#c8c8c8"><tspan fill="#c8c8c8">ILRI_21072</tspan><tspan dx="8">3</tspan></text>
<text transform="translate(347.03 1846.44) rotate(287.221)" y="3.3" text-anchor="end" fill="#c8c8c8"><tspan fill="#c8c8c8">ILRI_14914</tspan><tspan dx="8">3</tspan></text>
<text transform="translate(337.98 1843.43) rotate(289.106)" y="3.3" text-anchor="end" fill="#c8c8c8"><tspan fill="#c8c8c8">ILRI_24768</tspan><tspan dx="8">3</tspan></text>
<text transform="translate(329.03 1840.12) rotate(290.991)" y="3.3" text-anchor="end" fill="#fa6208" stroke="#fa6208" stroke-width="0.45"><tspan fill="#fa6208">ILRI_10953</tspan><tspan dx="8">6</tspan></text>
<text transform="translate(320.19 1836.52) rotate(292.875)" y="3.3" text-anchor="end" fill="#c8c8c8"><tspan fill="#c8c8c8">ILRI_11620</tspan><tspan dx="8">2</tspan></text>
<text transform="translate(311.48 1832.62) rotate(294.760)" y="3.3" text-anchor="end" fill="#c8c8c8"><tspan fill="#c8c8c8">ILRI_18628</tspan><tspan dx="8">18</tspan></text>
<text transform="translate(302.90 1828.43) rotate(296.645)" y="3.3" text-anchor="end" fill="#fa6208" stroke="#fa6208" stroke-width="0.45"><tspan fill="#fa6208">ILRI_13689</tspan><tspan dx="8">6</tspan></text>
<text transform="translate(294.46 1823.96) rotate(298.530)" y="3.3" text-anchor="end" fill="#fa6208" stroke="#fa6208" stroke-width="0.45"><tspan fill="#fa6208">ILRI_13699</tspan><tspan dx="8">2</tspan></text>
<text transform="translate(286.16 1819.21) rotate(300.415)" y="3.3" text-anchor="end" fill="#c8c8c8"><tspan fill="#c8c8c8">ILRI_13701</tspan><tspan dx="8">3</tspan></text>
<text transform="translate(278.03 1814.19) rotate(302.299)" y="3.3" text-anchor="end" fill="#c8c8c8"><tspan fill="#c8c8c8">ILRI_18635</tspan><tspan dx="8">8</tspan></text>
<text transform="translate(270.06 1808.89) rotate(304.184)" y="3.3" text-anchor="end" fill="#c8c8c8"><tspan fill="#c8c8c8">ILRI_18626</tspan><tspan dx="8">2</tspan></text>
<text transform="translate(262.27 1803.34) rotate(306.069)" y="3.3" text-anchor="end" fill="#c8c8c8"><tspan fill="#c8c8c8">ILRI_14911</tspan><tspan dx="8">6</tspan></text>
<text transform="translate(254.67 1797.53) rotate(307.954)" y="3.3" text-anchor="end" fill="#c8c8c8"><tspan fill="#c8c8c8">ILRI_14906</tspan><tspan dx="8">4</tspan></text>
<text transform="translate(247.26 1791.46) rotate(309.839)" y="3.3" text-anchor="end" fill="#c8c8c8"><tspan fill="#c8c8c8">ILRI_18636</tspan><tspan dx="8">3</tspan></text>
<text transform="translate(240.04 1785.16) rotate(311.724)" y="3.3" text-anchor="end" fill="#c8c8c8"><tspan fill="#c8c8c8">ILRI_21055</tspan><tspan dx="8">3</tspan></text>
<text transform="translate(233.04 1778.61) rotate(313.608)" y="3.3" text-anchor="end" fill="#c8c8c8"><tspan fill="#c8c8c8">ILRI_14896</tspan><tspan dx="8">15</tspan></text>
<text transform="translate(226.25 1771.84) rotate(315.493)" y="3.3" text-anchor="end" fill="#c8c8c8"><tspan fill="#c8c8c8">ILRI_18617</tspan><tspan dx="8">10</tspan></text>
<text transform="translate(219.69 1764.85) rotate(317.378)" y="3.3" text-anchor="end" fill="#c8c8c8"><tspan fill="#c8c8c8">ILRI_21059</tspan><tspan dx="8">3</tspan></text>
<text transform="translate(213.35 1757.64) rotate(319.263)" y="3.3" text-anchor="end" fill="#fa6208" stroke="#fa6208" stroke-width="0.45"><tspan fill="#fa6208">ILRI_18597</tspan><tspan dx="8">5</tspan></text>
<text transform="translate(207.26 1750.22) rotate(321.148)" y="3.3" text-anchor="end" fill="#fa6208" stroke="#fa6208" stroke-width="0.45"><tspan fill="#fa6208">ILRI_11629</tspan><tspan dx="8">4</tspan></text>
<text transform="translate(201.41 1742.60) rotate(323.032)" y="3.3" text-anchor="end" fill="#fa6208" stroke="#fa6208" stroke-width="0.45"><tspan fill="#fa6208">ILRI_11640</tspan><tspan dx="8">11</tspan></text>
<text transform="translate(195.80 1734.79) rotate(324.917)" y="3.3" text-anchor="end" fill="#fa6208" stroke="#fa6208" stroke-width="0.45"><tspan fill="#fa6208">ILRI_11615</tspan><tspan dx="8">8</tspan></text>
<text transform="translate(190.46 1726.80) rotate(326.802)" y="3.3" text-anchor="end" fill="#fa6208" stroke="#fa6208" stroke-width="0.45"><tspan fill="#fa6208">ILRI_10979</tspan><tspan dx="8">10</tspan></text>
<text transform="translate(185.38 1718.64) rotate(328.687)" y="3.3" text-anchor="end" fill="#fa6208" stroke="#fa6208" stroke-width="0.45"><tspan fill="#fa6208">ILRI_11614</tspan><tspan dx="8">6</tspan></text>
<text transform="translate(180.56 1710.31) rotate(330.572)" y="3.3" text-anchor="end" fill="#fa6208" stroke="#fa6208" stroke-width="0.45"><tspan fill="#fa6208">ILRI_21049</tspan><tspan dx="8">M</tspan></text>
<text transform="translate(176.02 1701.82) rotate(332.457)" y="3.3" text-anchor="end" fill="#c8c8c8"><tspan fill="#c8c8c8">ILRI_21082</tspan><tspan dx="8">4</tspan></text>
<text transform="translate(171.75 1693.19) rotate(334.341)" y="3.3" text-anchor="end" fill="#f9be8c"><tspan fill="#f9be8c">ILRI_18603</tspan><tspan dx="8">5</tspan></text>
<text transform="translate(167.77 1684.42) rotate(336.226)" y="3.3" text-anchor="end" fill="#f9be8c"><tspan fill="#f9be8c">ILRI_14415</tspan><tspan dx="8">3</tspan></text>
<text transform="translate(164.07 1675.52) rotate(338.111)" y="3.3" text-anchor="end" fill="#f9be8c"><tspan fill="#f9be8c">ILRI_14436</tspan><tspan dx="8">8</tspan></text>
<text transform="translate(160.67 1666.50) rotate(339.996)" y="3.3" text-anchor="end" fill="#f9be8c"><tspan fill="#f9be8c">ILRI_14466</tspan><tspan dx="8">4</tspan></text>
<text transform="translate(157.56 1657.38) rotate(341.881)" y="3.3" text-anchor="end" fill="#f9be8c"><tspan fill="#f9be8c">ILRI_14414</tspan><tspan dx="8">6</tspan></text>
<text transform="translate(154.75 1648.15) rotate(343.765)" y="3.3" text-anchor="end" fill="#f9be8c"><tspan fill="#f9be8c">ILRI_14486</tspan><tspan dx="8">2</tspan></text>
<text transform="translate(152.23 1638.84) rotate(345.650)" y="3.3" text-anchor="end" fill="#f9be8c"><tspan fill="#f9be8c">ILRI_14487</tspan><tspan dx="8">2</tspan></text>
<text transform="translate(150.03 1629.45) rotate(347.535)" y="3.3" text-anchor="end" fill="#f9be8c"><tspan fill="#f9be8c">ILRI_14468</tspan><tspan dx="8">4</tspan></text>
<text transform="translate(148.12 1619.99) rotate(349.420)" y="3.3" text-anchor="end" fill="#f9be8c"><tspan fill="#f9be8c">ILRI_7379</tspan><tspan dx="8">6</tspan></text>
<text transform="translate(146.53 1610.47) rotate(351.305)" y="3.3" text-anchor="end" fill="#f9be8c"><tspan fill="#f9be8c">ILRI_14461</tspan><tspan dx="8">2</tspan></text>
<text transform="translate(145.24 1600.90) rotate(353.190)" y="3.3" text-anchor="end" fill="#f9be8c"><tspan fill="#f9be8c">ILRI_18627</tspan><tspan dx="8">5</tspan></text>
<text transform="translate(144.27 1591.30) rotate(355.074)" y="3.3" text-anchor="end" fill="#f9be8c"><tspan fill="#f9be8c">ILRI_147</tspan><tspan dx="8">23</tspan></text>
<text transform="translate(143.61 1581.67) rotate(356.959)" y="3.3" text-anchor="end" fill="#f9be8c"><tspan fill="#f9be8c">ILRI_11634</tspan><tspan dx="8">5</tspan></text>
<text transform="translate(143.26 1572.02) rotate(358.844)" y="3.3" text-anchor="end" fill="#f9be8c"><tspan fill="#f9be8c">ILRI_14429</tspan><tspan dx="8">2</tspan></text>
<text transform="translate(143.22 1562.37) rotate(360.729)" y="3.3" text-anchor="end" fill="#c8c8c8"><tspan fill="#c8c8c8">ILRI_21065</tspan><tspan dx="8">3</tspan></text>
<text transform="translate(143.50 1552.72) rotate(362.614)" y="3.3" text-anchor="end" fill="#c8c8c8"><tspan fill="#c8c8c8">ILRI_21087</tspan><tspan dx="8">3</tspan></text>
<text transform="translate(144.09 1543.08) rotate(364.498)" y="3.3" text-anchor="end" fill="#c8c8c8"><tspan fill="#c8c8c8">ILRI_18624</tspan><tspan dx="8">13</tspan></text>
<text transform="translate(145.00 1533.47) rotate(366.383)" y="3.3" text-anchor="end" fill="#c8c8c8"><tspan fill="#c8c8c8">ILRI_13688</tspan><tspan dx="8">M</tspan></text>
<text transform="translate(146.21 1523.89) rotate(368.268)" y="3.3" text-anchor="end" fill="#c8c8c8"><tspan fill="#c8c8c8">ILRI_13700</tspan><tspan dx="8">4</tspan></text>
<text transform="translate(147.73 1514.36) rotate(370.153)" y="3.3" text-anchor="end" fill="#c8c8c8"><tspan fill="#c8c8c8">ILRI_11609</tspan><tspan dx="8">14</tspan></text>
<text transform="translate(149.57 1504.89) rotate(372.038)" y="3.3" text-anchor="end" fill="#c8c8c8"><tspan fill="#c8c8c8">ILRI_18629</tspan><tspan dx="8">9</tspan></text>
<text transform="translate(151.71 1495.48) rotate(373.923)" y="3.3" text-anchor="end" fill="#2c0c8c" stroke="#2c0c8c" stroke-width="0.45"><tspan fill="#2c0c8c">ILRI_14463</tspan><tspan dx="8">2</tspan></text>
<text transform="translate(154.15 1486.15) rotate(375.807)" y="3.3" text-anchor="end" fill="#2c0c8c" stroke="#2c0c8c" stroke-width="0.45"><tspan fill="#2c0c8c">ILRI_15436</tspan><tspan dx="8">7</tspan></text>
<text transform="translate(156.89 1476.90) rotate(377.692)" y="3.3" text-anchor="end" fill="#2c0c8c" stroke="#2c0c8c" stroke-width="0.45"><tspan fill="#2c0c8c">ILRI_18605</tspan><tspan dx="8">5</tspan></text>
<text transform="translate(159.94 1467.76) rotate(379.577)" y="3.3" text-anchor="end" fill="#2c0c8c" stroke="#2c0c8c" stroke-width="0.45"><tspan fill="#2c0c8c">ILRI_14474</tspan><tspan dx="8">6</tspan></text>
<text transform="translate(163.28 1458.71) rotate(381.462)" y="3.3" text-anchor="end" fill="#2c0c8c" stroke="#2c0c8c" stroke-width="0.45"><tspan fill="#2c0c8c">ILRI_14476</tspan><tspan dx="8">4</tspan></text>
<text transform="translate(166.91 1449.79) rotate(383.347)" y="3.3" text-anchor="end" fill="#2c0c8c" stroke="#2c0c8c" stroke-width="0.45"><tspan fill="#2c0c8c">ILRI_14435</tspan><tspan dx="8">3</tspan></text>
<text transform="translate(170.82 1440.99) rotate(385.231)" y="3.3" text-anchor="end" fill="#2c0c8c" stroke="#2c0c8c" stroke-width="0.45"><tspan fill="#2c0c8c">ILRI_14413</tspan><tspan dx="8">3</tspan></text>
<text transform="translate(175.03 1432.32) rotate(387.116)" y="3.3" text-anchor="end" fill="#2c0c8c" stroke="#2c0c8c" stroke-width="0.45"><tspan fill="#2c0c8c">ILRI_14471</tspan><tspan dx="8">6</tspan></text>
<text transform="translate(179.51 1423.80) rotate(389.001)" y="3.3" text-anchor="end" fill="#2c0c8c" stroke="#2c0c8c" stroke-width="0.45"><tspan fill="#2c0c8c">ILRI_14442</tspan><tspan dx="8">11</tspan></text>
<text transform="translate(184.26 1415.44) rotate(390.886)" y="3.3" text-anchor="end" fill="#2c0c8c" stroke="#2c0c8c" stroke-width="0.45"><tspan fill="#2c0c8c">ILRI_21061</tspan><tspan dx="8">5</tspan></text>
<text transform="translate(189.28 1407.23) rotate(392.771)" y="3.3" text-anchor="end" fill="#2c0c8c" stroke="#2c0c8c" stroke-width="0.45"><tspan fill="#2c0c8c">ILRI_11610</tspan><tspan dx="8">11</tspan></text>
<text transform="translate(194.57 1399.20) rotate(394.655)" y="3.3" text-anchor="end" fill="#2c0c8c" stroke="#2c0c8c" stroke-width="0.45"><tspan fill="#2c0c8c">ILRI_14412</tspan><tspan dx="8">4</tspan></text>
<text transform="translate(200.11 1391.35) rotate(396.540)" y="3.3" text-anchor="end" fill="#2c0c8c" stroke="#2c0c8c" stroke-width="0.45"><tspan fill="#2c0c8c">ILRI_14417</tspan><tspan dx="8">2</tspan></text>
<text transform="translate(205.91 1383.69) rotate(398.425)" y="3.3" text-anchor="end" fill="#2c0c8c" stroke="#2c0c8c" stroke-width="0.45"><tspan fill="#2c0c8c">ILRI_14434</tspan><tspan dx="8">2</tspan></text>
<text transform="translate(211.95 1376.23) rotate(400.310)" y="3.3" text-anchor="end" fill="#2c0c8c" stroke="#2c0c8c" stroke-width="0.45"><tspan fill="#2c0c8c">ILRI_14456</tspan><tspan dx="8">3</tspan></text>
<text transform="translate(218.23 1368.97) rotate(402.195)" y="3.3" text-anchor="end" fill="#2c0c8c" stroke="#2c0c8c" stroke-width="0.45"><tspan fill="#2c0c8c">ILRI_14478</tspan><tspan dx="8">5</tspan></text>
<text transform="translate(224.74 1361.92) rotate(404.080)" y="3.3" text-anchor="end" fill="#2c0c8c" stroke="#2c0c8c" stroke-width="0.45"><tspan fill="#2c0c8c">ILRI_14410</tspan><tspan dx="8">2</tspan></text>
<text transform="translate(231.48 1355.10) rotate(405.964)" y="3.3" text-anchor="end" fill="#2c0c8c" stroke="#2c0c8c" stroke-width="0.45"><tspan fill="#2c0c8c">ILRI_21029</tspan><tspan dx="8">5</tspan></text>
<text transform="translate(238.44 1348.50) rotate(407.849)" y="3.3" text-anchor="end" fill="#2c0c8c" stroke="#2c0c8c" stroke-width="0.45"><tspan fill="#2c0c8c">ILRI_14483</tspan><tspan dx="8">3</tspan></text>
<text transform="translate(245.60 1342.14) rotate(409.734)" y="3.3" text-anchor="end" fill="#2c0c8c" stroke="#2c0c8c" stroke-width="0.45"><tspan fill="#2c0c8c">ILRI_14457</tspan><tspan dx="8">3</tspan></text>
<text transform="translate(252.97 1336.03) rotate(411.619)" y="3.3" text-anchor="end" fill="#c8c8c8"><tspan fill="#c8c8c8">ILRI_21047</tspan><tspan dx="8">5</tspan></text>
<text transform="translate(260.53 1330.16) rotate(413.504)" y="3.3" text-anchor="end" fill="#c8c8c8"><tspan fill="#c8c8c8">ILRI_21071</tspan><tspan dx="8">5</tspan></text>
<text transform="translate(268.28 1324.54) rotate(415.388)" y="3.3" text-anchor="end" fill="#2c0c8c" stroke="#2c0c8c" stroke-width="0.45"><tspan fill="#2c0c8c">ILRI_21069</tspan><tspan dx="8">3</tspan></text>
<text transform="translate(276.21 1319.19) rotate(417.273)" y="3.3" text-anchor="end" fill="#2c0c8c" stroke="#2c0c8c" stroke-width="0.45"><tspan fill="#2c0c8c">ILRI_21033</tspan><tspan dx="8">5</tspan></text>
<text transform="translate(284.31 1314.11) rotate(419.158)" y="3.3" text-anchor="end" fill="#c8c8c8"><tspan fill="#c8c8c8">ILRI_21089</tspan><tspan dx="8">4</tspan></text>
<text transform="translate(292.56 1309.29) rotate(421.043)" y="3.3" text-anchor="end" fill="#2c0c8c" stroke="#2c0c8c" stroke-width="0.45"><tspan fill="#2c0c8c">ILRI_18593</tspan><tspan dx="8">7</tspan></text>
<text transform="translate(300.97 1304.76) rotate(422.928)" y="3.3" text-anchor="end" fill="#2c0c8c" stroke="#2c0c8c" stroke-width="0.45"><tspan fill="#2c0c8c">ILRI_18618</tspan><tspan dx="8">3</tspan></text>
<text transform="translate(309.52 1300.51) rotate(424.813)" y="3.3" text-anchor="end" fill="#c8c8c8"><tspan fill="#c8c8c8">ILRI_21084</tspan><tspan dx="8">3</tspan></text>
<text transform="translate(318.21 1296.54) rotate(426.697)" y="3.3" text-anchor="end" fill="#c8c8c8"><tspan fill="#c8c8c8">ILRI_21085</tspan><tspan dx="8">3</tspan></text>
<text transform="translate(327.02 1292.87) rotate(428.582)" y="3.3" text-anchor="end" fill="#2c0c8c" stroke="#2c0c8c" stroke-width="0.45"><tspan fill="#2c0c8c">ILRI_14493</tspan><tspan dx="8">2</tspan></text>
<text transform="translate(335.94 1289.49) rotate(430.467)" y="3.3" text-anchor="end" fill="#c8c8c8"><tspan fill="#c8c8c8">ILRI_14424</tspan><tspan dx="8">3</tspan></text>
<text transform="translate(344.97 1286.41) rotate(432.352)" y="3.3" text-anchor="end" fill="#2c0c8c" stroke="#2c0c8c" stroke-width="0.45"><tspan fill="#2c0c8c">ILRI_14428</tspan><tspan dx="8">2</tspan></text>
<text transform="translate(354.09 1283.64) rotate(434.237)" y="3.3" text-anchor="end" fill="#2c0c8c" stroke="#2c0c8c" stroke-width="0.45"><tspan fill="#2c0c8c">ILRI_21086</tspan><tspan dx="8">7</tspan></text>
<text transform="translate(363.30 1281.17) rotate(436.121)" y="3.3" text-anchor="end" fill="#2c0c8c" stroke="#2c0c8c" stroke-width="0.45"><tspan fill="#2c0c8c">ILRI_11612</tspan><tspan dx="8">4</tspan></text>
<text transform="translate(372.58 1279.01) rotate(438.006)" y="3.3" text-anchor="end" fill="#2c0c8c" stroke="#2c0c8c" stroke-width="0.45"><tspan fill="#2c0c8c">ILRI_11642</tspan><tspan dx="8">4</tspan></text>
<text transform="translate(381.93 1277.16) rotate(439.891)" y="3.3" text-anchor="end" fill="#2c0c8c" stroke="#2c0c8c" stroke-width="0.45"><tspan fill="#2c0c8c">ILRI_14427</tspan><tspan dx="8">3</tspan></text>
<text transform="translate(391.33 1275.62) rotate(441.776)" y="3.3" text-anchor="end" fill="#2c0c8c" stroke="#2c0c8c" stroke-width="0.45"><tspan fill="#2c0c8c">ILRI_14416</tspan><tspan dx="8">2</tspan></text>
<text transform="translate(400.78 1274.39) rotate(443.661)" y="3.3" text-anchor="end" fill="#2c0c8c" stroke="#2c0c8c" stroke-width="0.45"><tspan fill="#2c0c8c">ILRI_14475</tspan><tspan dx="8">7</tspan></text>
<text transform="translate(410.26 1273.49) rotate(445.546)" y="3.3" text-anchor="end" fill="#2c0c8c" stroke="#2c0c8c" stroke-width="0.45"><tspan fill="#2c0c8c">ILRI_24777</tspan><tspan dx="8">3</tspan></text>
<text transform="translate(419.77 1272.90) rotate(447.430)" y="3.3" text-anchor="end" fill="#2c0c8c" stroke="#2c0c8c" stroke-width="0.45"><tspan fill="#2c0c8c">ILRI_14420</tspan><tspan dx="8">2</tspan></text>
<text transform="translate(429.29 1272.62) rotate(449.315)" y="3.3" text-anchor="end" fill="#2c0c8c" stroke="#2c0c8c" stroke-width="0.45"><tspan fill="#2c0c8c">ILRI_14477</tspan><tspan dx="8">8</tspan></text>
</g>
<defs><path id="cp0" d="M614.93 1875.92A360 360 0 1 1 251.67 1254.28A360 360 0 1 1 614.93 1875.92"/><path id="cp1" d="M369.03 1925.92A366.5 366.5 0 1 1 497.57 1204.28A366.5 366.5 0 1 1 369.03 1925.92"/><path id="cp2" d="M275.45 1897.53A368 368 0 1 1 591.15 1232.67A368 368 0 1 1 275.45 1897.53"/><path id="cp3" d="M91.61 1700.39A367.5 367.5 0 1 1 774.99 1429.81A367.5 367.5 0 1 1 91.61 1700.39"/><path id="cp4" d="M172.46 1294.99A375.5 375.5 0 1 1 694.14 1835.21A375.5 375.5 0 1 1 172.46 1294.99"/><path id="cp5" d="M602.22 1246.06A361 361 0 1 1 264.38 1884.14A361 361 0 1 1 602.22 1246.06"/><path id="cp6" d="M791.34 1546.96A358.5 358.5 0 1 1 75.26 1583.24A358.5 358.5 0 1 1 791.34 1546.96"/></defs>
<text font-family="DejaVu Sans Condensed, DejaVu Sans, sans-serif" font-size="27" fill="#2c0c8c" text-anchor="middle"><textPath href="#cp0" startOffset="1131.0">Cluster VI</textPath></text>
<text font-family="DejaVu Sans Condensed, DejaVu Sans, sans-serif" font-size="27" fill="#5f9a2a" text-anchor="middle"><textPath href="#cp1" startOffset="1151.4">Cluster I</textPath></text>
<text font-family="DejaVu Sans Condensed, DejaVu Sans, sans-serif" font-size="27.5" fill="#e6e000" text-anchor="middle"><textPath href="#cp2" startOffset="1156.1">Clu V</textPath></text>
<text font-family="DejaVu Sans Condensed, DejaVu Sans, sans-serif" font-size="27.7" fill="#8a5995" text-anchor="middle"><textPath href="#cp3" startOffset="1154.5">Cluster II</textPath></text>
<text font-family="DejaVu Sans Condensed, DejaVu Sans, sans-serif" font-size="27.8" fill="#2b5fc7" text-anchor="middle"><textPath href="#cp4" startOffset="1179.7">Cluster III</textPath></text>
<text font-family="DejaVu Sans Condensed, DejaVu Sans, sans-serif" font-size="28.1" fill="#fa6208" text-anchor="middle"><textPath href="#cp5" startOffset="1134.1">Cluster IV</textPath></text>
<text font-family="DejaVu Sans Condensed, DejaVu Sans, sans-serif" font-size="28.6" fill="#fcc493" text-anchor="middle"><textPath href="#cp6" startOffset="1126.3">Cluster VII</textPath></text>
<text x="-4" y="1234.5" font-family="Liberation Sans, Arial, sans-serif" font-weight="bold" font-size="102" fill="#000">b</text>
<line x1="1794" y1="1223.7" x2="1794" y2="1899.8" stroke="#000" stroke-width="2.2"/>
<line x1="1006.8" y1="1599.3" x2="1894.8" y2="1599.3" stroke="#000" stroke-width="2.2"/>
<circle cx="1776.5" cy="1263.6" r="8.1" fill="#d3d3d3"/>
<circle cx="1820.5" cy="1254.0" r="8.1" fill="#d3d3d3"/>
<circle cx="1819.1" cy="1341.9" r="8.1" fill="#d3d3d3"/>
<circle cx="1822.3" cy="1346.9" r="8.1" fill="#d3d3d3"/>
<circle cx="1829" cy="1356.8" r="8.1" fill="#ff7f00"/>
<circle cx="1832.7" cy="1362.5" r="8.1" fill="#d3d3d3"/>
<circle cx="1825.2" cy="1379.9" r="8.1" fill="#d3d3d3"/>
<circle cx="1837.9" cy="1402.6" r="8.1" fill="#4169e1"/>
<circle cx="1837.9" cy="1416.3" r="8.1" fill="#d3d3d3"/>
<circle cx="1840.8" cy="1425.6" r="8.1" fill="#4169e1"/>
<circle cx="1838.5" cy="1430" r="8.1" fill="#d3d3d3"/>
<circle cx="1833.7" cy="1431.9" r="8.1" fill="#4169e1"/>
<circle cx="1843.6" cy="1436.2" r="8.1" fill="#4169e1"/>
<circle cx="1831.6" cy="1441.1" r="8.1" fill="#4169e1"/>
<circle cx="1842.9" cy="1441.3" r="8.1" fill="#4169e1"/>
<circle cx="1844.2" cy="1447.6" r="8.1" fill="#4169e1"/>
<circle cx="1834.1" cy="1452.6" r="8.1" fill="#ff7f00"/>
<circle cx="1838" cy="1452" r="8.1" fill="#4169e1"/>
<circle cx="1840" cy="1458" r="8.1" fill="#4169e1"/>
<circle cx="1833.5" cy="1463.3" r="8.1" fill="#4169e1"/>
<circle cx="1844.2" cy="1462" r="8.1" fill="#4169e1"/>
<circle cx="1849.2" cy="1486" r="8.1" fill="#d3d3d3"/>
<circle cx="1846.7" cy="1474" r="8.1" fill="#ff7f00"/>
<circle cx="1822.1" cy="1479.7" r="8.1" fill="#4169e1"/>
<circle cx="1842" cy="1485" r="8.1" fill="#ff7f00"/>
<circle cx="1841" cy="1488.5" r="8.1" fill="#d3d3d3"/>
<circle cx="1849.2" cy="1498.6" r="8.1" fill="#d3d3d3"/>
<circle cx="1837.9" cy="1495.4" r="8.1" fill="#4169e1"/>
<circle cx="1846.7" cy="1495.4" r="8.1" fill="#ff7f00"/>
<circle cx="1836.6" cy="1504.2" r="8.1" fill="#d3d3d3"/>
<circle cx="1839.1" cy="1504.2" r="8.1" fill="#ff7f00"/>
<circle cx="1847.3" cy="1512.4" r="8.1" fill="#ff7f00"/>
<circle cx="1836.6" cy="1520.6" r="8.1" fill="#d3d3d3"/>
<circle cx="1837.9" cy="1533.2" r="8.1" fill="#4169e1"/>
<circle cx="1845.4" cy="1535.7" r="8.1" fill="#4b0082"/>
<circle cx="1849.2" cy="1531" r="8.1" fill="#ff7f00"/>
<circle cx="1850.5" cy="1540.8" r="8.1" fill="#4b0082"/>
<circle cx="1834.7" cy="1545.2" r="8.1" fill="#d3d3d3"/>
<circle cx="1840" cy="1554" r="8.1" fill="#ff7f00"/>
<circle cx="1852.3" cy="1555.9" r="8.1" fill="#4b0082"/>
<circle cx="1840.4" cy="1554.6" r="8.1" fill="#d3d3d3"/>
<circle cx="1849.2" cy="1567.8" r="8.1" fill="#4b0082"/>
<circle cx="1844.2" cy="1564.7" r="8.1" fill="#d3d3d3"/>
<circle cx="1839.7" cy="1577.9" r="8.1" fill="#d3d3d3"/>
<circle cx="1839.1" cy="1597.4" r="8.1" fill="#d3d3d3"/>
<circle cx="1842.9" cy="1624.5" r="8.1" fill="#d3d3d3"/>
<circle cx="1836.6" cy="1640.9" r="8.1" fill="#d3d3d3"/>
<circle cx="1837.9" cy="1635.2" r="8.1" fill="#fdc087"/>
<circle cx="1843.5" cy="1654.7" r="8.1" fill="#fdc087"/>
<circle cx="1847.9" cy="1663.5" r="8.1" fill="#fdc087"/>
<circle cx="1847.3" cy="1667.3" r="8.1" fill="#fdc087"/>
<circle cx="1849.3" cy="1688.4" r="8.1" fill="#984ea3"/>
<circle cx="1846" cy="1674.3" r="8.1" fill="#fdc087"/>
<circle cx="1844.6" cy="1676.2" r="8.1" fill="#fdc087"/>
<circle cx="1847.3" cy="1679.6" r="8.1" fill="#fdc087"/>
<circle cx="1845.9" cy="1686.4" r="8.1" fill="#fdc087"/>
<circle cx="1844.4" cy="1666" r="8.1" fill="#d3d3d3"/>
<circle cx="1845.9" cy="1786.7" r="8.1" fill="#984ea3"/>
<circle cx="1852.8" cy="1848.7" r="8.1" fill="#984ea3"/>
<circle cx="1847.3" cy="1856.9" r="8.1" fill="#984ea3"/>
<circle cx="1855.5" cy="1861" r="8.1" fill="#984ea3"/>
<circle cx="1848.7" cy="1865.1" r="8.1" fill="#984ea3"/>
<circle cx="1854.1" cy="1870.6" r="8.1" fill="#984ea3"/>
<circle cx="1047.2" cy="1608.1" r="8.1" fill="#4daf4a"/>
<circle cx="1048.8" cy="1622.4" r="8.1" fill="#4daf4a"/>
<circle cx="1051.4" cy="1628.7" r="8.1" fill="#4daf4a"/>
<circle cx="1132.7" cy="1617.1" r="8.1" fill="#4daf4a"/>
<circle cx="1134.9" cy="1620.8" r="8.1" fill="#4daf4a"/>
<circle cx="1523.5" cy="1583.8" r="8.1" fill="#e5e000"/>
<circle cx="1525.6" cy="1580.2" r="8.1" fill="#e5e000"/>
<circle cx="1551.4" cy="1581.2" r="8.1" fill="#e5e000"/>
<circle cx="1559.9" cy="1596" r="8.1" fill="#e5e000"/>
<rect x="1006.8" y="1223.7" width="888" height="676.1" fill="none" stroke="#000" stroke-width="2.5"/>
<line x1="1000.5" y1="1250.3" x2="1005.5" y2="1250.3" stroke="#333" stroke-width="1.3"/>
<text x="998" y="1254.6" text-anchor="end" font-family="DejaVu Sans, sans-serif" font-size="22" fill="#4d4d4d">8</text>
<line x1="1000.5" y1="1424.5" x2="1005.5" y2="1424.5" stroke="#333" stroke-width="1.3"/>
<text x="998" y="1428.8" text-anchor="end" font-family="DejaVu Sans, sans-serif" font-size="22" fill="#4d4d4d">4</text>
<line x1="1000.5" y1="1598.8" x2="1005.5" y2="1598.8" stroke="#333" stroke-width="1.3"/>
<text x="1000" y="1603.1" text-anchor="end" font-family="DejaVu Sans, sans-serif" font-size="22" fill="#4d4d4d">0</text>
<line x1="1000.5" y1="1773" x2="1005.5" y2="1773" stroke="#333" stroke-width="1.3"/>
<text x="998" y="1777.3" text-anchor="end" font-family="DejaVu Sans, sans-serif" font-size="22" fill="#4d4d4d">4</text>
<line x1="1121.7" y1="1901" x2="1121.7" y2="1905.5" stroke="#333" stroke-width="1.3"/>
<text x="1118.5" y="1927" text-anchor="start" font-family="DejaVu Sans, sans-serif" font-size="22" fill="#4d4d4d">30</text>
<line x1="1346" y1="1901" x2="1346" y2="1905.5" stroke="#333" stroke-width="1.3"/>
<text x="1342.5" y="1927" text-anchor="start" font-family="DejaVu Sans, sans-serif" font-size="22" fill="#4d4d4d">20</text>
<line x1="1569.9" y1="1901" x2="1569.9" y2="1905.5" stroke="#333" stroke-width="1.3"/>
<text x="1566.5" y="1927" text-anchor="start" font-family="DejaVu Sans, sans-serif" font-size="22" fill="#4d4d4d">10</text>
<line x1="1794" y1="1901" x2="1794" y2="1905.5" stroke="#333" stroke-width="1.3"/>
<text x="1794" y="1927" text-anchor="middle" font-family="DejaVu Sans, sans-serif" font-size="22" fill="#4d4d4d">0</text>
<text x="1386.5" y="1964.8" font-family="Liberation Sans, Arial, sans-serif" font-size="32" textLength="165" lengthAdjust="spacingAndGlyphs" fill="#000">PC1 (52%)</text>
<text transform="translate(956.5 1517.3) rotate(-90)" text-anchor="middle" font-family="Liberation Sans, Arial, sans-serif" font-size="32" textLength="147" lengthAdjust="spacingAndGlyphs" fill="#000">PC2 (9%)</text>
<text x="1907.5" y="1479.6" font-family="Liberation Sans, Arial, sans-serif" font-size="17.5" textLength="63" lengthAdjust="spacingAndGlyphs" fill="#000">Cluster</text>
<circle cx="1923.5" cy="1499.3" r="8.4" fill="#d3d3d3"/>
<text x="1945.3" y="1505.6" font-family="Liberation Sans, Arial, sans-serif" font-size="16" fill="#000">Admx.</text>
<circle cx="1923.5" cy="1522.8" r="8.4" fill="#4daf4a"/>
<text x="1948.5" y="1529.1" font-family="Liberation Sans, Arial, sans-serif" font-size="16" fill="#000">I</text>
<circle cx="1923.5" cy="1546.3" r="8.4" fill="#95609e"/>
<text x="1948.5" y="1552.6" font-family="Liberation Sans, Arial, sans-serif" font-size="16" fill="#000">II</text>
<circle cx="1923.5" cy="1569.6" r="8.4" fill="#3a66cc"/>
<text x="1948.5" y="1575.9" font-family="Liberation Sans, Arial, sans-serif" font-size="16" fill="#000">III</text>
<circle cx="1923.5" cy="1593.1" r="8.4" fill="#ff7f00"/>
<text x="1948.5" y="1599.4" font-family="Liberation Sans, Arial, sans-serif" font-size="16" fill="#000">IV</text>
<circle cx="1925.4" cy="1617.9" r="8.4" fill="#e5dc00"/>
<text x="1948.5" y="1624.2" font-family="Liberation Sans, Arial, sans-serif" font-size="16" fill="#000">V</text>
<circle cx="1923.5" cy="1639.9" r="8.4" fill="#32008f"/>
<text x="1948.5" y="1646.2" font-family="Liberation Sans, Arial, sans-serif" font-size="16" fill="#000">VI</text>
<circle cx="1923.5" cy="1663.2" r="8.4" fill="#ffcc99"/>
<text x="1948.5" y="1669.5" font-family="Liberation Sans, Arial, sans-serif" font-size="16" fill="#000">VII</text>
<text x="856" y="1240" font-family="Liberation Sans, Arial, sans-serif" font-weight="bold" font-size="108" fill="#000">c</text>
</svg>
</body></html>
